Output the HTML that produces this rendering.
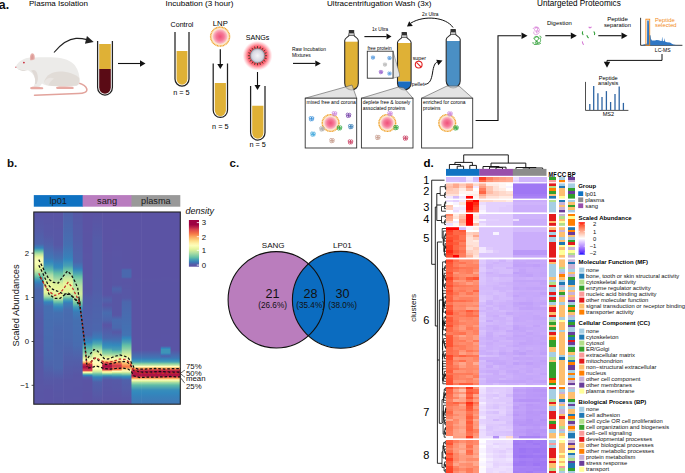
<!DOCTYPE html>
<html><head><meta charset="utf-8"><style>
html,body{margin:0;padding:0;background:#fff;width:685px;height:473px;overflow:hidden}
svg{display:block;font-family:"Liberation Sans",sans-serif}
</style></head><body>
<svg width="685" height="473" viewBox="0 0 685 473">
<rect width="685" height="473" fill="#fff"/>
<defs><radialGradient id="pinkg"><stop offset="0" stop-color="#f0507a"/><stop offset="0.55" stop-color="#f57a98"/><stop offset="1" stop-color="#fbc4cc"/></radialGradient><radialGradient id="glow"><stop offset="0.45" stop-color="#ff2a3c" stop-opacity="1"/><stop offset="0.7" stop-color="#ff5566" stop-opacity="0.75"/><stop offset="0.88" stop-color="#ff8a96" stop-opacity="0.35"/><stop offset="1" stop-color="#ffc0c8" stop-opacity="0"/></radialGradient><radialGradient id="sangc"><stop offset="0" stop-color="#f4f4f8"/><stop offset="0.7" stop-color="#d8d8e2"/><stop offset="1" stop-color="#a8a8b8"/></radialGradient></defs><text x="-1.2" y="8.8" font-size="12.3" text-anchor="start" font-weight="bold" fill="#111" font-style="normal" >a.</text><text x="29" y="6.3" font-size="8.05" text-anchor="start" font-weight="normal" fill="#000" font-style="normal" >Plasma Isolation</text><text x="165.5" y="6.3" font-size="8.1" text-anchor="start" font-weight="normal" fill="#000" font-style="normal" >Incubation (3 hour)</text><text x="327" y="6.3" font-size="8.1" text-anchor="start" font-weight="normal" fill="#000" font-style="normal" >Ultracentrifugation Wash (3x)</text><text x="537" y="6.3" font-size="8.2" text-anchor="start" font-weight="normal" fill="#000" font-style="normal" >Untargeted Proteomics</text><path d="M78.5,83 C82,84 86,86 86.8,89 C87.5,92 84,93.4 78,93.6 C68,94 52,94.6 34.5,95.3" fill="none" stroke="#e2a39c" stroke-width="1.5" stroke-linecap="round"/><path d="M15.6,67.1 C16.5,64.5 19.5,61 23.5,59.3 C26.5,57.8 29.5,57 32.5,57.6 C38,57.5 46,57.2 55,57.5 C64,57.9 71,60.5 75,65.5 C78.5,70 79.8,76 79.6,82 C79.3,85 76.5,86.3 72.5,86.3 C66,86.5 58,86.5 52,86 C47,85.6 44,85 42,83.5 C41,85 40,86.5 38.5,87.5 L33,87.5 C34.5,85 35.5,82 35,78.5 C34,75 31.5,72 28.5,70.5 C25,69.8 21,69.6 18,68.8 C16.6,68.4 15.6,67.8 15.6,67.1 Z" fill="#ecebe9"/><path d="M44,82 C46,75 52,71.5 60,71.5 C68,71.5 75,74 79.3,78 C79.8,81 79.5,84 77,85.6 C70,86.5 60,86.4 52,86 C48,85.6 45.5,84.5 44,82 Z" fill="#e1dcd7"/><path d="M44,82 C47,78 50,77 54,78.5 C51,80.5 49,83.5 48.5,85.6 C46.5,85 45,84 44,82 Z" fill="#e9e5e2"/><path d="M31,70.8 C33.5,69 36,70 37,73 C38.5,77 38,81 36.5,84 L35,84 C35.5,81 35,77 33.5,74 C32.8,72.6 32,71.5 31,70.8 Z" fill="#e0dad6"/><path d="M17,68.4 C20,69.5 24,69.8 27.5,70.2 C24,71.2 20,70.6 17,68.4 Z" fill="#d8d2cd"/><path d="M30.2,60.2 C29.4,56.5 30.5,53.3 32.3,53.2 C34.3,53.2 35.2,56.2 34.6,59.2 C33.5,60 31.5,60.5 30.2,60.2 Z" fill="#e8b3ae"/><path d="M31.2,59.5 C30.8,57 31.4,54.6 32.4,54.4 C33.5,54.4 33.9,56.8 33.4,59 Z" fill="#dc9c98"/><circle cx="23.9" cy="62.6" r="0.85" fill="#c82030"/><circle cx="15.8" cy="67.3" r="0.75" fill="#dd7c85"/><path d="M30.3,87.5 C31,86.6 33,86.5 36,86.8 L42.5,87.3 C43.6,87.6 43.6,89 42.5,89.2 L31.5,89.2 C30.4,89.1 29.8,88.3 30.3,87.5 Z" fill="#e7a9a2"/><path d="M56.2,87.3 C57,86.4 60,86.3 64,86.5 L72.5,86.8 C74,87.1 74.3,88.7 73,89.1 L57.5,89.1 C56.4,89 55.8,88.1 56.2,87.3 Z" fill="#e7a9a2"/><path d="M54,52.5 C61,44 68,39 76,38.4 C80,38.2 83,38.6 87,39.6" fill="none" stroke="#222" stroke-width="1.1"/><polygon points="93.7,41.9 84.94,43.78 86.94,36.02" fill="#222"/><rect x="99.19999999999999" y="44" width="11.600000000000023" height="25" fill="#dfb136"/><path d="M99.19999999999999,69 L110.80000000000001,69 L110.80000000000001,87.6 A5.800000000000011,6.090000000000012 0 0 1 99.19999999999999,87.6 Z" fill="#5a0b15"/><path d="M97.6,41 L97.6,87.6 A7.400000000000006,7.400000000000006 0 0 0 112.4,87.6 L112.4,41" fill="none" stroke="#222" stroke-width="1.25"/><line x1="118" y1="63.5" x2="140.00" y2="63.50" stroke="#111" stroke-width="1.1"/><polygon points="145.5,63.5 140.00,66.70 140.00,60.30" fill="#111"/><text x="182" y="26.5" font-size="7.1" text-anchor="middle" font-weight="normal" fill="#000" font-style="normal" >Control</text><path d="M176.6,51 L187.4,51 L187.4,79.0 A5.400000000000006,5.670000000000006 0 0 1 176.6,79.0 Z" fill="#dfb136"/><path d="M175,32 L175,79.0 A7.0,7.0 0 0 0 189,79.0 L189,32" fill="none" stroke="#222" stroke-width="1.25"/><text x="181.4" y="94.9" font-size="7.3" text-anchor="middle" font-weight="normal" fill="#000" font-style="normal" >n = 5</text><text x="220.3" y="25.5" font-size="7.7" text-anchor="middle" font-weight="normal" fill="#000" font-style="normal" >LNP</text><circle cx="220.1" cy="36.6" r="9.5" fill="#fde6cc" stroke="#f0a530" stroke-width="1.4" stroke-dasharray="1.1,0.45"/><circle cx="220.1" cy="36.6" r="7.3" fill="url(#pinkg)"/><line x1="220.3" y1="49.3" x2="220.30" y2="63.90" stroke="#111" stroke-width="1.2"/><polygon points="220.3,68.9 217.30,63.90 223.30,63.90" fill="#111"/><path d="M214.79999999999998,83 L225.9,83 L225.9,110.35 A5.550000000000011,5.827500000000012 0 0 1 214.79999999999998,110.35 Z" fill="#dfb136"/><path d="M213.2,63.5 L213.2,110.35 A7.150000000000006,7.150000000000006 0 0 0 227.5,110.35 L227.5,63.5" fill="none" stroke="#222" stroke-width="1.25"/><text x="220.3" y="128.5" font-size="7.3" text-anchor="middle" font-weight="normal" fill="#000" font-style="normal" >n = 5</text><text x="257.5" y="40.3" font-size="7.1" text-anchor="middle" font-weight="normal" fill="#000" font-style="normal" >SANGs</text><circle cx="257.5" cy="55.7" r="15" fill="url(#glow)"/><path d="M264.70,55.70 L267.10,55.70 M264.35,57.92 L266.63,58.67 M263.32,59.93 L265.27,61.34 M261.73,61.52 L263.14,63.47 M259.72,62.55 L260.47,64.83 M257.50,62.90 L257.50,65.30 M255.28,62.55 L254.53,64.83 M253.27,61.52 L251.86,63.47 M251.68,59.93 L249.73,61.34 M250.65,57.92 L248.37,58.67 M250.30,55.70 L247.90,55.70 M250.65,53.48 L248.37,52.73 M251.68,51.47 L249.73,50.06 M253.27,49.88 L251.86,47.93 M255.28,48.85 L254.53,46.57 M257.50,48.50 L257.50,46.10 M259.72,48.85 L260.47,46.57 M261.73,49.88 L263.14,47.93 M263.32,51.47 L265.27,50.06 M264.35,53.48 L266.63,52.73" stroke="#332" stroke-width="0.8"/><circle cx="257.5" cy="55.7" r="7.3" fill="url(#sangc)" stroke="#777" stroke-width="0.5"/><line x1="257.5" y1="72" x2="257.50" y2="85.00" stroke="#111" stroke-width="1.1"/><polygon points="257.5,90 254.50,85.00 260.50,85.00" fill="#111"/><path d="M252.2,105.7 L263.4,105.7 L263.4,132.8 A5.599999999999994,5.879999999999995 0 0 1 252.2,132.8 Z" fill="#dfb136"/><path d="M250.6,86 L250.6,132.8 A7.200000000000003,7.200000000000003 0 0 0 265,132.8 L265,86" fill="none" stroke="#222" stroke-width="1.25"/><text x="257.7" y="147.4" font-size="7.3" text-anchor="middle" font-weight="normal" fill="#000" font-style="normal" >n = 5</text><text x="292" y="51" font-size="4.95" text-anchor="start" font-weight="normal" fill="#000" font-style="normal" >Raw Incubation</text><text x="292" y="56.6" font-size="4.95" text-anchor="start" font-weight="normal" fill="#000" font-style="normal" >Mixtures</text><line x1="293" y1="63.4" x2="315.30" y2="63.40" stroke="#111" stroke-width="1.1"/><polygon points="320.8,63.4 315.30,66.40 315.30,60.40" fill="#111"/><clipPath id="uc351"><path d="M349.1,35 L353.9,35 C353.9,37 358.3,37.5 358.3,40.5 L358.3,83.2 A6.8,6.8 0 0 1 344.7,83.2 L344.7,40.5 C344.7,37.5 349.1,37 349.1,35 Z"/></clipPath><path d="M349.1,35 L353.9,35 C353.9,37 358.3,37.5 358.3,40.5 L358.3,83.2 A6.8,6.8 0 0 1 344.7,83.2 L344.7,40.5 C344.7,37.5 349.1,37 349.1,35 Z" fill="#fff"/><rect x="344.7" y="41.7" width="13.6" height="53.3" fill="#dfb136" clip-path="url(#uc351)"/><path d="M349.1,35 L353.9,35 C353.9,37 358.3,37.5 358.3,40.5 L358.3,83.2 A6.8,6.8 0 0 1 344.7,83.2 L344.7,40.5 C344.7,37.5 349.1,37 349.1,35 Z" fill="none" stroke="#2a2a2a" stroke-width="1.1"/><rect x="348.8" y="30" width="5.4" height="3.2" rx="0.6" fill="#333"/><rect x="348.9" y="33.1" width="5.2" height="2" fill="#eee" stroke="#333" stroke-width="0.6"/><text x="372" y="30.5" font-size="4.7" text-anchor="start" font-weight="normal" fill="#000" font-style="normal" >1x Ultra</text><line x1="364.4" y1="36.6" x2="386.50" y2="36.60" stroke="#111" stroke-width="1.1"/><polygon points="391.5,36.6 386.50,39.60 386.50,33.60" fill="#111"/><clipPath id="uc404"><path d="M401.90000000000003,37 L406.7,37 C406.7,39 411.1,39.5 411.1,42.5 L411.1,83.2 A6.8,6.8 0 0 1 397.5,83.2 L397.5,42.5 C397.5,39.5 401.90000000000003,39 401.90000000000003,37 Z"/></clipPath><path d="M401.90000000000003,37 L406.7,37 C406.7,39 411.1,39.5 411.1,42.5 L411.1,83.2 A6.8,6.8 0 0 1 397.5,83.2 L397.5,42.5 C397.5,39.5 401.90000000000003,39 401.90000000000003,37 Z" fill="#fff"/><rect x="397.5" y="43" width="13.6" height="38.5" fill="#dfb136" clip-path="url(#uc404)"/><rect x="397.5" y="81.5" width="13.6" height="13.5" fill="#1a6cc0" clip-path="url(#uc404)"/><path d="M401.90000000000003,37 L406.7,37 C406.7,39 411.1,39.5 411.1,42.5 L411.1,83.2 A6.8,6.8 0 0 1 397.5,83.2 L397.5,42.5 C397.5,39.5 401.90000000000003,39 401.90000000000003,37 Z" fill="none" stroke="#2a2a2a" stroke-width="1.1"/><rect x="401.6" y="32" width="5.4" height="3.2" rx="0.6" fill="#333"/><rect x="401.7" y="35.1" width="5.2" height="2" fill="#eee" stroke="#333" stroke-width="0.6"/><polygon points="393,51.2 399.5,74 399.5,76.5 393,78.2" fill="#e4e4e4" stroke="#666" stroke-width="0.5"/><rect x="367.3" y="51.2" width="25.7" height="27" fill="#fff" stroke="#333" stroke-width="0.9"/><text x="367.4" y="50" font-size="4.8" text-anchor="start" font-weight="normal" fill="#000" font-style="normal" >free protein</text><g fill="none" stroke="#5fa0e0" stroke-width="0.8"><circle cx="372.22" cy="56.915" r="0.9750000000000001"/><circle cx="373.78" cy="57.0125" r="0.9750000000000001"/><circle cx="372.415" cy="58.28" r="0.9750000000000001"/><circle cx="373.6825" cy="58.1825" r="0.8775000000000001"/></g><g fill="none" stroke="#5fa0e0" stroke-width="0.8"><circle cx="388.72" cy="57.415" r="0.9750000000000001"/><circle cx="390.28" cy="57.5125" r="0.9750000000000001"/><circle cx="388.915" cy="58.78" r="0.9750000000000001"/><circle cx="390.1825" cy="58.6825" r="0.8775000000000001"/></g><g fill="none" stroke="#bbbbbb" stroke-width="0.8"><circle cx="384.22" cy="63.915" r="0.9750000000000001"/><circle cx="385.78" cy="64.0125" r="0.9750000000000001"/><circle cx="384.415" cy="65.28" r="0.9750000000000001"/><circle cx="385.6825" cy="65.1825" r="0.8775000000000001"/></g><g fill="none" stroke="#9966cc" stroke-width="0.8"><circle cx="380.22" cy="71.415" r="0.9750000000000001"/><circle cx="381.78" cy="71.5125" r="0.9750000000000001"/><circle cx="380.415" cy="72.78" r="0.9750000000000001"/><circle cx="381.6825" cy="72.6825" r="0.8775000000000001"/></g><g fill="none" stroke="#5fa0e0" stroke-width="0.8"><circle cx="388.72" cy="72.915" r="0.9750000000000001"/><circle cx="390.28" cy="73.0125" r="0.9750000000000001"/><circle cx="388.915" cy="74.28" r="0.9750000000000001"/><circle cx="390.1825" cy="74.1825" r="0.8775000000000001"/></g><text x="412.7" y="59.8" font-size="5.3" text-anchor="start" font-weight="normal" fill="#000" font-style="normal" >super</text><circle cx="418.7" cy="64.6" r="3.4" fill="none" stroke="#e02020" stroke-width="1.1"/><line x1="416.4" y1="62.3" x2="421" y2="66.9" stroke="#e02020" stroke-width="1.1"/><text x="411.7" y="86" font-size="5.3" text-anchor="start" font-weight="normal" fill="#000" font-style="normal" >pellet</text><path d="M424.5,84.3 C430,84.3 431.5,79 432.5,73 C433.5,66 435,62.5 437.5,62" fill="none" stroke="#111" stroke-width="1"/><polygon points="442.5,60.6 438.35,65.29 436.31,59.65" fill="#111"/><text x="422" y="16" font-size="4.8" text-anchor="start" font-weight="normal" fill="#000" font-style="normal" >2x Ultra</text><path d="M453,27.5 C446,17 424,15 411,23" fill="none" stroke="#111" stroke-width="1"/><polygon points="407,26.6 409.20,21.20 412.80,26.00" fill="#111"/><clipPath id="uc453"><path d="M450.8,34 L455.59999999999997,34 C455.59999999999997,36 460.2,36.5 460.2,39.5 L460.2,81.0 A7.0,7.0 0 0 1 446.2,81.0 L446.2,39.5 C446.2,36.5 450.8,36 450.8,34 Z"/></clipPath><path d="M450.8,34 L455.59999999999997,34 C455.59999999999997,36 460.2,36.5 460.2,39.5 L460.2,81.0 A7.0,7.0 0 0 1 446.2,81.0 L446.2,39.5 C446.2,36.5 450.8,36 450.8,34 Z" fill="#fff"/><rect x="446.2" y="41" width="14" height="54" fill="#4a8fc4" clip-path="url(#uc453)"/><path d="M450.8,34 L455.59999999999997,34 C455.59999999999997,36 460.2,36.5 460.2,39.5 L460.2,81.0 A7.0,7.0 0 0 1 446.2,81.0 L446.2,39.5 C446.2,36.5 450.8,36 450.8,34 Z" fill="none" stroke="#2a2a2a" stroke-width="1.1"/><rect x="450.5" y="29" width="5.4" height="3.2" rx="0.6" fill="#333"/><rect x="450.59999999999997" y="32.1" width="5.2" height="2" fill="#eee" stroke="#333" stroke-width="0.6"/><polygon points="305.2,98.2 347,86.5 352,85 356.7,98.2" fill="#d9d9d9" fill-opacity="0.75" stroke="#555" stroke-width="0.6"/><polygon points="361.4,98.2 398.5,87 404,88 413,98.2" fill="#d9d9d9" fill-opacity="0.75" stroke="#555" stroke-width="0.6"/><polygon points="421.6,98.2 447,86 459,86 472.7,98.2" fill="#d9d9d9" fill-opacity="0.75" stroke="#555" stroke-width="0.6"/><rect x="305.2" y="98.2" width="51.5" height="49.8" fill="#fff" stroke="#333" stroke-width="0.9"/><rect x="361.4" y="98.2" width="51.60000000000002" height="49.8" fill="#fff" stroke="#333" stroke-width="0.9"/><rect x="421.6" y="98.2" width="51.099999999999966" height="49.8" fill="#fff" stroke="#333" stroke-width="0.9"/><text x="306.6" y="104" font-size="4.95" text-anchor="start" font-weight="normal" fill="#000" font-style="normal" >mixed free and corona</text><text x="362.8" y="104" font-size="4.95" text-anchor="start" font-weight="normal" fill="#000" font-style="normal" >deplete free &amp; loosely</text><text x="362.8" y="109.6" font-size="4.95" text-anchor="start" font-weight="normal" fill="#000" font-style="normal" >associated proteins</text><text x="423" y="104" font-size="4.95" text-anchor="start" font-weight="normal" fill="#000" font-style="normal" >enriched for corona</text><text x="423" y="109.6" font-size="4.95" text-anchor="start" font-weight="normal" fill="#000" font-style="normal" >proteins</text><circle cx="330.6" cy="123" r="8.4" fill="#fde6cc" stroke="#f0a530" stroke-width="1.4" stroke-dasharray="1.1,0.45"/><circle cx="330.6" cy="123" r="6.2" fill="url(#pinkg)"/><circle cx="387.3" cy="123" r="8.4" fill="#fde6cc" stroke="#f0a530" stroke-width="1.4" stroke-dasharray="1.1,0.45"/><circle cx="387.3" cy="123" r="6.2" fill="url(#pinkg)"/><circle cx="447.2" cy="123" r="8.4" fill="#fde6cc" stroke="#f0a530" stroke-width="1.4" stroke-dasharray="1.1,0.45"/><circle cx="447.2" cy="123" r="6.2" fill="url(#pinkg)"/><g fill="none" stroke="#cc88dd" stroke-width="0.8"><circle cx="333.46" cy="112.82" r="1.3"/><circle cx="335.54" cy="112.94999999999999" r="1.3"/><circle cx="333.72" cy="114.64" r="1.3"/><circle cx="335.41" cy="114.50999999999999" r="1.1700000000000002"/></g><g fill="none" stroke="#33aa44" stroke-width="0.8"><circle cx="338.46" cy="127.02" r="1.3"/><circle cx="340.54" cy="127.14999999999999" r="1.3"/><circle cx="338.72" cy="128.84" r="1.3"/><circle cx="340.41" cy="128.71" r="1.1700000000000002"/></g><g fill="none" stroke="#3a8fd8" stroke-width="0.8"><circle cx="310.46" cy="117.82" r="1.3"/><circle cx="312.54" cy="117.94999999999999" r="1.3"/><circle cx="310.72" cy="119.64" r="1.3"/><circle cx="312.41" cy="119.50999999999999" r="1.1700000000000002"/></g><g fill="none" stroke="#7744aa" stroke-width="0.8"><circle cx="347.46" cy="114.42" r="1.3"/><circle cx="349.54" cy="114.55" r="1.3"/><circle cx="347.72" cy="116.24000000000001" r="1.3"/><circle cx="349.41" cy="116.11" r="1.1700000000000002"/></g><g fill="none" stroke="#3a7fb8" stroke-width="0.8"><circle cx="349.76" cy="125.72" r="1.3"/><circle cx="351.84000000000003" cy="125.85" r="1.3"/><circle cx="350.02000000000004" cy="127.54" r="1.3"/><circle cx="351.71000000000004" cy="127.41" r="1.1700000000000002"/></g><g fill="none" stroke="#aaaaaa" stroke-width="0.8"><circle cx="320.96" cy="128.02" r="1.3"/><circle cx="323.04" cy="128.15" r="1.3"/><circle cx="321.22" cy="129.84" r="1.3"/><circle cx="322.91" cy="129.71" r="1.1700000000000002"/></g><g fill="none" stroke="#44aadd" stroke-width="0.8"><circle cx="311.96" cy="133.22" r="1.3"/><circle cx="314.04" cy="133.35" r="1.3"/><circle cx="312.22" cy="135.04" r="1.3"/><circle cx="313.91" cy="134.91" r="1.1700000000000002"/></g><g fill="none" stroke="#c8a090" stroke-width="0.8"><circle cx="330.96" cy="139.72" r="1.3"/><circle cx="333.04" cy="139.85" r="1.3"/><circle cx="331.22" cy="141.54" r="1.3"/><circle cx="332.91" cy="141.41" r="1.1700000000000002"/></g><g fill="none" stroke="#cc4466" stroke-width="0.8"><circle cx="349.46" cy="141.02" r="1.3"/><circle cx="351.54" cy="141.15" r="1.3"/><circle cx="349.72" cy="142.84" r="1.3"/><circle cx="351.41" cy="142.71" r="1.1700000000000002"/></g><g fill="none" stroke="#cc88dd" stroke-width="0.8"><circle cx="388.96" cy="112.82" r="1.3"/><circle cx="391.04" cy="112.94999999999999" r="1.3"/><circle cx="389.22" cy="114.64" r="1.3"/><circle cx="390.91" cy="114.50999999999999" r="1.1700000000000002"/></g><g fill="none" stroke="#33aa44" stroke-width="0.8"><circle cx="394.96" cy="126.72" r="1.3"/><circle cx="397.04" cy="126.85" r="1.3"/><circle cx="395.22" cy="128.54" r="1.3"/><circle cx="396.91" cy="128.41" r="1.1700000000000002"/></g><g fill="none" stroke="#c8a090" stroke-width="0.8"><circle cx="376.76" cy="136.52" r="1.3"/><circle cx="378.84000000000003" cy="136.65" r="1.3"/><circle cx="377.02000000000004" cy="138.34" r="1.3"/><circle cx="378.71000000000004" cy="138.21" r="1.1700000000000002"/></g><g fill="none" stroke="#cc4466" stroke-width="0.8"><circle cx="404.46" cy="137.22" r="1.3"/><circle cx="406.54" cy="137.35" r="1.3"/><circle cx="404.72" cy="139.04" r="1.3"/><circle cx="406.41" cy="138.91" r="1.1700000000000002"/></g><g fill="none" stroke="#cc88dd" stroke-width="0.8"><circle cx="448.96" cy="113.02" r="1.3"/><circle cx="451.04" cy="113.14999999999999" r="1.3"/><circle cx="449.22" cy="114.84" r="1.3"/><circle cx="450.91" cy="114.71" r="1.1700000000000002"/></g><g fill="none" stroke="#33aa44" stroke-width="0.8"><circle cx="454.96" cy="127.02" r="1.3"/><circle cx="457.04" cy="127.14999999999999" r="1.3"/><circle cx="455.22" cy="128.84" r="1.3"/><circle cx="456.91" cy="128.71" r="1.1700000000000002"/></g><path d="M475.6,120.5 L498,120.5 L498,35.7 L521,35.7" fill="none" stroke="#111" stroke-width="1.1"/><polygon points="527.5,35.7 521.50,39.00 521.50,32.40" fill="#111"/><g fill="none" stroke="#d67ad6" stroke-width="0.7"><path d="M533,29 c1,-2.5 4,-2.5 4.5,0 c0.5,2 -2.5,3 -3,1 c-0.5,-2 3,-3.5 4.5,-1.5 c1.2,1.8 -0.5,4 -2.5,3.5"/><path d="M534,31.5 c-1,2 1,4 3,3 c2,-1 3,-2.5 1.5,-3.5 c-1.5,-1 -3,1 -1.5,2.5"/><path d="M535,27.5 c2,-1.5 4,0 3,1.5"/></g><g fill="none" stroke="#2e9e35" stroke-width="0.85"><path d="M533.5,38.5 c1,-2.5 4.5,-2.5 5,-0.5 c0.5,2 -2,3.5 -3.5,2 c-1.5,-1.5 1,-4 3,-3 c2,1 3.5,3 2,5 c-1.5,2 -4,1 -3.5,-1"/><path d="M533,42 c-0.5,2 1.5,3 3.5,2.3 c2,-0.7 2,-2.5 0.5,-3 c-1.5,-0.5 -2.5,1.5 -1,2.5 c1.5,1 4,0.5 5,-1"/><path d="M539.5,36 c1.5,0 2,1.5 1,2.5"/></g><text x="547" y="24.6" font-size="5.95" text-anchor="start" font-weight="normal" fill="#000" font-style="normal" >Digestion</text><line x1="545.3" y1="35.7" x2="570.80" y2="35.70" stroke="#111" stroke-width="1.1"/><polygon points="576.8,35.7 570.80,39.00 570.80,32.40" fill="#111"/><g fill="none" stroke-width="1.1" stroke-linecap="round"><path d="M589,27.2 q1,1.3 2.2,0" stroke="#d67ad6"/><path d="M582.6,31.8 q-0.8,1.5 0.4,2.8" stroke="#2e9e35"/><path d="M587,35.5 q0.2,1.5 1.3,2.2" stroke="#2e9e35"/><path d="M594,31.8 q1.2,1.3 0.5,2.8" stroke="#2e9e35"/><path d="M582.4,41.8 q0,1.5 1,2.6" stroke="#d67ad6"/></g><text x="617.5" y="21.3" font-size="6.1" text-anchor="middle" font-weight="normal" fill="#000" font-style="normal" >Peptide</text><text x="617.5" y="26.8" font-size="5.8" text-anchor="middle" font-weight="normal" fill="#000" font-style="normal" >separation</text><line x1="598.3" y1="35.7" x2="621.50" y2="35.70" stroke="#111" stroke-width="1.1"/><polygon points="627.5,35.7 621.50,39.00 621.50,32.40" fill="#111"/><path d="M640.6,17.8 L640.6,45.3 L682.4,45.3" fill="none" stroke="#222" stroke-width="0.9"/><path d="M642.5,45.2 L643.6,44.4 L645.5,44 L647,43.5 L647.2,20.5 L648.8,20.5 L649.4,35.3 L650.5,35.3 L651,39 L652,40.6 L655,40.4 L656.5,40 L658.8,40.3 L661,41 L661.7,41 L662.2,36.4 L662.8,41 L664,41.2 L664.5,38 L665,41.5 L667,42.3 L670,42.5 L671.5,43.5 L673.3,44.4 L676,44.9 L682,45.2 Z" fill="#2f77c4"/><rect x="645.9" y="19.2" width="3.8" height="26" fill="none" stroke="#f28a1e" stroke-width="0.9"/><text x="655" y="22.2" font-size="5.8" text-anchor="start" font-weight="normal" fill="#f28a1e" font-style="normal" >Peptide</text><text x="655" y="26.9" font-size="5.8" text-anchor="start" font-weight="normal" fill="#f28a1e" font-style="normal" >selected</text><text x="662.7" y="52.1" font-size="5.05" text-anchor="middle" font-weight="normal" fill="#000" font-style="normal" >LC-MS</text><path d="M662,54 L662,60.4 L607,60.4 L607,62" fill="none" stroke="#111" stroke-width="1"/><polygon points="607,67.8 603.80,61.80 610.20,61.80" fill="#111"/><text x="608.2" y="79.6" font-size="5.6" text-anchor="middle" font-weight="normal" fill="#000" font-style="normal" >Peptide</text><text x="608.2" y="85" font-size="5.6" text-anchor="middle" font-weight="normal" fill="#000" font-style="normal" >analysis</text><path d="M585.5,81.9 L585.5,110.4 L628.4,110.4" fill="none" stroke="#222" stroke-width="0.8"/><line x1="589.8" y1="104" x2="589.8" y2="110" stroke="#2d64a3" stroke-width="1.3"/><line x1="593.7" y1="86.1" x2="593.7" y2="110" stroke="#2d64a3" stroke-width="1.3"/><line x1="597.9" y1="93.3" x2="597.9" y2="110" stroke="#2d64a3" stroke-width="1.3"/><line x1="602" y1="97" x2="602" y2="110" stroke="#2d64a3" stroke-width="1.3"/><line x1="606.4" y1="91.1" x2="606.4" y2="110" stroke="#2d64a3" stroke-width="1.3"/><line x1="610.6" y1="102" x2="610.6" y2="110" stroke="#2d64a3" stroke-width="1.3"/><line x1="615" y1="94" x2="615" y2="110" stroke="#2d64a3" stroke-width="1.3"/><line x1="619.2" y1="86.6" x2="619.2" y2="110" stroke="#2d64a3" stroke-width="1.3"/><line x1="623.4" y1="102.9" x2="623.4" y2="110" stroke="#2d64a3" stroke-width="1.3"/><text x="608.3" y="116.2" font-size="5.5" text-anchor="middle" font-weight="normal" fill="#000" font-style="normal" >MS2</text><text x="7" y="167" font-size="11.5" text-anchor="start" font-weight="bold" fill="#111" font-style="normal" >b.</text><rect x="33.80" y="195.1" width="49.33" height="11.6" fill="#0f72c2"/><text x="58.22" y="204" font-size="9.2" text-anchor="middle" font-weight="normal" fill="#1a1a1a" font-style="normal" >lp01</text><rect x="82.63" y="195.1" width="49.33" height="11.6" fill="#b97cbf"/><text x="107.05" y="204" font-size="9.2" text-anchor="middle" font-weight="normal" fill="#1a1a1a" font-style="normal" >sang</text><rect x="131.47" y="195.1" width="48.83" height="11.6" fill="#999999"/><text x="155.88" y="204" font-size="9.2" text-anchor="middle" font-weight="normal" fill="#1a1a1a" font-style="normal" >plasma</text><defs><linearGradient id="bc0" x1="0" y1="0" x2="0" y2="1"><stop offset="0.0000" stop-color="#5a54a5"/><stop offset="0.0078" stop-color="#5955a5"/><stop offset="0.0156" stop-color="#5955a5"/><stop offset="0.0234" stop-color="#5956a5"/><stop offset="0.0312" stop-color="#5856a6"/><stop offset="0.0390" stop-color="#5857a6"/><stop offset="0.0468" stop-color="#5757a6"/><stop offset="0.0546" stop-color="#5758a6"/><stop offset="0.0624" stop-color="#5758a6"/><stop offset="0.0702" stop-color="#5659a7"/><stop offset="0.0780" stop-color="#565aa7"/><stop offset="0.0832" stop-color="#565aa7"/><stop offset="0.0858" stop-color="#555aa7"/><stop offset="0.0937" stop-color="#555ba8"/><stop offset="0.1015" stop-color="#545ca8"/><stop offset="0.1093" stop-color="#535da9"/><stop offset="0.1171" stop-color="#525ea9"/><stop offset="0.1249" stop-color="#515faa"/><stop offset="0.1327" stop-color="#5160aa"/><stop offset="0.1405" stop-color="#5061ab"/><stop offset="0.1483" stop-color="#4f62ab"/><stop offset="0.1561" stop-color="#4e63ac"/><stop offset="0.1639" stop-color="#4e64ac"/><stop offset="0.1665" stop-color="#4d65ac"/><stop offset="0.1717" stop-color="#476db0"/><stop offset="0.1795" stop-color="#3e79b6"/><stop offset="0.1873" stop-color="#3485bc"/><stop offset="0.1951" stop-color="#48a1b3"/><stop offset="0.2029" stop-color="#61bca7"/><stop offset="0.2107" stop-color="#8bd1a4"/><stop offset="0.2185" stop-color="#b5e1a2"/><stop offset="0.2263" stop-color="#d1ed9c"/><stop offset="0.2341" stop-color="#e9f69d"/><stop offset="0.2393" stop-color="#f1f9a9"/><stop offset="0.2419" stop-color="#f2faab"/><stop offset="0.2497" stop-color="#f5fbb0"/><stop offset="0.2575" stop-color="#f8fcb4"/><stop offset="0.2601" stop-color="#f9fdb6"/><stop offset="0.2653" stop-color="#f7fcb2"/><stop offset="0.2732" stop-color="#f3faac"/><stop offset="0.2810" stop-color="#f0f9a7"/><stop offset="0.2862" stop-color="#edf8a3"/><stop offset="0.2888" stop-color="#ebf79f"/><stop offset="0.2966" stop-color="#dff299"/><stop offset="0.3044" stop-color="#ceeb9d"/><stop offset="0.3070" stop-color="#c8e99e"/><stop offset="0.3122" stop-color="#b8e2a1"/><stop offset="0.3200" stop-color="#9fd8a4"/><stop offset="0.3226" stop-color="#96d5a4"/><stop offset="0.3278" stop-color="#84cea5"/><stop offset="0.3356" stop-color="#69c3a5"/><stop offset="0.3382" stop-color="#61bca7"/><stop offset="0.3434" stop-color="#56b0ac"/><stop offset="0.3512" stop-color="#469eb4"/><stop offset="0.3538" stop-color="#4098b7"/><stop offset="0.3590" stop-color="#398fba"/><stop offset="0.3668" stop-color="#3683bb"/><stop offset="0.3746" stop-color="#3f77b5"/><stop offset="0.3824" stop-color="#4273b3"/><stop offset="0.3902" stop-color="#466fb1"/><stop offset="0.3980" stop-color="#496baf"/><stop offset="0.4058" stop-color="#4c67ad"/><stop offset="0.4136" stop-color="#4c67ad"/><stop offset="0.4214" stop-color="#4c67ad"/><stop offset="0.4292" stop-color="#4c67ad"/><stop offset="0.4370" stop-color="#4c67ad"/><stop offset="0.4448" stop-color="#4c67ad"/><stop offset="0.4527" stop-color="#4c67ad"/><stop offset="0.4579" stop-color="#4c67ad"/><stop offset="0.4605" stop-color="#4c66ad"/><stop offset="0.4683" stop-color="#4e64ac"/><stop offset="0.4761" stop-color="#4f63ab"/><stop offset="0.4839" stop-color="#5061ab"/><stop offset="0.4917" stop-color="#5061aa"/><stop offset="0.4995" stop-color="#5160aa"/><stop offset="0.5073" stop-color="#515faa"/><stop offset="0.5151" stop-color="#525faa"/><stop offset="0.5229" stop-color="#525ea9"/><stop offset="0.5307" stop-color="#535ea9"/><stop offset="0.5385" stop-color="#535da9"/><stop offset="0.5463" stop-color="#535da9"/><stop offset="0.5541" stop-color="#545ca8"/><stop offset="0.5619" stop-color="#545ca8"/><stop offset="0.5697" stop-color="#545ca8"/><stop offset="0.5775" stop-color="#545ba8"/><stop offset="0.5853" stop-color="#555ba8"/><stop offset="0.5931" stop-color="#555ba8"/><stop offset="0.6009" stop-color="#555ba8"/><stop offset="0.6087" stop-color="#555ba8"/><stop offset="0.6165" stop-color="#555ba8"/><stop offset="0.6243" stop-color="#555ba8"/><stop offset="0.6322" stop-color="#555ba7"/><stop offset="0.6400" stop-color="#555aa7"/><stop offset="0.6478" stop-color="#555aa7"/><stop offset="0.6556" stop-color="#555aa7"/><stop offset="0.6634" stop-color="#565aa7"/><stop offset="0.6712" stop-color="#565aa7"/><stop offset="0.6790" stop-color="#565aa7"/><stop offset="0.6868" stop-color="#565aa7"/><stop offset="0.6946" stop-color="#5659a7"/><stop offset="0.7024" stop-color="#5659a7"/><stop offset="0.7102" stop-color="#5659a7"/><stop offset="0.7180" stop-color="#5659a7"/><stop offset="0.7258" stop-color="#5659a7"/><stop offset="0.7336" stop-color="#5659a7"/><stop offset="0.7414" stop-color="#5759a7"/><stop offset="0.7492" stop-color="#5759a7"/><stop offset="0.7570" stop-color="#5758a6"/><stop offset="0.7648" stop-color="#5758a6"/><stop offset="0.7726" stop-color="#5758a6"/><stop offset="0.7804" stop-color="#5758a6"/><stop offset="0.7882" stop-color="#5758a6"/><stop offset="0.7960" stop-color="#5758a6"/><stop offset="0.8039" stop-color="#5758a6"/><stop offset="0.8117" stop-color="#5758a6"/><stop offset="0.8195" stop-color="#5857a6"/><stop offset="0.8273" stop-color="#5857a6"/><stop offset="0.8351" stop-color="#5857a6"/><stop offset="0.8429" stop-color="#5857a6"/><stop offset="0.8507" stop-color="#5857a6"/><stop offset="0.8585" stop-color="#5857a6"/><stop offset="0.8663" stop-color="#5857a6"/><stop offset="0.8741" stop-color="#5856a6"/><stop offset="0.8819" stop-color="#5856a5"/><stop offset="0.8897" stop-color="#5856a5"/><stop offset="0.8975" stop-color="#5956a5"/><stop offset="0.9053" stop-color="#5956a5"/><stop offset="0.9131" stop-color="#5956a5"/><stop offset="0.9209" stop-color="#5956a5"/><stop offset="0.9287" stop-color="#5956a5"/><stop offset="0.9365" stop-color="#5955a5"/><stop offset="0.9443" stop-color="#5955a5"/><stop offset="0.9521" stop-color="#5955a5"/><stop offset="0.9599" stop-color="#5955a5"/><stop offset="0.9677" stop-color="#5955a5"/><stop offset="0.9755" stop-color="#5a55a5"/><stop offset="0.9834" stop-color="#5a55a5"/><stop offset="0.9912" stop-color="#5a55a5"/><stop offset="0.9990" stop-color="#5a54a5"/></linearGradient><linearGradient id="bc1" x1="0" y1="0" x2="0" y2="1"><stop offset="0.0000" stop-color="#5a54a5"/><stop offset="0.0078" stop-color="#5a55a5"/><stop offset="0.0156" stop-color="#5955a5"/><stop offset="0.0234" stop-color="#5955a5"/><stop offset="0.0312" stop-color="#5955a5"/><stop offset="0.0390" stop-color="#5956a5"/><stop offset="0.0468" stop-color="#5956a5"/><stop offset="0.0546" stop-color="#5956a5"/><stop offset="0.0624" stop-color="#5856a5"/><stop offset="0.0702" stop-color="#5857a6"/><stop offset="0.0780" stop-color="#5857a6"/><stop offset="0.0858" stop-color="#5857a6"/><stop offset="0.0937" stop-color="#5857a6"/><stop offset="0.1015" stop-color="#5757a6"/><stop offset="0.1093" stop-color="#5758a6"/><stop offset="0.1171" stop-color="#5758a6"/><stop offset="0.1197" stop-color="#5758a6"/><stop offset="0.1249" stop-color="#5659a7"/><stop offset="0.1327" stop-color="#555aa7"/><stop offset="0.1405" stop-color="#545ca8"/><stop offset="0.1483" stop-color="#535da9"/><stop offset="0.1561" stop-color="#525ea9"/><stop offset="0.1639" stop-color="#5160aa"/><stop offset="0.1717" stop-color="#5061ab"/><stop offset="0.1795" stop-color="#4e64ac"/><stop offset="0.1873" stop-color="#4c66ad"/><stop offset="0.1951" stop-color="#4a69ae"/><stop offset="0.2029" stop-color="#486baf"/><stop offset="0.2107" stop-color="#466eb1"/><stop offset="0.2185" stop-color="#4470b2"/><stop offset="0.2263" stop-color="#4273b3"/><stop offset="0.2341" stop-color="#4175b4"/><stop offset="0.2393" stop-color="#3f77b5"/><stop offset="0.2419" stop-color="#3d79b6"/><stop offset="0.2497" stop-color="#3880b9"/><stop offset="0.2575" stop-color="#3387bd"/><stop offset="0.2653" stop-color="#388eba"/><stop offset="0.2732" stop-color="#3e95b8"/><stop offset="0.2758" stop-color="#4098b7"/><stop offset="0.2810" stop-color="#479fb3"/><stop offset="0.2888" stop-color="#51aaaf"/><stop offset="0.2966" stop-color="#5ab5aa"/><stop offset="0.3018" stop-color="#61bca7"/><stop offset="0.3044" stop-color="#67c2a5"/><stop offset="0.3122" stop-color="#7ecba5"/><stop offset="0.3200" stop-color="#95d4a4"/><stop offset="0.3278" stop-color="#acdda4"/><stop offset="0.3356" stop-color="#b7e2a2"/><stop offset="0.3434" stop-color="#c2e79f"/><stop offset="0.3512" stop-color="#ceeb9d"/><stop offset="0.3538" stop-color="#d1ed9c"/><stop offset="0.3590" stop-color="#d7ef9b"/><stop offset="0.3668" stop-color="#dff299"/><stop offset="0.3746" stop-color="#e7f599"/><stop offset="0.3798" stop-color="#e9f69d"/><stop offset="0.3824" stop-color="#e9f69d"/><stop offset="0.3902" stop-color="#e9f69d"/><stop offset="0.3980" stop-color="#e9f69d"/><stop offset="0.4058" stop-color="#e9f69d"/><stop offset="0.4136" stop-color="#e9f69d"/><stop offset="0.4162" stop-color="#e9f69d"/><stop offset="0.4214" stop-color="#dff299"/><stop offset="0.4292" stop-color="#caea9e"/><stop offset="0.4370" stop-color="#b5e1a2"/><stop offset="0.4448" stop-color="#8bd1a4"/><stop offset="0.4527" stop-color="#61bca7"/><stop offset="0.4605" stop-color="#48a1b3"/><stop offset="0.4683" stop-color="#3485bc"/><stop offset="0.4761" stop-color="#3a7db8"/><stop offset="0.4839" stop-color="#4175b4"/><stop offset="0.4891" stop-color="#4570b1"/><stop offset="0.4917" stop-color="#456fb1"/><stop offset="0.4995" stop-color="#456fb1"/><stop offset="0.5073" stop-color="#456fb1"/><stop offset="0.5151" stop-color="#456fb1"/><stop offset="0.5229" stop-color="#466fb1"/><stop offset="0.5307" stop-color="#466eb1"/><stop offset="0.5385" stop-color="#466eb1"/><stop offset="0.5463" stop-color="#466eb1"/><stop offset="0.5541" stop-color="#466eb1"/><stop offset="0.5619" stop-color="#466db0"/><stop offset="0.5697" stop-color="#476db0"/><stop offset="0.5775" stop-color="#476db0"/><stop offset="0.5853" stop-color="#476db0"/><stop offset="0.5931" stop-color="#476db0"/><stop offset="0.6009" stop-color="#476cb0"/><stop offset="0.6087" stop-color="#486cb0"/><stop offset="0.6139" stop-color="#486cb0"/><stop offset="0.6165" stop-color="#486cb0"/><stop offset="0.6243" stop-color="#486cb0"/><stop offset="0.6322" stop-color="#486cb0"/><stop offset="0.6400" stop-color="#486cb0"/><stop offset="0.6478" stop-color="#486baf"/><stop offset="0.6556" stop-color="#486baf"/><stop offset="0.6634" stop-color="#486baf"/><stop offset="0.6712" stop-color="#486baf"/><stop offset="0.6790" stop-color="#496baf"/><stop offset="0.6868" stop-color="#496baf"/><stop offset="0.6946" stop-color="#496baf"/><stop offset="0.7024" stop-color="#496aaf"/><stop offset="0.7102" stop-color="#496aaf"/><stop offset="0.7180" stop-color="#496aaf"/><stop offset="0.7258" stop-color="#496aaf"/><stop offset="0.7336" stop-color="#4a69ae"/><stop offset="0.7414" stop-color="#4a69ae"/><stop offset="0.7492" stop-color="#4b68ae"/><stop offset="0.7570" stop-color="#4b67ae"/><stop offset="0.7648" stop-color="#4c67ad"/><stop offset="0.7726" stop-color="#4c66ad"/><stop offset="0.7804" stop-color="#4c66ad"/><stop offset="0.7882" stop-color="#4d65ad"/><stop offset="0.7960" stop-color="#4d65ac"/><stop offset="0.8039" stop-color="#4e63ac"/><stop offset="0.8117" stop-color="#4f62ab"/><stop offset="0.8195" stop-color="#5061ab"/><stop offset="0.8273" stop-color="#5160aa"/><stop offset="0.8351" stop-color="#525ea9"/><stop offset="0.8429" stop-color="#535da9"/><stop offset="0.8507" stop-color="#545ca8"/><stop offset="0.8585" stop-color="#555ba8"/><stop offset="0.8637" stop-color="#565aa7"/><stop offset="0.8663" stop-color="#565aa7"/><stop offset="0.8741" stop-color="#5659a7"/><stop offset="0.8819" stop-color="#5758a6"/><stop offset="0.8897" stop-color="#5758a6"/><stop offset="0.8975" stop-color="#5857a6"/><stop offset="0.9053" stop-color="#5856a5"/><stop offset="0.9131" stop-color="#5956a5"/><stop offset="0.9209" stop-color="#5955a5"/><stop offset="0.9261" stop-color="#5a54a5"/><stop offset="0.9287" stop-color="#5a54a5"/><stop offset="0.9365" stop-color="#5a54a5"/><stop offset="0.9443" stop-color="#5a54a5"/><stop offset="0.9521" stop-color="#5a54a5"/><stop offset="0.9599" stop-color="#5a54a5"/><stop offset="0.9677" stop-color="#5a54a5"/><stop offset="0.9755" stop-color="#5a54a5"/><stop offset="0.9834" stop-color="#5a54a5"/><stop offset="0.9912" stop-color="#5a54a5"/><stop offset="0.9990" stop-color="#5a54a5"/></linearGradient><linearGradient id="bc2" x1="0" y1="0" x2="0" y2="1"><stop offset="0.0000" stop-color="#5a54a5"/><stop offset="0.0078" stop-color="#5a55a5"/><stop offset="0.0156" stop-color="#5a55a5"/><stop offset="0.0234" stop-color="#5955a5"/><stop offset="0.0312" stop-color="#5955a5"/><stop offset="0.0390" stop-color="#5955a5"/><stop offset="0.0468" stop-color="#5955a5"/><stop offset="0.0546" stop-color="#5956a5"/><stop offset="0.0624" stop-color="#5956a5"/><stop offset="0.0702" stop-color="#5956a5"/><stop offset="0.0780" stop-color="#5956a5"/><stop offset="0.0858" stop-color="#5856a5"/><stop offset="0.0937" stop-color="#5856a6"/><stop offset="0.1015" stop-color="#5857a6"/><stop offset="0.1093" stop-color="#5857a6"/><stop offset="0.1171" stop-color="#5857a6"/><stop offset="0.1249" stop-color="#5857a6"/><stop offset="0.1327" stop-color="#5857a6"/><stop offset="0.1405" stop-color="#5857a6"/><stop offset="0.1483" stop-color="#5758a6"/><stop offset="0.1561" stop-color="#5758a6"/><stop offset="0.1639" stop-color="#5758a6"/><stop offset="0.1717" stop-color="#5758a6"/><stop offset="0.1795" stop-color="#555ba8"/><stop offset="0.1873" stop-color="#535da9"/><stop offset="0.1951" stop-color="#5160aa"/><stop offset="0.2029" stop-color="#4f63ab"/><stop offset="0.2107" stop-color="#4d66ad"/><stop offset="0.2185" stop-color="#4a68ae"/><stop offset="0.2263" stop-color="#486baf"/><stop offset="0.2341" stop-color="#466eb1"/><stop offset="0.2393" stop-color="#4570b1"/><stop offset="0.2419" stop-color="#4471b2"/><stop offset="0.2497" stop-color="#4076b4"/><stop offset="0.2575" stop-color="#3d7ab7"/><stop offset="0.2653" stop-color="#397fb9"/><stop offset="0.2732" stop-color="#3584bb"/><stop offset="0.2810" stop-color="#3288bd"/><stop offset="0.2888" stop-color="#368dbb"/><stop offset="0.2914" stop-color="#388eba"/><stop offset="0.2966" stop-color="#4098b7"/><stop offset="0.3044" stop-color="#4ca5b1"/><stop offset="0.3122" stop-color="#59b3ab"/><stop offset="0.3174" stop-color="#61bca7"/><stop offset="0.3200" stop-color="#65c1a5"/><stop offset="0.3278" stop-color="#75c8a5"/><stop offset="0.3356" stop-color="#86cea5"/><stop offset="0.3434" stop-color="#96d5a4"/><stop offset="0.3486" stop-color="#a1d9a4"/><stop offset="0.3512" stop-color="#a8dca4"/><stop offset="0.3590" stop-color="#b9e3a1"/><stop offset="0.3668" stop-color="#caea9e"/><stop offset="0.3746" stop-color="#dbf09a"/><stop offset="0.3824" stop-color="#e0f399"/><stop offset="0.3902" stop-color="#e5f598"/><stop offset="0.3980" stop-color="#e8f69b"/><stop offset="0.4058" stop-color="#eaf79f"/><stop offset="0.4136" stop-color="#ecf8a2"/><stop offset="0.4162" stop-color="#edf8a3"/><stop offset="0.4214" stop-color="#eaf79f"/><stop offset="0.4292" stop-color="#e7f599"/><stop offset="0.4370" stop-color="#def29a"/><stop offset="0.4448" stop-color="#d5ee9c"/><stop offset="0.4475" stop-color="#d1ed9c"/><stop offset="0.4527" stop-color="#b8e2a1"/><stop offset="0.4605" stop-color="#8fd2a4"/><stop offset="0.4631" stop-color="#80cca5"/><stop offset="0.4683" stop-color="#6ac4a5"/><stop offset="0.4761" stop-color="#51aaaf"/><stop offset="0.4787" stop-color="#48a1b3"/><stop offset="0.4839" stop-color="#4199b6"/><stop offset="0.4917" stop-color="#378dbb"/><stop offset="0.4995" stop-color="#3782ba"/><stop offset="0.5073" stop-color="#3b7cb7"/><stop offset="0.5151" stop-color="#3f77b5"/><stop offset="0.5229" stop-color="#4371b2"/><stop offset="0.5255" stop-color="#4570b1"/><stop offset="0.5307" stop-color="#456fb1"/><stop offset="0.5385" stop-color="#466fb1"/><stop offset="0.5463" stop-color="#466eb1"/><stop offset="0.5541" stop-color="#476db0"/><stop offset="0.5619" stop-color="#476db0"/><stop offset="0.5697" stop-color="#486cb0"/><stop offset="0.5775" stop-color="#486baf"/><stop offset="0.5853" stop-color="#496baf"/><stop offset="0.5931" stop-color="#496aaf"/><stop offset="0.6009" stop-color="#4a69af"/><stop offset="0.6087" stop-color="#4a69ae"/><stop offset="0.6139" stop-color="#4a68ae"/><stop offset="0.6165" stop-color="#4a68ae"/><stop offset="0.6243" stop-color="#4b68ae"/><stop offset="0.6322" stop-color="#4b68ae"/><stop offset="0.6400" stop-color="#4b68ae"/><stop offset="0.6478" stop-color="#4b68ae"/><stop offset="0.6556" stop-color="#4b68ae"/><stop offset="0.6634" stop-color="#4b67ae"/><stop offset="0.6712" stop-color="#4b67ae"/><stop offset="0.6790" stop-color="#4b67ad"/><stop offset="0.6868" stop-color="#4b67ad"/><stop offset="0.6946" stop-color="#4c67ad"/><stop offset="0.7024" stop-color="#4c67ad"/><stop offset="0.7102" stop-color="#4c67ad"/><stop offset="0.7180" stop-color="#4c67ad"/><stop offset="0.7258" stop-color="#4c67ad"/><stop offset="0.7336" stop-color="#4c67ad"/><stop offset="0.7414" stop-color="#4c67ad"/><stop offset="0.7492" stop-color="#4c67ad"/><stop offset="0.7570" stop-color="#4c67ad"/><stop offset="0.7648" stop-color="#4c67ad"/><stop offset="0.7726" stop-color="#4c67ad"/><stop offset="0.7804" stop-color="#4c67ad"/><stop offset="0.7882" stop-color="#4c67ad"/><stop offset="0.7960" stop-color="#4c67ad"/><stop offset="0.8039" stop-color="#4c67ad"/><stop offset="0.8117" stop-color="#4c67ad"/><stop offset="0.8195" stop-color="#4d65ac"/><stop offset="0.8273" stop-color="#4f63ab"/><stop offset="0.8351" stop-color="#5061ab"/><stop offset="0.8429" stop-color="#515faa"/><stop offset="0.8507" stop-color="#535da9"/><stop offset="0.8585" stop-color="#545ca8"/><stop offset="0.8663" stop-color="#565aa7"/><stop offset="0.8741" stop-color="#5758a6"/><stop offset="0.8819" stop-color="#5758a6"/><stop offset="0.8897" stop-color="#5758a6"/><stop offset="0.8975" stop-color="#5857a6"/><stop offset="0.9053" stop-color="#5857a6"/><stop offset="0.9131" stop-color="#5857a6"/><stop offset="0.9209" stop-color="#5857a6"/><stop offset="0.9287" stop-color="#5856a6"/><stop offset="0.9365" stop-color="#5856a5"/><stop offset="0.9443" stop-color="#5956a5"/><stop offset="0.9521" stop-color="#5956a5"/><stop offset="0.9599" stop-color="#5956a5"/><stop offset="0.9677" stop-color="#5955a5"/><stop offset="0.9755" stop-color="#5955a5"/><stop offset="0.9834" stop-color="#5955a5"/><stop offset="0.9912" stop-color="#5a55a5"/><stop offset="0.9990" stop-color="#5a54a5"/></linearGradient><linearGradient id="bc3" x1="0" y1="0" x2="0" y2="1"><stop offset="0.0000" stop-color="#5061ab"/><stop offset="0.0078" stop-color="#5062ab"/><stop offset="0.0156" stop-color="#4f62ab"/><stop offset="0.0234" stop-color="#4f63ab"/><stop offset="0.0312" stop-color="#4e64ac"/><stop offset="0.0390" stop-color="#4e64ac"/><stop offset="0.0468" stop-color="#4d65ac"/><stop offset="0.0546" stop-color="#4d65ad"/><stop offset="0.0624" stop-color="#4c66ad"/><stop offset="0.0702" stop-color="#4c67ad"/><stop offset="0.0780" stop-color="#4b67ad"/><stop offset="0.0858" stop-color="#4b68ae"/><stop offset="0.0937" stop-color="#4a68ae"/><stop offset="0.1015" stop-color="#4a69ae"/><stop offset="0.1093" stop-color="#496aaf"/><stop offset="0.1171" stop-color="#496baf"/><stop offset="0.1249" stop-color="#486baf"/><stop offset="0.1327" stop-color="#486cb0"/><stop offset="0.1405" stop-color="#476db0"/><stop offset="0.1483" stop-color="#476db0"/><stop offset="0.1561" stop-color="#466eb1"/><stop offset="0.1639" stop-color="#456fb1"/><stop offset="0.1717" stop-color="#4570b1"/><stop offset="0.1795" stop-color="#4372b2"/><stop offset="0.1873" stop-color="#4274b3"/><stop offset="0.1951" stop-color="#4076b4"/><stop offset="0.2029" stop-color="#3e78b5"/><stop offset="0.2107" stop-color="#3d7ab6"/><stop offset="0.2185" stop-color="#3b7cb7"/><stop offset="0.2263" stop-color="#3a7eb8"/><stop offset="0.2341" stop-color="#3880b9"/><stop offset="0.2393" stop-color="#3782ba"/><stop offset="0.2419" stop-color="#3584bb"/><stop offset="0.2497" stop-color="#3389bc"/><stop offset="0.2575" stop-color="#388fba"/><stop offset="0.2653" stop-color="#3e95b8"/><stop offset="0.2732" stop-color="#439bb5"/><stop offset="0.2810" stop-color="#48a1b3"/><stop offset="0.2888" stop-color="#55afad"/><stop offset="0.2966" stop-color="#61bca7"/><stop offset="0.3044" stop-color="#70c6a5"/><stop offset="0.3122" stop-color="#80cca5"/><stop offset="0.3200" stop-color="#93d4a4"/><stop offset="0.3278" stop-color="#a7dba4"/><stop offset="0.3356" stop-color="#b8e2a1"/><stop offset="0.3434" stop-color="#c8e99e"/><stop offset="0.3512" stop-color="#d1ed9c"/><stop offset="0.3590" stop-color="#dbf09a"/><stop offset="0.3668" stop-color="#e4f498"/><stop offset="0.3746" stop-color="#e9f69d"/><stop offset="0.3824" stop-color="#e8f69c"/><stop offset="0.3902" stop-color="#e8f69b"/><stop offset="0.3980" stop-color="#e7f599"/><stop offset="0.4058" stop-color="#e6f598"/><stop offset="0.4136" stop-color="#e5f498"/><stop offset="0.4162" stop-color="#e4f498"/><stop offset="0.4214" stop-color="#d4ee9c"/><stop offset="0.4292" stop-color="#bbe4a1"/><stop offset="0.4370" stop-color="#a1d9a4"/><stop offset="0.4448" stop-color="#75c8a5"/><stop offset="0.4527" stop-color="#51aaaf"/><stop offset="0.4605" stop-color="#4199b6"/><stop offset="0.4683" stop-color="#3288bd"/><stop offset="0.4735" stop-color="#3b7cb7"/><stop offset="0.4761" stop-color="#3c7bb7"/><stop offset="0.4839" stop-color="#3f78b5"/><stop offset="0.4917" stop-color="#4174b4"/><stop offset="0.4995" stop-color="#4471b2"/><stop offset="0.5073" stop-color="#476db0"/><stop offset="0.5099" stop-color="#486cb0"/><stop offset="0.5151" stop-color="#486cb0"/><stop offset="0.5229" stop-color="#486cb0"/><stop offset="0.5307" stop-color="#486baf"/><stop offset="0.5385" stop-color="#486baf"/><stop offset="0.5463" stop-color="#486baf"/><stop offset="0.5541" stop-color="#486baf"/><stop offset="0.5619" stop-color="#496baf"/><stop offset="0.5697" stop-color="#496baf"/><stop offset="0.5775" stop-color="#496aaf"/><stop offset="0.5853" stop-color="#496aaf"/><stop offset="0.5931" stop-color="#496aaf"/><stop offset="0.6009" stop-color="#496aaf"/><stop offset="0.6087" stop-color="#496aaf"/><stop offset="0.6165" stop-color="#4a69af"/><stop offset="0.6243" stop-color="#4a69ae"/><stop offset="0.6322" stop-color="#4a69ae"/><stop offset="0.6400" stop-color="#4a69ae"/><stop offset="0.6478" stop-color="#4a69ae"/><stop offset="0.6556" stop-color="#4a69ae"/><stop offset="0.6634" stop-color="#4a68ae"/><stop offset="0.6660" stop-color="#4a68ae"/><stop offset="0.6712" stop-color="#4b68ae"/><stop offset="0.6790" stop-color="#4b67ad"/><stop offset="0.6868" stop-color="#4c67ad"/><stop offset="0.6946" stop-color="#4c66ad"/><stop offset="0.7024" stop-color="#4d65ac"/><stop offset="0.7102" stop-color="#4d64ac"/><stop offset="0.7180" stop-color="#4e64ac"/><stop offset="0.7258" stop-color="#4e63ac"/><stop offset="0.7336" stop-color="#4f62ab"/><stop offset="0.7414" stop-color="#5062ab"/><stop offset="0.7492" stop-color="#5061ab"/><stop offset="0.7570" stop-color="#5160aa"/><stop offset="0.7648" stop-color="#5160aa"/><stop offset="0.7700" stop-color="#515faa"/><stop offset="0.7726" stop-color="#525faa"/><stop offset="0.7804" stop-color="#525ea9"/><stop offset="0.7882" stop-color="#535ea9"/><stop offset="0.7960" stop-color="#535da9"/><stop offset="0.8039" stop-color="#545ca8"/><stop offset="0.8117" stop-color="#545ca8"/><stop offset="0.8195" stop-color="#555ba8"/><stop offset="0.8273" stop-color="#555aa7"/><stop offset="0.8351" stop-color="#565aa7"/><stop offset="0.8429" stop-color="#5659a7"/><stop offset="0.8507" stop-color="#5758a6"/><stop offset="0.8585" stop-color="#5758a6"/><stop offset="0.8663" stop-color="#5857a6"/><stop offset="0.8741" stop-color="#5856a5"/><stop offset="0.8819" stop-color="#5856a5"/><stop offset="0.8897" stop-color="#5956a5"/><stop offset="0.8975" stop-color="#5956a5"/><stop offset="0.9053" stop-color="#5956a5"/><stop offset="0.9131" stop-color="#5956a5"/><stop offset="0.9209" stop-color="#5956a5"/><stop offset="0.9287" stop-color="#5955a5"/><stop offset="0.9365" stop-color="#5955a5"/><stop offset="0.9443" stop-color="#5955a5"/><stop offset="0.9521" stop-color="#5955a5"/><stop offset="0.9599" stop-color="#5955a5"/><stop offset="0.9677" stop-color="#5955a5"/><stop offset="0.9755" stop-color="#5a55a5"/><stop offset="0.9834" stop-color="#5a55a5"/><stop offset="0.9912" stop-color="#5a55a5"/><stop offset="0.9990" stop-color="#5a54a5"/></linearGradient><linearGradient id="bc4" x1="0" y1="0" x2="0" y2="1"><stop offset="0.0000" stop-color="#5758a6"/><stop offset="0.0078" stop-color="#5758a6"/><stop offset="0.0156" stop-color="#5759a7"/><stop offset="0.0234" stop-color="#5659a7"/><stop offset="0.0312" stop-color="#5659a7"/><stop offset="0.0390" stop-color="#565aa7"/><stop offset="0.0468" stop-color="#565aa7"/><stop offset="0.0546" stop-color="#555aa7"/><stop offset="0.0624" stop-color="#555aa7"/><stop offset="0.0702" stop-color="#555ba8"/><stop offset="0.0780" stop-color="#555ba8"/><stop offset="0.0858" stop-color="#555ba8"/><stop offset="0.0937" stop-color="#545ca8"/><stop offset="0.1015" stop-color="#545ca8"/><stop offset="0.1093" stop-color="#545ca8"/><stop offset="0.1171" stop-color="#545ca8"/><stop offset="0.1249" stop-color="#535da8"/><stop offset="0.1327" stop-color="#535da9"/><stop offset="0.1405" stop-color="#535da9"/><stop offset="0.1457" stop-color="#535da9"/><stop offset="0.1483" stop-color="#535ea9"/><stop offset="0.1561" stop-color="#525ea9"/><stop offset="0.1639" stop-color="#525fa9"/><stop offset="0.1717" stop-color="#525faa"/><stop offset="0.1795" stop-color="#5160aa"/><stop offset="0.1873" stop-color="#5160aa"/><stop offset="0.1951" stop-color="#5061aa"/><stop offset="0.2029" stop-color="#5061ab"/><stop offset="0.2107" stop-color="#5062ab"/><stop offset="0.2185" stop-color="#4f62ab"/><stop offset="0.2263" stop-color="#4f63ab"/><stop offset="0.2341" stop-color="#4f63ac"/><stop offset="0.2419" stop-color="#4e64ac"/><stop offset="0.2497" stop-color="#4e64ac"/><stop offset="0.2575" stop-color="#4d65ac"/><stop offset="0.2601" stop-color="#4d65ac"/><stop offset="0.2653" stop-color="#4a69ae"/><stop offset="0.2732" stop-color="#466fb1"/><stop offset="0.2810" stop-color="#4174b4"/><stop offset="0.2888" stop-color="#3d7ab6"/><stop offset="0.2914" stop-color="#3b7cb7"/><stop offset="0.2966" stop-color="#3584bb"/><stop offset="0.3044" stop-color="#388fba"/><stop offset="0.3122" stop-color="#439bb5"/><stop offset="0.3200" stop-color="#4da6b0"/><stop offset="0.3226" stop-color="#51aaaf"/><stop offset="0.3278" stop-color="#59b3ab"/><stop offset="0.3356" stop-color="#65c1a5"/><stop offset="0.3434" stop-color="#75c8a5"/><stop offset="0.3512" stop-color="#86cea5"/><stop offset="0.3538" stop-color="#8bd1a4"/><stop offset="0.3590" stop-color="#93d3a4"/><stop offset="0.3668" stop-color="#9dd8a4"/><stop offset="0.3746" stop-color="#a8dca4"/><stop offset="0.3824" stop-color="#b2e0a3"/><stop offset="0.3850" stop-color="#b5e1a2"/><stop offset="0.3902" stop-color="#b9e3a1"/><stop offset="0.3980" stop-color="#bee5a0"/><stop offset="0.4058" stop-color="#c3e79f"/><stop offset="0.4136" stop-color="#c9e99e"/><stop offset="0.4214" stop-color="#ceeb9d"/><stop offset="0.4266" stop-color="#d1ed9c"/><stop offset="0.4292" stop-color="#cfeb9d"/><stop offset="0.4370" stop-color="#c6e89e"/><stop offset="0.4448" stop-color="#bee5a0"/><stop offset="0.4527" stop-color="#b5e1a2"/><stop offset="0.4605" stop-color="#9ed8a4"/><stop offset="0.4683" stop-color="#86cea5"/><stop offset="0.4735" stop-color="#75c8a5"/><stop offset="0.4761" stop-color="#6ec5a5"/><stop offset="0.4839" stop-color="#5ab5aa"/><stop offset="0.4917" stop-color="#49a2b2"/><stop offset="0.4943" stop-color="#439bb5"/><stop offset="0.4995" stop-color="#3e95b8"/><stop offset="0.5073" stop-color="#358cbb"/><stop offset="0.5151" stop-color="#3682ba"/><stop offset="0.5203" stop-color="#3b7cb7"/><stop offset="0.5229" stop-color="#3c7bb7"/><stop offset="0.5307" stop-color="#3e79b6"/><stop offset="0.5385" stop-color="#3f77b5"/><stop offset="0.5463" stop-color="#4174b4"/><stop offset="0.5541" stop-color="#4372b3"/><stop offset="0.5619" stop-color="#4570b1"/><stop offset="0.5697" stop-color="#456fb1"/><stop offset="0.5775" stop-color="#456fb1"/><stop offset="0.5853" stop-color="#456fb1"/><stop offset="0.5931" stop-color="#466fb1"/><stop offset="0.6009" stop-color="#466eb1"/><stop offset="0.6087" stop-color="#466eb1"/><stop offset="0.6165" stop-color="#466eb1"/><stop offset="0.6243" stop-color="#466eb1"/><stop offset="0.6322" stop-color="#466eb1"/><stop offset="0.6400" stop-color="#476db0"/><stop offset="0.6478" stop-color="#476db0"/><stop offset="0.6556" stop-color="#476db0"/><stop offset="0.6634" stop-color="#476db0"/><stop offset="0.6712" stop-color="#476db0"/><stop offset="0.6790" stop-color="#476cb0"/><stop offset="0.6868" stop-color="#486cb0"/><stop offset="0.6920" stop-color="#486cb0"/><stop offset="0.6946" stop-color="#486cb0"/><stop offset="0.7024" stop-color="#496aaf"/><stop offset="0.7102" stop-color="#4a69ae"/><stop offset="0.7180" stop-color="#4b68ae"/><stop offset="0.7258" stop-color="#4c66ad"/><stop offset="0.7336" stop-color="#4d65ad"/><stop offset="0.7414" stop-color="#4e64ac"/><stop offset="0.7492" stop-color="#4f63ab"/><stop offset="0.7570" stop-color="#5061ab"/><stop offset="0.7648" stop-color="#5160aa"/><stop offset="0.7700" stop-color="#515faa"/><stop offset="0.7726" stop-color="#525faa"/><stop offset="0.7804" stop-color="#525ea9"/><stop offset="0.7882" stop-color="#535da9"/><stop offset="0.7960" stop-color="#545ca8"/><stop offset="0.8039" stop-color="#545ba8"/><stop offset="0.8117" stop-color="#555aa7"/><stop offset="0.8195" stop-color="#565aa7"/><stop offset="0.8273" stop-color="#5759a7"/><stop offset="0.8351" stop-color="#5758a6"/><stop offset="0.8429" stop-color="#5857a6"/><stop offset="0.8481" stop-color="#5856a5"/><stop offset="0.8507" stop-color="#5856a5"/><stop offset="0.8585" stop-color="#5956a5"/><stop offset="0.8663" stop-color="#5956a5"/><stop offset="0.8741" stop-color="#5956a5"/><stop offset="0.8819" stop-color="#5956a5"/><stop offset="0.8897" stop-color="#5956a5"/><stop offset="0.8975" stop-color="#5956a5"/><stop offset="0.9053" stop-color="#5956a5"/><stop offset="0.9131" stop-color="#5955a5"/><stop offset="0.9209" stop-color="#5955a5"/><stop offset="0.9287" stop-color="#5955a5"/><stop offset="0.9365" stop-color="#5955a5"/><stop offset="0.9443" stop-color="#5955a5"/><stop offset="0.9521" stop-color="#5955a5"/><stop offset="0.9599" stop-color="#5955a5"/><stop offset="0.9677" stop-color="#5a55a5"/><stop offset="0.9755" stop-color="#5a55a5"/><stop offset="0.9834" stop-color="#5a55a5"/><stop offset="0.9912" stop-color="#5a55a5"/><stop offset="0.9990" stop-color="#5a54a5"/></linearGradient><linearGradient id="bc5" x1="0" y1="0" x2="0" y2="1"><stop offset="0.0000" stop-color="#5b53a4"/><stop offset="0.0078" stop-color="#5b53a4"/><stop offset="0.0156" stop-color="#5b53a4"/><stop offset="0.0234" stop-color="#5b53a4"/><stop offset="0.0312" stop-color="#5b53a4"/><stop offset="0.0390" stop-color="#5b53a4"/><stop offset="0.0468" stop-color="#5b53a4"/><stop offset="0.0546" stop-color="#5b53a4"/><stop offset="0.0624" stop-color="#5b53a4"/><stop offset="0.0702" stop-color="#5b53a4"/><stop offset="0.0780" stop-color="#5b53a4"/><stop offset="0.0858" stop-color="#5b53a4"/><stop offset="0.0937" stop-color="#5b53a4"/><stop offset="0.1015" stop-color="#5b54a4"/><stop offset="0.1093" stop-color="#5a54a4"/><stop offset="0.1171" stop-color="#5a54a4"/><stop offset="0.1249" stop-color="#5a54a4"/><stop offset="0.1327" stop-color="#5a54a4"/><stop offset="0.1405" stop-color="#5a54a4"/><stop offset="0.1483" stop-color="#5a54a4"/><stop offset="0.1561" stop-color="#5a54a4"/><stop offset="0.1639" stop-color="#5a54a4"/><stop offset="0.1717" stop-color="#5a54a4"/><stop offset="0.1795" stop-color="#5a54a4"/><stop offset="0.1873" stop-color="#5a54a5"/><stop offset="0.1951" stop-color="#5a54a5"/><stop offset="0.2029" stop-color="#5a54a5"/><stop offset="0.2107" stop-color="#5a54a5"/><stop offset="0.2185" stop-color="#5a55a5"/><stop offset="0.2263" stop-color="#5a55a5"/><stop offset="0.2341" stop-color="#5a55a5"/><stop offset="0.2419" stop-color="#5a55a5"/><stop offset="0.2497" stop-color="#5955a5"/><stop offset="0.2575" stop-color="#5955a5"/><stop offset="0.2653" stop-color="#5955a5"/><stop offset="0.2732" stop-color="#5955a5"/><stop offset="0.2810" stop-color="#5955a5"/><stop offset="0.2888" stop-color="#5955a5"/><stop offset="0.2966" stop-color="#5955a5"/><stop offset="0.3044" stop-color="#5955a5"/><stop offset="0.3122" stop-color="#5955a5"/><stop offset="0.3200" stop-color="#5955a5"/><stop offset="0.3278" stop-color="#5956a5"/><stop offset="0.3356" stop-color="#5956a5"/><stop offset="0.3434" stop-color="#5956a5"/><stop offset="0.3512" stop-color="#5956a5"/><stop offset="0.3590" stop-color="#5956a5"/><stop offset="0.3668" stop-color="#5956a5"/><stop offset="0.3746" stop-color="#5956a5"/><stop offset="0.3824" stop-color="#5956a5"/><stop offset="0.3902" stop-color="#5956a5"/><stop offset="0.3980" stop-color="#5856a5"/><stop offset="0.4058" stop-color="#5856a5"/><stop offset="0.4136" stop-color="#5857a6"/><stop offset="0.4214" stop-color="#5758a6"/><stop offset="0.4292" stop-color="#5659a7"/><stop offset="0.4370" stop-color="#555ba7"/><stop offset="0.4448" stop-color="#545ca8"/><stop offset="0.4527" stop-color="#535da9"/><stop offset="0.4579" stop-color="#535da9"/><stop offset="0.4605" stop-color="#535ea9"/><stop offset="0.4683" stop-color="#535ea9"/><stop offset="0.4761" stop-color="#525ea9"/><stop offset="0.4839" stop-color="#525fa9"/><stop offset="0.4917" stop-color="#525fa9"/><stop offset="0.4995" stop-color="#525faa"/><stop offset="0.5073" stop-color="#515faa"/><stop offset="0.5151" stop-color="#5160aa"/><stop offset="0.5229" stop-color="#5160aa"/><stop offset="0.5307" stop-color="#5160aa"/><stop offset="0.5385" stop-color="#5061aa"/><stop offset="0.5463" stop-color="#5061ab"/><stop offset="0.5541" stop-color="#5061ab"/><stop offset="0.5619" stop-color="#5062ab"/><stop offset="0.5697" stop-color="#4f62ab"/><stop offset="0.5775" stop-color="#4f62ab"/><stop offset="0.5853" stop-color="#4f63ab"/><stop offset="0.5931" stop-color="#4f63ab"/><stop offset="0.6009" stop-color="#4e63ac"/><stop offset="0.6087" stop-color="#4e63ac"/><stop offset="0.6165" stop-color="#4e64ac"/><stop offset="0.6243" stop-color="#4e64ac"/><stop offset="0.6322" stop-color="#4d64ac"/><stop offset="0.6400" stop-color="#4d65ac"/><stop offset="0.6478" stop-color="#486cb0"/><stop offset="0.6556" stop-color="#4273b3"/><stop offset="0.6634" stop-color="#3d7ab6"/><stop offset="0.6712" stop-color="#3881ba"/><stop offset="0.6764" stop-color="#3485bc"/><stop offset="0.6790" stop-color="#3389bd"/><stop offset="0.6868" stop-color="#3d95b8"/><stop offset="0.6946" stop-color="#48a0b3"/><stop offset="0.7024" stop-color="#52acae"/><stop offset="0.7076" stop-color="#59b3ab"/><stop offset="0.7102" stop-color="#5db8a9"/><stop offset="0.7180" stop-color="#6ac4a5"/><stop offset="0.7258" stop-color="#7bcaa5"/><stop offset="0.7336" stop-color="#8bd1a4"/><stop offset="0.7414" stop-color="#a4daa4"/><stop offset="0.7492" stop-color="#bae3a1"/><stop offset="0.7544" stop-color="#c8e99e"/><stop offset="0.7570" stop-color="#d5ee9c"/><stop offset="0.7648" stop-color="#eef8a5"/><stop offset="0.7700" stop-color="#f9fdb6"/><stop offset="0.7726" stop-color="#fff9b4"/><stop offset="0.7804" stop-color="#fdc574"/><stop offset="0.7830" stop-color="#fdaf62"/><stop offset="0.7882" stop-color="#f16944"/><stop offset="0.7934" stop-color="#ca314c"/><stop offset="0.7960" stop-color="#c32a4b"/><stop offset="0.8039" stop-color="#ae1246"/><stop offset="0.8065" stop-color="#a70b44"/><stop offset="0.8117" stop-color="#b61b48"/><stop offset="0.8195" stop-color="#cc344d"/><stop offset="0.8247" stop-color="#d8434e"/><stop offset="0.8273" stop-color="#f67f4b"/><stop offset="0.8325" stop-color="#fff3aa"/><stop offset="0.8351" stop-color="#f4fbad"/><stop offset="0.8403" stop-color="#a1d9a4"/><stop offset="0.8429" stop-color="#79c9a5"/><stop offset="0.8481" stop-color="#388eba"/><stop offset="0.8507" stop-color="#3683bb"/><stop offset="0.8585" stop-color="#5061ab"/><stop offset="0.8663" stop-color="#555ba8"/><stop offset="0.8741" stop-color="#5a54a5"/><stop offset="0.8819" stop-color="#5a54a5"/><stop offset="0.8897" stop-color="#5a54a4"/><stop offset="0.8975" stop-color="#5a54a4"/><stop offset="0.9053" stop-color="#5a54a4"/><stop offset="0.9131" stop-color="#5a54a4"/><stop offset="0.9209" stop-color="#5a54a4"/><stop offset="0.9287" stop-color="#5a54a4"/><stop offset="0.9365" stop-color="#5b54a4"/><stop offset="0.9443" stop-color="#5b53a4"/><stop offset="0.9521" stop-color="#5b53a4"/><stop offset="0.9599" stop-color="#5b53a4"/><stop offset="0.9677" stop-color="#5b53a4"/><stop offset="0.9755" stop-color="#5b53a4"/><stop offset="0.9834" stop-color="#5b53a4"/><stop offset="0.9912" stop-color="#5b53a4"/><stop offset="0.9990" stop-color="#5b53a4"/></linearGradient><linearGradient id="bc6" x1="0" y1="0" x2="0" y2="1"><stop offset="0.0000" stop-color="#5b53a4"/><stop offset="0.0078" stop-color="#5b53a4"/><stop offset="0.0156" stop-color="#5a54a4"/><stop offset="0.0234" stop-color="#5a54a4"/><stop offset="0.0312" stop-color="#5a55a5"/><stop offset="0.0390" stop-color="#5955a5"/><stop offset="0.0468" stop-color="#5956a5"/><stop offset="0.0546" stop-color="#5956a5"/><stop offset="0.0624" stop-color="#5856a6"/><stop offset="0.0702" stop-color="#5857a6"/><stop offset="0.0780" stop-color="#5757a6"/><stop offset="0.0858" stop-color="#5758a6"/><stop offset="0.0937" stop-color="#5758a6"/><stop offset="0.1015" stop-color="#5659a7"/><stop offset="0.1093" stop-color="#5659a7"/><stop offset="0.1171" stop-color="#565aa7"/><stop offset="0.1249" stop-color="#555aa7"/><stop offset="0.1327" stop-color="#555ba8"/><stop offset="0.1405" stop-color="#545ba8"/><stop offset="0.1457" stop-color="#545ca8"/><stop offset="0.1483" stop-color="#545ca8"/><stop offset="0.1561" stop-color="#545ca8"/><stop offset="0.1639" stop-color="#545ca8"/><stop offset="0.1717" stop-color="#545ca8"/><stop offset="0.1795" stop-color="#545ca8"/><stop offset="0.1873" stop-color="#545ca8"/><stop offset="0.1951" stop-color="#545ca8"/><stop offset="0.2029" stop-color="#545ca8"/><stop offset="0.2107" stop-color="#545ca8"/><stop offset="0.2185" stop-color="#545ca8"/><stop offset="0.2263" stop-color="#545ca8"/><stop offset="0.2341" stop-color="#545ca8"/><stop offset="0.2419" stop-color="#545ca8"/><stop offset="0.2497" stop-color="#545ca8"/><stop offset="0.2575" stop-color="#545ca8"/><stop offset="0.2653" stop-color="#545ca8"/><stop offset="0.2732" stop-color="#545ca8"/><stop offset="0.2810" stop-color="#545ca8"/><stop offset="0.2888" stop-color="#545ca8"/><stop offset="0.2914" stop-color="#545ca8"/><stop offset="0.2966" stop-color="#545ca8"/><stop offset="0.3044" stop-color="#545ca8"/><stop offset="0.3122" stop-color="#545ca8"/><stop offset="0.3200" stop-color="#545ca8"/><stop offset="0.3278" stop-color="#545ca8"/><stop offset="0.3356" stop-color="#545ca8"/><stop offset="0.3434" stop-color="#545ca8"/><stop offset="0.3512" stop-color="#535da8"/><stop offset="0.3590" stop-color="#535da9"/><stop offset="0.3668" stop-color="#535da9"/><stop offset="0.3746" stop-color="#535da9"/><stop offset="0.3824" stop-color="#535da9"/><stop offset="0.3902" stop-color="#535da9"/><stop offset="0.3980" stop-color="#535da9"/><stop offset="0.4058" stop-color="#535da9"/><stop offset="0.4136" stop-color="#525ea9"/><stop offset="0.4214" stop-color="#525fa9"/><stop offset="0.4292" stop-color="#525faa"/><stop offset="0.4370" stop-color="#5160aa"/><stop offset="0.4448" stop-color="#5160aa"/><stop offset="0.4527" stop-color="#5061aa"/><stop offset="0.4579" stop-color="#5061ab"/><stop offset="0.4605" stop-color="#5061ab"/><stop offset="0.4683" stop-color="#5061ab"/><stop offset="0.4761" stop-color="#5062ab"/><stop offset="0.4839" stop-color="#4f62ab"/><stop offset="0.4917" stop-color="#4f62ab"/><stop offset="0.4995" stop-color="#4f63ab"/><stop offset="0.5073" stop-color="#4f63ab"/><stop offset="0.5151" stop-color="#4e63ac"/><stop offset="0.5229" stop-color="#4e63ac"/><stop offset="0.5307" stop-color="#4e64ac"/><stop offset="0.5385" stop-color="#4e64ac"/><stop offset="0.5463" stop-color="#4e64ac"/><stop offset="0.5541" stop-color="#4d64ac"/><stop offset="0.5619" stop-color="#4d65ac"/><stop offset="0.5697" stop-color="#4d65ac"/><stop offset="0.5775" stop-color="#4d65ad"/><stop offset="0.5853" stop-color="#4d66ad"/><stop offset="0.5931" stop-color="#4c66ad"/><stop offset="0.6009" stop-color="#4c66ad"/><stop offset="0.6087" stop-color="#4c66ad"/><stop offset="0.6139" stop-color="#4c67ad"/><stop offset="0.6165" stop-color="#4b68ae"/><stop offset="0.6243" stop-color="#486cb0"/><stop offset="0.6322" stop-color="#4570b2"/><stop offset="0.6400" stop-color="#4174b4"/><stop offset="0.6478" stop-color="#3e78b6"/><stop offset="0.6556" stop-color="#3b7cb7"/><stop offset="0.6634" stop-color="#3288bd"/><stop offset="0.6712" stop-color="#3c93b8"/><stop offset="0.6790" stop-color="#469fb4"/><stop offset="0.6868" stop-color="#51aaaf"/><stop offset="0.6946" stop-color="#62bda7"/><stop offset="0.7024" stop-color="#78c9a5"/><stop offset="0.7102" stop-color="#8fd2a4"/><stop offset="0.7128" stop-color="#96d5a4"/><stop offset="0.7180" stop-color="#a9dca4"/><stop offset="0.7258" stop-color="#c2e69f"/><stop offset="0.7336" stop-color="#dbf09a"/><stop offset="0.7414" stop-color="#e7f59a"/><stop offset="0.7492" stop-color="#edf8a3"/><stop offset="0.7570" stop-color="#f3faac"/><stop offset="0.7596" stop-color="#f5fbb0"/><stop offset="0.7648" stop-color="#f7fcb3"/><stop offset="0.7726" stop-color="#fafdb7"/><stop offset="0.7804" stop-color="#fdfebc"/><stop offset="0.7882" stop-color="#fffab7"/><stop offset="0.7960" stop-color="#fff3aa"/><stop offset="0.8012" stop-color="#feeea2"/><stop offset="0.8039" stop-color="#fff2a9"/><stop offset="0.8117" stop-color="#fffebe"/><stop offset="0.8169" stop-color="#f9fdb6"/><stop offset="0.8195" stop-color="#f3faac"/><stop offset="0.8273" stop-color="#dbf09a"/><stop offset="0.8325" stop-color="#bfe5a0"/><stop offset="0.8351" stop-color="#acdda4"/><stop offset="0.8429" stop-color="#6ac4a5"/><stop offset="0.8507" stop-color="#4ca5b1"/><stop offset="0.8585" stop-color="#3485bc"/><stop offset="0.8663" stop-color="#3c7ab7"/><stop offset="0.8741" stop-color="#4570b1"/><stop offset="0.8819" stop-color="#4d65ac"/><stop offset="0.8845" stop-color="#5061ab"/><stop offset="0.8897" stop-color="#5160aa"/><stop offset="0.8975" stop-color="#515faa"/><stop offset="0.9053" stop-color="#525ea9"/><stop offset="0.9131" stop-color="#535da9"/><stop offset="0.9209" stop-color="#545ca8"/><stop offset="0.9287" stop-color="#545ca8"/><stop offset="0.9365" stop-color="#555ba7"/><stop offset="0.9443" stop-color="#565aa7"/><stop offset="0.9521" stop-color="#5759a7"/><stop offset="0.9599" stop-color="#5758a6"/><stop offset="0.9677" stop-color="#5857a6"/><stop offset="0.9755" stop-color="#5956a5"/><stop offset="0.9834" stop-color="#5a55a5"/><stop offset="0.9912" stop-color="#5a54a4"/><stop offset="0.9990" stop-color="#5b53a4"/></linearGradient><linearGradient id="bc7" x1="0" y1="0" x2="0" y2="1"><stop offset="0.0000" stop-color="#5b53a4"/><stop offset="0.0078" stop-color="#5b53a4"/><stop offset="0.0156" stop-color="#5b53a4"/><stop offset="0.0234" stop-color="#5b53a4"/><stop offset="0.0312" stop-color="#5b53a4"/><stop offset="0.0390" stop-color="#5b53a4"/><stop offset="0.0468" stop-color="#5b53a4"/><stop offset="0.0546" stop-color="#5b53a4"/><stop offset="0.0624" stop-color="#5b53a4"/><stop offset="0.0702" stop-color="#5b53a4"/><stop offset="0.0780" stop-color="#5b53a4"/><stop offset="0.0858" stop-color="#5b53a4"/><stop offset="0.0937" stop-color="#5b53a4"/><stop offset="0.1015" stop-color="#5b53a4"/><stop offset="0.1093" stop-color="#5b53a4"/><stop offset="0.1171" stop-color="#5b53a4"/><stop offset="0.1249" stop-color="#5b53a4"/><stop offset="0.1327" stop-color="#5b53a4"/><stop offset="0.1405" stop-color="#5b53a4"/><stop offset="0.1483" stop-color="#5b53a4"/><stop offset="0.1561" stop-color="#5b53a4"/><stop offset="0.1639" stop-color="#5b53a4"/><stop offset="0.1717" stop-color="#5b53a4"/><stop offset="0.1795" stop-color="#5b53a4"/><stop offset="0.1873" stop-color="#5b53a4"/><stop offset="0.1951" stop-color="#5b53a4"/><stop offset="0.2029" stop-color="#5b53a4"/><stop offset="0.2107" stop-color="#5b54a4"/><stop offset="0.2185" stop-color="#5a54a4"/><stop offset="0.2263" stop-color="#5a54a4"/><stop offset="0.2341" stop-color="#5a54a4"/><stop offset="0.2419" stop-color="#5a54a4"/><stop offset="0.2497" stop-color="#5a54a4"/><stop offset="0.2575" stop-color="#5a54a4"/><stop offset="0.2653" stop-color="#5a54a4"/><stop offset="0.2732" stop-color="#5a54a4"/><stop offset="0.2810" stop-color="#5a54a4"/><stop offset="0.2888" stop-color="#5a54a4"/><stop offset="0.2966" stop-color="#5a54a4"/><stop offset="0.3044" stop-color="#5a54a4"/><stop offset="0.3122" stop-color="#5a54a4"/><stop offset="0.3200" stop-color="#5a54a4"/><stop offset="0.3278" stop-color="#5a54a4"/><stop offset="0.3356" stop-color="#5a54a4"/><stop offset="0.3434" stop-color="#5a54a4"/><stop offset="0.3512" stop-color="#5a54a4"/><stop offset="0.3590" stop-color="#5a54a4"/><stop offset="0.3668" stop-color="#5a54a4"/><stop offset="0.3746" stop-color="#5a54a4"/><stop offset="0.3824" stop-color="#5a54a4"/><stop offset="0.3902" stop-color="#5a54a4"/><stop offset="0.3980" stop-color="#5a54a5"/><stop offset="0.4058" stop-color="#5a54a5"/><stop offset="0.4136" stop-color="#5a54a5"/><stop offset="0.4214" stop-color="#5a54a5"/><stop offset="0.4292" stop-color="#5a54a5"/><stop offset="0.4318" stop-color="#5a54a5"/><stop offset="0.4370" stop-color="#5857a6"/><stop offset="0.4448" stop-color="#555ba8"/><stop offset="0.4527" stop-color="#525fa9"/><stop offset="0.4579" stop-color="#5061ab"/><stop offset="0.4605" stop-color="#5160aa"/><stop offset="0.4683" stop-color="#535da9"/><stop offset="0.4761" stop-color="#5659a7"/><stop offset="0.4839" stop-color="#5856a5"/><stop offset="0.4917" stop-color="#555aa7"/><stop offset="0.4995" stop-color="#525ea9"/><stop offset="0.5073" stop-color="#4f62ab"/><stop offset="0.5151" stop-color="#4c67ad"/><stop offset="0.5229" stop-color="#496baf"/><stop offset="0.5255" stop-color="#486cb0"/><stop offset="0.5307" stop-color="#486baf"/><stop offset="0.5385" stop-color="#4a69ae"/><stop offset="0.5463" stop-color="#4b68ae"/><stop offset="0.5541" stop-color="#4c66ad"/><stop offset="0.5619" stop-color="#4d65ac"/><stop offset="0.5697" stop-color="#5160aa"/><stop offset="0.5775" stop-color="#555ba8"/><stop offset="0.5853" stop-color="#5956a5"/><stop offset="0.5879" stop-color="#5a54a5"/><stop offset="0.5931" stop-color="#5956a5"/><stop offset="0.6009" stop-color="#5758a6"/><stop offset="0.6087" stop-color="#555ba7"/><stop offset="0.6165" stop-color="#535da9"/><stop offset="0.6243" stop-color="#525faa"/><stop offset="0.6322" stop-color="#5061ab"/><stop offset="0.6400" stop-color="#4e64ac"/><stop offset="0.6478" stop-color="#4c66ad"/><stop offset="0.6556" stop-color="#4a68ae"/><stop offset="0.6634" stop-color="#456fb1"/><stop offset="0.6712" stop-color="#4076b5"/><stop offset="0.6790" stop-color="#3a7eb8"/><stop offset="0.6868" stop-color="#3585bb"/><stop offset="0.6946" stop-color="#358cbb"/><stop offset="0.7024" stop-color="#3c93b9"/><stop offset="0.7076" stop-color="#4098b7"/><stop offset="0.7102" stop-color="#469fb4"/><stop offset="0.7180" stop-color="#59b3ab"/><stop offset="0.7258" stop-color="#6dc5a5"/><stop offset="0.7336" stop-color="#86cea5"/><stop offset="0.7388" stop-color="#96d5a4"/><stop offset="0.7414" stop-color="#a4daa4"/><stop offset="0.7492" stop-color="#c8e99e"/><stop offset="0.7570" stop-color="#e8f69b"/><stop offset="0.7596" stop-color="#edf8a3"/><stop offset="0.7648" stop-color="#feffbe"/><stop offset="0.7726" stop-color="#fee08b"/><stop offset="0.7752" stop-color="#fecf7c"/><stop offset="0.7804" stop-color="#fa9656"/><stop offset="0.7882" stop-color="#d8434e"/><stop offset="0.7960" stop-color="#bc2249"/><stop offset="0.8012" stop-color="#a70b44"/><stop offset="0.8039" stop-color="#ac1045"/><stop offset="0.8117" stop-color="#bb2149"/><stop offset="0.8195" stop-color="#ca314c"/><stop offset="0.8273" stop-color="#fdc372"/><stop offset="0.8299" stop-color="#fee99a"/><stop offset="0.8351" stop-color="#ecf7a1"/><stop offset="0.8377" stop-color="#c8e99e"/><stop offset="0.8429" stop-color="#8bd1a4"/><stop offset="0.8481" stop-color="#51aaaf"/><stop offset="0.8507" stop-color="#449cb5"/><stop offset="0.8585" stop-color="#4273b3"/><stop offset="0.8663" stop-color="#4d66ad"/><stop offset="0.8741" stop-color="#5758a6"/><stop offset="0.8819" stop-color="#5758a6"/><stop offset="0.8897" stop-color="#5857a6"/><stop offset="0.8975" stop-color="#5857a6"/><stop offset="0.9053" stop-color="#5857a6"/><stop offset="0.9131" stop-color="#5856a5"/><stop offset="0.9209" stop-color="#5956a5"/><stop offset="0.9287" stop-color="#5956a5"/><stop offset="0.9365" stop-color="#5955a5"/><stop offset="0.9443" stop-color="#5955a5"/><stop offset="0.9521" stop-color="#5a55a5"/><stop offset="0.9599" stop-color="#5a54a5"/><stop offset="0.9677" stop-color="#5a54a4"/><stop offset="0.9755" stop-color="#5a54a4"/><stop offset="0.9834" stop-color="#5b53a4"/><stop offset="0.9912" stop-color="#5b53a4"/><stop offset="0.9990" stop-color="#5b53a4"/></linearGradient><linearGradient id="bc8" x1="0" y1="0" x2="0" y2="1"><stop offset="0.0000" stop-color="#5b53a4"/><stop offset="0.0078" stop-color="#5b53a4"/><stop offset="0.0156" stop-color="#5b53a4"/><stop offset="0.0234" stop-color="#5b53a4"/><stop offset="0.0312" stop-color="#5b53a4"/><stop offset="0.0390" stop-color="#5b53a4"/><stop offset="0.0468" stop-color="#5b53a4"/><stop offset="0.0546" stop-color="#5b53a4"/><stop offset="0.0624" stop-color="#5b53a4"/><stop offset="0.0702" stop-color="#5b53a4"/><stop offset="0.0780" stop-color="#5b53a4"/><stop offset="0.0858" stop-color="#5b53a4"/><stop offset="0.0937" stop-color="#5b54a4"/><stop offset="0.1015" stop-color="#5a54a4"/><stop offset="0.1093" stop-color="#5a54a4"/><stop offset="0.1171" stop-color="#5a54a4"/><stop offset="0.1249" stop-color="#5a54a4"/><stop offset="0.1327" stop-color="#5a54a4"/><stop offset="0.1405" stop-color="#5a54a4"/><stop offset="0.1483" stop-color="#5a54a4"/><stop offset="0.1561" stop-color="#5a54a4"/><stop offset="0.1639" stop-color="#5a54a4"/><stop offset="0.1717" stop-color="#5a54a4"/><stop offset="0.1795" stop-color="#5a54a5"/><stop offset="0.1873" stop-color="#5a54a5"/><stop offset="0.1951" stop-color="#5a54a5"/><stop offset="0.2029" stop-color="#5a55a5"/><stop offset="0.2107" stop-color="#5a55a5"/><stop offset="0.2185" stop-color="#5a55a5"/><stop offset="0.2263" stop-color="#5a55a5"/><stop offset="0.2341" stop-color="#5955a5"/><stop offset="0.2419" stop-color="#5955a5"/><stop offset="0.2497" stop-color="#5955a5"/><stop offset="0.2575" stop-color="#5955a5"/><stop offset="0.2653" stop-color="#5955a5"/><stop offset="0.2732" stop-color="#5955a5"/><stop offset="0.2810" stop-color="#5955a5"/><stop offset="0.2888" stop-color="#5955a5"/><stop offset="0.2966" stop-color="#5955a5"/><stop offset="0.3044" stop-color="#5956a5"/><stop offset="0.3122" stop-color="#5956a5"/><stop offset="0.3200" stop-color="#5956a5"/><stop offset="0.3278" stop-color="#5956a5"/><stop offset="0.3356" stop-color="#5956a5"/><stop offset="0.3434" stop-color="#5956a5"/><stop offset="0.3512" stop-color="#5956a5"/><stop offset="0.3590" stop-color="#5956a5"/><stop offset="0.3668" stop-color="#5956a5"/><stop offset="0.3746" stop-color="#5856a5"/><stop offset="0.3798" stop-color="#5856a5"/><stop offset="0.3824" stop-color="#5758a6"/><stop offset="0.3902" stop-color="#535da9"/><stop offset="0.3980" stop-color="#4f63ab"/><stop offset="0.4006" stop-color="#4d65ac"/><stop offset="0.4058" stop-color="#4f62ab"/><stop offset="0.4136" stop-color="#525fa9"/><stop offset="0.4214" stop-color="#555ba8"/><stop offset="0.4292" stop-color="#5757a6"/><stop offset="0.4318" stop-color="#5856a5"/><stop offset="0.4370" stop-color="#5856a5"/><stop offset="0.4448" stop-color="#5856a5"/><stop offset="0.4527" stop-color="#5856a5"/><stop offset="0.4605" stop-color="#5856a5"/><stop offset="0.4683" stop-color="#5856a5"/><stop offset="0.4761" stop-color="#5856a5"/><stop offset="0.4839" stop-color="#5856a5"/><stop offset="0.4917" stop-color="#5856a5"/><stop offset="0.4995" stop-color="#5856a5"/><stop offset="0.5073" stop-color="#5856a5"/><stop offset="0.5151" stop-color="#5856a5"/><stop offset="0.5229" stop-color="#5856a5"/><stop offset="0.5307" stop-color="#5856a5"/><stop offset="0.5359" stop-color="#5856a5"/><stop offset="0.5385" stop-color="#5758a6"/><stop offset="0.5463" stop-color="#525faa"/><stop offset="0.5541" stop-color="#4d65ad"/><stop offset="0.5619" stop-color="#486cb0"/><stop offset="0.5697" stop-color="#486baf"/><stop offset="0.5775" stop-color="#496baf"/><stop offset="0.5853" stop-color="#496aaf"/><stop offset="0.5931" stop-color="#4a69ae"/><stop offset="0.6009" stop-color="#4a69ae"/><stop offset="0.6035" stop-color="#4a68ae"/><stop offset="0.6087" stop-color="#4e64ac"/><stop offset="0.6165" stop-color="#525ea9"/><stop offset="0.6243" stop-color="#5758a6"/><stop offset="0.6322" stop-color="#545ca8"/><stop offset="0.6400" stop-color="#5061aa"/><stop offset="0.6478" stop-color="#4d65ad"/><stop offset="0.6556" stop-color="#496aaf"/><stop offset="0.6634" stop-color="#466eb1"/><stop offset="0.6660" stop-color="#4570b1"/><stop offset="0.6712" stop-color="#4174b4"/><stop offset="0.6790" stop-color="#3b7cb7"/><stop offset="0.6868" stop-color="#3683bb"/><stop offset="0.6946" stop-color="#348abc"/><stop offset="0.7024" stop-color="#3b92b9"/><stop offset="0.7102" stop-color="#4299b6"/><stop offset="0.7180" stop-color="#48a1b3"/><stop offset="0.7258" stop-color="#61bca7"/><stop offset="0.7336" stop-color="#80cca5"/><stop offset="0.7414" stop-color="#a1d9a4"/><stop offset="0.7492" stop-color="#bfe5a0"/><stop offset="0.7570" stop-color="#e9f69c"/><stop offset="0.7648" stop-color="#fcfeba"/><stop offset="0.7700" stop-color="#fff3aa"/><stop offset="0.7726" stop-color="#fee695"/><stop offset="0.7804" stop-color="#fdac60"/><stop offset="0.7882" stop-color="#ec6146"/><stop offset="0.7960" stop-color="#da464d"/><stop offset="0.8012" stop-color="#ca314c"/><stop offset="0.8039" stop-color="#d43c4f"/><stop offset="0.8117" stop-color="#e55649"/><stop offset="0.8195" stop-color="#f57145"/><stop offset="0.8273" stop-color="#feeea2"/><stop offset="0.8299" stop-color="#f9fdb6"/><stop offset="0.8351" stop-color="#d7ef9b"/><stop offset="0.8429" stop-color="#75c8a5"/><stop offset="0.8507" stop-color="#4ca5b1"/><stop offset="0.8585" stop-color="#3b7cb7"/><stop offset="0.8663" stop-color="#486baf"/><stop offset="0.8741" stop-color="#565aa7"/><stop offset="0.8819" stop-color="#5659a7"/><stop offset="0.8897" stop-color="#5659a7"/><stop offset="0.8975" stop-color="#5758a6"/><stop offset="0.9053" stop-color="#5758a6"/><stop offset="0.9131" stop-color="#5758a6"/><stop offset="0.9209" stop-color="#5857a6"/><stop offset="0.9287" stop-color="#5857a6"/><stop offset="0.9365" stop-color="#5856a5"/><stop offset="0.9443" stop-color="#5956a5"/><stop offset="0.9521" stop-color="#5955a5"/><stop offset="0.9599" stop-color="#5955a5"/><stop offset="0.9677" stop-color="#5a54a5"/><stop offset="0.9755" stop-color="#5a54a4"/><stop offset="0.9834" stop-color="#5b54a4"/><stop offset="0.9912" stop-color="#5b53a4"/><stop offset="0.9990" stop-color="#5b53a4"/></linearGradient><linearGradient id="bc9" x1="0" y1="0" x2="0" y2="1"><stop offset="0.0000" stop-color="#5b53a4"/><stop offset="0.0078" stop-color="#5b53a4"/><stop offset="0.0156" stop-color="#5b53a4"/><stop offset="0.0234" stop-color="#5b53a4"/><stop offset="0.0312" stop-color="#5b53a4"/><stop offset="0.0390" stop-color="#5b53a4"/><stop offset="0.0468" stop-color="#5b53a4"/><stop offset="0.0546" stop-color="#5b53a4"/><stop offset="0.0624" stop-color="#5b53a4"/><stop offset="0.0702" stop-color="#5b53a4"/><stop offset="0.0780" stop-color="#5b53a4"/><stop offset="0.0858" stop-color="#5b53a4"/><stop offset="0.0937" stop-color="#5b53a4"/><stop offset="0.1015" stop-color="#5b53a4"/><stop offset="0.1093" stop-color="#5b53a4"/><stop offset="0.1171" stop-color="#5b53a4"/><stop offset="0.1249" stop-color="#5b53a4"/><stop offset="0.1327" stop-color="#5b53a4"/><stop offset="0.1405" stop-color="#5b53a4"/><stop offset="0.1483" stop-color="#5a54a4"/><stop offset="0.1561" stop-color="#5a54a4"/><stop offset="0.1639" stop-color="#5a54a4"/><stop offset="0.1717" stop-color="#5a54a4"/><stop offset="0.1795" stop-color="#5a54a4"/><stop offset="0.1873" stop-color="#5a54a4"/><stop offset="0.1951" stop-color="#5a54a4"/><stop offset="0.2029" stop-color="#5a54a4"/><stop offset="0.2107" stop-color="#5a54a4"/><stop offset="0.2185" stop-color="#5a54a4"/><stop offset="0.2263" stop-color="#5a54a4"/><stop offset="0.2341" stop-color="#5a54a4"/><stop offset="0.2419" stop-color="#5a54a4"/><stop offset="0.2497" stop-color="#5a54a4"/><stop offset="0.2575" stop-color="#5a54a4"/><stop offset="0.2653" stop-color="#5a54a4"/><stop offset="0.2732" stop-color="#5a54a5"/><stop offset="0.2810" stop-color="#5a54a5"/><stop offset="0.2888" stop-color="#5a54a5"/><stop offset="0.2914" stop-color="#5a54a5"/><stop offset="0.2966" stop-color="#525ea9"/><stop offset="0.3018" stop-color="#4a68ae"/><stop offset="0.3044" stop-color="#4a68ae"/><stop offset="0.3122" stop-color="#4a68ae"/><stop offset="0.3200" stop-color="#4a68ae"/><stop offset="0.3278" stop-color="#4a68ae"/><stop offset="0.3356" stop-color="#4a68ae"/><stop offset="0.3382" stop-color="#4a68ae"/><stop offset="0.3434" stop-color="#525ea9"/><stop offset="0.3486" stop-color="#5a54a5"/><stop offset="0.3512" stop-color="#5a55a5"/><stop offset="0.3590" stop-color="#5a55a5"/><stop offset="0.3668" stop-color="#5955a5"/><stop offset="0.3746" stop-color="#5955a5"/><stop offset="0.3824" stop-color="#5956a5"/><stop offset="0.3902" stop-color="#5956a5"/><stop offset="0.3980" stop-color="#5856a5"/><stop offset="0.4058" stop-color="#5857a6"/><stop offset="0.4136" stop-color="#5857a6"/><stop offset="0.4214" stop-color="#5857a6"/><stop offset="0.4292" stop-color="#5857a6"/><stop offset="0.4370" stop-color="#5758a6"/><stop offset="0.4448" stop-color="#5758a6"/><stop offset="0.4475" stop-color="#5758a6"/><stop offset="0.4527" stop-color="#545ca8"/><stop offset="0.4605" stop-color="#5061ab"/><stop offset="0.4683" stop-color="#4c67ad"/><stop offset="0.4761" stop-color="#4b67ad"/><stop offset="0.4839" stop-color="#4b68ae"/><stop offset="0.4917" stop-color="#4b68ae"/><stop offset="0.4995" stop-color="#4a69ae"/><stop offset="0.5073" stop-color="#4a69af"/><stop offset="0.5151" stop-color="#496aaf"/><stop offset="0.5229" stop-color="#496baf"/><stop offset="0.5307" stop-color="#486baf"/><stop offset="0.5385" stop-color="#486cb0"/><stop offset="0.5463" stop-color="#476cb0"/><stop offset="0.5541" stop-color="#476db0"/><stop offset="0.5619" stop-color="#476db0"/><stop offset="0.5697" stop-color="#466eb1"/><stop offset="0.5775" stop-color="#466fb1"/><stop offset="0.5853" stop-color="#456fb1"/><stop offset="0.5931" stop-color="#4570b2"/><stop offset="0.6009" stop-color="#4470b2"/><stop offset="0.6087" stop-color="#4471b2"/><stop offset="0.6165" stop-color="#4371b2"/><stop offset="0.6243" stop-color="#4372b3"/><stop offset="0.6322" stop-color="#4373b3"/><stop offset="0.6400" stop-color="#4273b3"/><stop offset="0.6478" stop-color="#3b7db8"/><stop offset="0.6556" stop-color="#3387bc"/><stop offset="0.6634" stop-color="#3a90ba"/><stop offset="0.6712" stop-color="#429ab5"/><stop offset="0.6764" stop-color="#48a1b3"/><stop offset="0.6790" stop-color="#4ca5b1"/><stop offset="0.6868" stop-color="#59b3ab"/><stop offset="0.6946" stop-color="#65c1a5"/><stop offset="0.7024" stop-color="#75c8a5"/><stop offset="0.7102" stop-color="#86cea5"/><stop offset="0.7128" stop-color="#8bd1a4"/><stop offset="0.7180" stop-color="#9ad6a4"/><stop offset="0.7258" stop-color="#afdfa3"/><stop offset="0.7336" stop-color="#c2e69f"/><stop offset="0.7414" stop-color="#d5ee9c"/><stop offset="0.7440" stop-color="#dbf09a"/><stop offset="0.7492" stop-color="#e8f69a"/><stop offset="0.7570" stop-color="#f1f9a9"/><stop offset="0.7648" stop-color="#fbfdb8"/><stop offset="0.7700" stop-color="#fffdbb"/><stop offset="0.7726" stop-color="#fff5ae"/><stop offset="0.7804" stop-color="#fede8a"/><stop offset="0.7882" stop-color="#fdbb6c"/><stop offset="0.7908" stop-color="#fdaf62"/><stop offset="0.7960" stop-color="#fa9a58"/><stop offset="0.8039" stop-color="#f67b4a"/><stop offset="0.8065" stop-color="#f57145"/><stop offset="0.8117" stop-color="#fba15b"/><stop offset="0.8195" stop-color="#fedc87"/><stop offset="0.8221" stop-color="#fee99a"/><stop offset="0.8273" stop-color="#fcfeba"/><stop offset="0.8351" stop-color="#ceeb9d"/><stop offset="0.8377" stop-color="#b5e1a2"/><stop offset="0.8429" stop-color="#8bd1a4"/><stop offset="0.8507" stop-color="#51aaaf"/><stop offset="0.8533" stop-color="#4098b7"/><stop offset="0.8585" stop-color="#348abc"/><stop offset="0.8663" stop-color="#4075b4"/><stop offset="0.8741" stop-color="#5061ab"/><stop offset="0.8819" stop-color="#5160aa"/><stop offset="0.8897" stop-color="#515faa"/><stop offset="0.8975" stop-color="#525ea9"/><stop offset="0.9053" stop-color="#535da9"/><stop offset="0.9131" stop-color="#545da8"/><stop offset="0.9209" stop-color="#545ca8"/><stop offset="0.9287" stop-color="#555ba8"/><stop offset="0.9365" stop-color="#565aa7"/><stop offset="0.9443" stop-color="#5659a7"/><stop offset="0.9521" stop-color="#5758a6"/><stop offset="0.9599" stop-color="#5857a6"/><stop offset="0.9677" stop-color="#5856a5"/><stop offset="0.9755" stop-color="#5955a5"/><stop offset="0.9834" stop-color="#5a54a5"/><stop offset="0.9912" stop-color="#5b54a4"/><stop offset="0.9990" stop-color="#5b53a4"/></linearGradient><linearGradient id="bc10" x1="0" y1="0" x2="0" y2="1"><stop offset="0.0000" stop-color="#5b53a4"/><stop offset="0.0078" stop-color="#5b53a4"/><stop offset="0.0156" stop-color="#5b53a4"/><stop offset="0.0234" stop-color="#5b53a4"/><stop offset="0.0312" stop-color="#5b53a4"/><stop offset="0.0390" stop-color="#5b53a4"/><stop offset="0.0468" stop-color="#5b53a4"/><stop offset="0.0546" stop-color="#5b53a4"/><stop offset="0.0624" stop-color="#5b53a4"/><stop offset="0.0702" stop-color="#5b53a4"/><stop offset="0.0780" stop-color="#5b53a4"/><stop offset="0.0858" stop-color="#5b53a4"/><stop offset="0.0937" stop-color="#5b53a4"/><stop offset="0.1015" stop-color="#5b53a4"/><stop offset="0.1093" stop-color="#5b53a4"/><stop offset="0.1171" stop-color="#5b53a4"/><stop offset="0.1249" stop-color="#5b53a4"/><stop offset="0.1327" stop-color="#5b53a4"/><stop offset="0.1405" stop-color="#5b53a4"/><stop offset="0.1483" stop-color="#5b53a4"/><stop offset="0.1561" stop-color="#5b53a4"/><stop offset="0.1639" stop-color="#5b53a4"/><stop offset="0.1717" stop-color="#5b53a4"/><stop offset="0.1795" stop-color="#5b53a4"/><stop offset="0.1873" stop-color="#5b53a4"/><stop offset="0.1951" stop-color="#5b53a4"/><stop offset="0.2029" stop-color="#5b53a4"/><stop offset="0.2107" stop-color="#5b53a4"/><stop offset="0.2185" stop-color="#5b53a4"/><stop offset="0.2263" stop-color="#5b53a4"/><stop offset="0.2341" stop-color="#5b53a4"/><stop offset="0.2419" stop-color="#5b53a4"/><stop offset="0.2497" stop-color="#5b53a4"/><stop offset="0.2575" stop-color="#5b53a4"/><stop offset="0.2653" stop-color="#5b53a4"/><stop offset="0.2732" stop-color="#5b53a4"/><stop offset="0.2810" stop-color="#5b53a4"/><stop offset="0.2888" stop-color="#5b53a4"/><stop offset="0.2966" stop-color="#5b53a4"/><stop offset="0.3044" stop-color="#5b53a4"/><stop offset="0.3122" stop-color="#5b53a4"/><stop offset="0.3200" stop-color="#5b53a4"/><stop offset="0.3278" stop-color="#5b53a4"/><stop offset="0.3356" stop-color="#5b53a4"/><stop offset="0.3434" stop-color="#5b53a4"/><stop offset="0.3512" stop-color="#5b54a4"/><stop offset="0.3590" stop-color="#5b54a4"/><stop offset="0.3668" stop-color="#5a54a4"/><stop offset="0.3746" stop-color="#5a54a4"/><stop offset="0.3824" stop-color="#5a54a4"/><stop offset="0.3902" stop-color="#5a54a4"/><stop offset="0.3980" stop-color="#5a54a4"/><stop offset="0.4058" stop-color="#5a54a4"/><stop offset="0.4136" stop-color="#5a54a4"/><stop offset="0.4214" stop-color="#5a54a4"/><stop offset="0.4292" stop-color="#5a54a4"/><stop offset="0.4370" stop-color="#5a54a4"/><stop offset="0.4448" stop-color="#5a54a4"/><stop offset="0.4527" stop-color="#5a54a4"/><stop offset="0.4605" stop-color="#5a54a4"/><stop offset="0.4683" stop-color="#5a54a4"/><stop offset="0.4761" stop-color="#5a54a4"/><stop offset="0.4839" stop-color="#5a54a4"/><stop offset="0.4917" stop-color="#5a54a4"/><stop offset="0.4995" stop-color="#5a54a4"/><stop offset="0.5073" stop-color="#5a54a4"/><stop offset="0.5151" stop-color="#5a54a4"/><stop offset="0.5229" stop-color="#5a54a4"/><stop offset="0.5307" stop-color="#5a54a4"/><stop offset="0.5385" stop-color="#5a54a4"/><stop offset="0.5463" stop-color="#5a54a4"/><stop offset="0.5541" stop-color="#5a54a4"/><stop offset="0.5619" stop-color="#5a54a4"/><stop offset="0.5697" stop-color="#5a54a4"/><stop offset="0.5775" stop-color="#5a54a4"/><stop offset="0.5853" stop-color="#5a54a4"/><stop offset="0.5931" stop-color="#5a54a4"/><stop offset="0.6009" stop-color="#5a54a4"/><stop offset="0.6087" stop-color="#5a54a4"/><stop offset="0.6165" stop-color="#5a54a4"/><stop offset="0.6243" stop-color="#5a54a4"/><stop offset="0.6322" stop-color="#5a54a4"/><stop offset="0.6400" stop-color="#5a54a4"/><stop offset="0.6478" stop-color="#5a54a4"/><stop offset="0.6556" stop-color="#5a54a4"/><stop offset="0.6634" stop-color="#5a54a5"/><stop offset="0.6712" stop-color="#5a54a5"/><stop offset="0.6790" stop-color="#5a54a5"/><stop offset="0.6868" stop-color="#5a54a5"/><stop offset="0.6946" stop-color="#5a54a5"/><stop offset="0.7024" stop-color="#5a54a5"/><stop offset="0.7102" stop-color="#5a54a5"/><stop offset="0.7180" stop-color="#5a54a5"/><stop offset="0.7258" stop-color="#555ba8"/><stop offset="0.7336" stop-color="#5061ab"/><stop offset="0.7414" stop-color="#4b68ae"/><stop offset="0.7492" stop-color="#466eb1"/><stop offset="0.7570" stop-color="#4175b4"/><stop offset="0.7596" stop-color="#3f77b5"/><stop offset="0.7648" stop-color="#3781ba"/><stop offset="0.7726" stop-color="#3a91b9"/><stop offset="0.7804" stop-color="#48a1b3"/><stop offset="0.7882" stop-color="#7bcaa5"/><stop offset="0.7960" stop-color="#b5e1a2"/><stop offset="0.8039" stop-color="#fffdbb"/><stop offset="0.8065" stop-color="#fee99a"/><stop offset="0.8117" stop-color="#fdb768"/><stop offset="0.8169" stop-color="#f57145"/><stop offset="0.8195" stop-color="#e85b47"/><stop offset="0.8273" stop-color="#af1446"/><stop offset="0.8351" stop-color="#af1446"/><stop offset="0.8429" stop-color="#af1446"/><stop offset="0.8507" stop-color="#af1446"/><stop offset="0.8533" stop-color="#af1446"/><stop offset="0.8585" stop-color="#e04e4b"/><stop offset="0.8637" stop-color="#f7864e"/><stop offset="0.8663" stop-color="#fdaf62"/><stop offset="0.8741" stop-color="#fffdbb"/><stop offset="0.8819" stop-color="#d1ed9c"/><stop offset="0.8845" stop-color="#b5e1a2"/><stop offset="0.8897" stop-color="#9ad6a4"/><stop offset="0.8975" stop-color="#6ec5a5"/><stop offset="0.9001" stop-color="#61bca7"/><stop offset="0.9053" stop-color="#59b3ab"/><stop offset="0.9131" stop-color="#4ca5b1"/><stop offset="0.9209" stop-color="#4098b7"/><stop offset="0.9261" stop-color="#388eba"/><stop offset="0.9287" stop-color="#378dbb"/><stop offset="0.9365" stop-color="#348abc"/><stop offset="0.9443" stop-color="#3387bd"/><stop offset="0.9521" stop-color="#3584bb"/><stop offset="0.9599" stop-color="#3781ba"/><stop offset="0.9625" stop-color="#3880b9"/><stop offset="0.9677" stop-color="#397fb9"/><stop offset="0.9755" stop-color="#3b7db8"/><stop offset="0.9834" stop-color="#3c7bb7"/><stop offset="0.9912" stop-color="#3e79b6"/><stop offset="0.9990" stop-color="#3f77b5"/></linearGradient><linearGradient id="bc11" x1="0" y1="0" x2="0" y2="1"><stop offset="0.0000" stop-color="#5b53a4"/><stop offset="0.0078" stop-color="#5b53a4"/><stop offset="0.0156" stop-color="#5b53a4"/><stop offset="0.0234" stop-color="#5b53a4"/><stop offset="0.0312" stop-color="#5b53a4"/><stop offset="0.0390" stop-color="#5b53a4"/><stop offset="0.0468" stop-color="#5b53a4"/><stop offset="0.0546" stop-color="#5b53a4"/><stop offset="0.0624" stop-color="#5b53a4"/><stop offset="0.0702" stop-color="#5b53a4"/><stop offset="0.0780" stop-color="#5b53a4"/><stop offset="0.0858" stop-color="#5b53a4"/><stop offset="0.0937" stop-color="#5b53a4"/><stop offset="0.1015" stop-color="#5b53a4"/><stop offset="0.1093" stop-color="#5b53a4"/><stop offset="0.1171" stop-color="#5b53a4"/><stop offset="0.1249" stop-color="#5b53a4"/><stop offset="0.1327" stop-color="#5b53a4"/><stop offset="0.1405" stop-color="#5b53a4"/><stop offset="0.1483" stop-color="#5b53a4"/><stop offset="0.1561" stop-color="#5b53a4"/><stop offset="0.1639" stop-color="#5b53a4"/><stop offset="0.1717" stop-color="#5b53a4"/><stop offset="0.1795" stop-color="#5b53a4"/><stop offset="0.1873" stop-color="#5b53a4"/><stop offset="0.1951" stop-color="#5b53a4"/><stop offset="0.2029" stop-color="#5b53a4"/><stop offset="0.2107" stop-color="#5b53a4"/><stop offset="0.2185" stop-color="#5b53a4"/><stop offset="0.2263" stop-color="#5b53a4"/><stop offset="0.2341" stop-color="#5b53a4"/><stop offset="0.2419" stop-color="#5b53a4"/><stop offset="0.2497" stop-color="#5b53a4"/><stop offset="0.2575" stop-color="#5b53a4"/><stop offset="0.2653" stop-color="#5b53a4"/><stop offset="0.2732" stop-color="#5b53a4"/><stop offset="0.2810" stop-color="#5b53a4"/><stop offset="0.2888" stop-color="#5b53a4"/><stop offset="0.2966" stop-color="#5b53a4"/><stop offset="0.3044" stop-color="#5b53a4"/><stop offset="0.3122" stop-color="#5b53a4"/><stop offset="0.3200" stop-color="#5b53a4"/><stop offset="0.3278" stop-color="#5b53a4"/><stop offset="0.3356" stop-color="#5b53a4"/><stop offset="0.3434" stop-color="#5b54a4"/><stop offset="0.3512" stop-color="#5b54a4"/><stop offset="0.3590" stop-color="#5a54a4"/><stop offset="0.3668" stop-color="#5a54a4"/><stop offset="0.3746" stop-color="#5a54a4"/><stop offset="0.3824" stop-color="#5a54a4"/><stop offset="0.3902" stop-color="#5a54a4"/><stop offset="0.3980" stop-color="#5a54a4"/><stop offset="0.4058" stop-color="#5a54a4"/><stop offset="0.4136" stop-color="#5a54a4"/><stop offset="0.4214" stop-color="#5a54a4"/><stop offset="0.4292" stop-color="#5a54a4"/><stop offset="0.4370" stop-color="#5a54a4"/><stop offset="0.4448" stop-color="#5a54a4"/><stop offset="0.4527" stop-color="#5a54a4"/><stop offset="0.4605" stop-color="#5a54a4"/><stop offset="0.4683" stop-color="#5a54a4"/><stop offset="0.4761" stop-color="#5a54a4"/><stop offset="0.4839" stop-color="#5a54a4"/><stop offset="0.4917" stop-color="#5a54a4"/><stop offset="0.4995" stop-color="#5a54a4"/><stop offset="0.5073" stop-color="#5a54a4"/><stop offset="0.5151" stop-color="#5a54a4"/><stop offset="0.5229" stop-color="#5a54a4"/><stop offset="0.5307" stop-color="#5a54a4"/><stop offset="0.5385" stop-color="#5a54a4"/><stop offset="0.5463" stop-color="#5a54a4"/><stop offset="0.5541" stop-color="#5a54a4"/><stop offset="0.5619" stop-color="#5a54a4"/><stop offset="0.5697" stop-color="#5a54a4"/><stop offset="0.5775" stop-color="#5a54a4"/><stop offset="0.5853" stop-color="#5a54a4"/><stop offset="0.5931" stop-color="#5a54a4"/><stop offset="0.6009" stop-color="#5a54a4"/><stop offset="0.6087" stop-color="#5a54a4"/><stop offset="0.6165" stop-color="#5a54a4"/><stop offset="0.6243" stop-color="#5a54a4"/><stop offset="0.6322" stop-color="#5a54a4"/><stop offset="0.6400" stop-color="#5a54a5"/><stop offset="0.6478" stop-color="#5a54a5"/><stop offset="0.6556" stop-color="#5a54a5"/><stop offset="0.6634" stop-color="#5a54a5"/><stop offset="0.6712" stop-color="#5a54a5"/><stop offset="0.6790" stop-color="#5a54a5"/><stop offset="0.6868" stop-color="#5a54a5"/><stop offset="0.6946" stop-color="#5a54a5"/><stop offset="0.6972" stop-color="#5a54a5"/><stop offset="0.7024" stop-color="#4a6aaf"/><stop offset="0.7102" stop-color="#3389bc"/><stop offset="0.7128" stop-color="#3d94b8"/><stop offset="0.7180" stop-color="#3d94b8"/><stop offset="0.7258" stop-color="#3d94b8"/><stop offset="0.7336" stop-color="#3d94b8"/><stop offset="0.7414" stop-color="#3c7ab7"/><stop offset="0.7492" stop-color="#5061ab"/><stop offset="0.7570" stop-color="#4371b2"/><stop offset="0.7596" stop-color="#3f77b5"/><stop offset="0.7648" stop-color="#3781ba"/><stop offset="0.7726" stop-color="#3a91b9"/><stop offset="0.7804" stop-color="#48a1b3"/><stop offset="0.7882" stop-color="#7bcaa5"/><stop offset="0.7960" stop-color="#b5e1a2"/><stop offset="0.8039" stop-color="#fffdbb"/><stop offset="0.8065" stop-color="#fee99a"/><stop offset="0.8117" stop-color="#fdb768"/><stop offset="0.8169" stop-color="#f57145"/><stop offset="0.8195" stop-color="#e85b47"/><stop offset="0.8273" stop-color="#af1446"/><stop offset="0.8351" stop-color="#af1446"/><stop offset="0.8429" stop-color="#af1446"/><stop offset="0.8507" stop-color="#af1446"/><stop offset="0.8533" stop-color="#af1446"/><stop offset="0.8585" stop-color="#e04e4b"/><stop offset="0.8637" stop-color="#f7864e"/><stop offset="0.8663" stop-color="#fdaf62"/><stop offset="0.8741" stop-color="#fffdbb"/><stop offset="0.8819" stop-color="#d1ed9c"/><stop offset="0.8845" stop-color="#b5e1a2"/><stop offset="0.8897" stop-color="#9ad6a4"/><stop offset="0.8975" stop-color="#6ec5a5"/><stop offset="0.9001" stop-color="#61bca7"/><stop offset="0.9053" stop-color="#59b3ab"/><stop offset="0.9131" stop-color="#4ca5b1"/><stop offset="0.9209" stop-color="#4098b7"/><stop offset="0.9261" stop-color="#388eba"/><stop offset="0.9287" stop-color="#378dbb"/><stop offset="0.9365" stop-color="#348abc"/><stop offset="0.9443" stop-color="#3387bd"/><stop offset="0.9521" stop-color="#3584bb"/><stop offset="0.9599" stop-color="#3781ba"/><stop offset="0.9625" stop-color="#3880b9"/><stop offset="0.9677" stop-color="#397fb9"/><stop offset="0.9755" stop-color="#3b7db8"/><stop offset="0.9834" stop-color="#3c7bb7"/><stop offset="0.9912" stop-color="#3e79b6"/><stop offset="0.9990" stop-color="#3f77b5"/></linearGradient></defs><rect x="33.80" y="212.0" width="10.37" height="192.2" fill="url(#bc0)"/><rect x="43.57" y="212.0" width="10.37" height="192.2" fill="url(#bc1)"/><rect x="53.33" y="212.0" width="10.37" height="192.2" fill="url(#bc2)"/><rect x="63.10" y="212.0" width="10.37" height="192.2" fill="url(#bc3)"/><rect x="72.87" y="212.0" width="10.37" height="192.2" fill="url(#bc4)"/><rect x="82.63" y="212.0" width="10.37" height="192.2" fill="url(#bc5)"/><rect x="92.40" y="212.0" width="10.37" height="192.2" fill="url(#bc6)"/><rect x="102.17" y="212.0" width="10.37" height="192.2" fill="url(#bc7)"/><rect x="111.93" y="212.0" width="10.37" height="192.2" fill="url(#bc8)"/><rect x="121.70" y="212.0" width="10.37" height="192.2" fill="url(#bc9)"/><rect x="131.47" y="212.0" width="10.37" height="192.2" fill="url(#bc10)"/><rect x="141.23" y="212.0" width="10.37" height="192.2" fill="url(#bc10)"/><rect x="151.00" y="212.0" width="10.37" height="192.2" fill="url(#bc10)"/><rect x="160.77" y="212.0" width="10.37" height="192.2" fill="url(#bc11)"/><rect x="170.53" y="212.0" width="9.77" height="192.2" fill="url(#bc10)"/><polyline points="79,299 80.5,310 82.5,325 84.5,342 86,356 87,367" fill="none" stroke="#111" stroke-width="1.5" stroke-dasharray="2.4,1.6"/><polyline points="79,299 80.5,310 82.5,325 84.5,342 86,356 87,367" fill="none" stroke="#c8302a" stroke-width="1.1" stroke-dasharray="1.4,2.6" stroke-dashoffset="2.2"/><polyline points="38.8,259.6 42.8,267.6 45.7,273.3 49.1,279.5 53.1,282.4 58.3,283 62.8,276.7 67.4,271 71.4,275 74.8,281.3 77.7,288 78.8,297 80.5,305" fill="none" stroke="#111" stroke-width="1.25" stroke-dasharray="2.6,1.9"/><polyline points="38.8,265.3 42.3,272.1 45.1,278.4 48,284.7 52.5,289.2 58.3,291.5 64,294.4 68.5,293.2 72,296 76,299.5 78.8,303 80.5,306" fill="none" stroke="#111" stroke-width="1.25" stroke-dasharray="2.6,1.9"/><polyline points="39.9,276.7 43.4,282.4 46.3,287 49.1,294.4 54.8,298.4 60,298.4 65.1,294.4 69.7,294.4 73.1,297.2 77.1,301.8 79.4,306.4" fill="none" stroke="#111" stroke-width="1.25" stroke-dasharray="2.6,1.9"/><polyline points="38.8,273.3 41.7,279.5 45.1,285.8 49.1,291.5 54.8,295.5 60,293.2 64,288.1 68,282.4 72,287 74.8,292.7 78.2,299.5 80,305" fill="none" stroke="#c8302a" stroke-width="1.25" stroke-dasharray="2.6,1.9"/><polyline points="88,358 91,353 94,349.5 97.5,351 101,355 104,358.5 108,359 112,357.5 116,356 120,355 124,356 128,357.5 131,362 134,367.5 138,369 145,369 155,368.5 165,369 175,368.5 181,368.5" fill="none" stroke="#111" stroke-width="1.25" stroke-dasharray="2.6,1.9"/><polyline points="88,366 91,362 94,358 98,360 102,363 106,364.5 112,363.5 118,362 124,361.5 128,362.5 131,366 134,370.5 140,372 150,372 160,371.5 170,372 181,372" fill="none" stroke="#111" stroke-width="1.25" stroke-dasharray="2.6,1.9"/><polyline points="88,368 92,367.5 96,366 100,367 104,368.5 110,369 116,368.5 122,368 128,369 131,371 134,376 140,377.5 150,377 160,377 170,376.5 181,377" fill="none" stroke="#111" stroke-width="1.25" stroke-dasharray="2.6,1.9"/><polyline points="88,366 92,361 96,357.5 100,360 104,362 108,362.5 114,361 120,359 126,359.5 130,363 133,369 138,373 150,373 160,373.5 170,373 181,373.5" fill="none" stroke="#c8302a" stroke-width="1.25" stroke-dasharray="2.6,1.9"/><rect x="33.8" y="212.0" width="146.5" height="192.2" fill="none" stroke="#222" stroke-width="1.1"/><line x1="31.599999999999998" y1="253.2" x2="33.8" y2="253.2" stroke="#222" stroke-width="0.8"/><text x="29.2" y="256.0" font-size="7.8" text-anchor="end" font-weight="normal" fill="#111" font-style="normal" >2</text><line x1="31.599999999999998" y1="297.5" x2="33.8" y2="297.5" stroke="#222" stroke-width="0.8"/><text x="29.2" y="300.3" font-size="7.8" text-anchor="end" font-weight="normal" fill="#111" font-style="normal" >1</text><line x1="31.599999999999998" y1="341.5" x2="33.8" y2="341.5" stroke="#222" stroke-width="0.8"/><text x="29.2" y="344.3" font-size="7.8" text-anchor="end" font-weight="normal" fill="#111" font-style="normal" >0</text><line x1="31.599999999999998" y1="385.3" x2="33.8" y2="385.3" stroke="#222" stroke-width="0.8"/><text x="29.2" y="388.1" font-size="7.8" text-anchor="end" font-weight="normal" fill="#111" font-style="normal" >&#8722;1</text><text transform="translate(19,305.4) rotate(-90)" font-size="9.3" text-anchor="middle" fill="#111">Scaled Abundances</text><text x="186" y="369" font-size="7.8" text-anchor="start" font-weight="normal" fill="#111" font-style="normal" >75%</text><text x="186" y="375.7" font-size="7.8" text-anchor="start" font-weight="normal" fill="#111" font-style="normal" >50%</text><text x="186" y="380.8" font-size="7.8" text-anchor="start" font-weight="normal" fill="#111" font-style="normal" >mean</text><text x="186" y="388.8" font-size="7.8" text-anchor="start" font-weight="normal" fill="#111" font-style="normal" >25%</text><path d="M181,372.6 C182.5,372.6 183,370.8 184.8,370.3 M181,374.4 C182.5,374.4 183,376.5 184.8,377 M181,378.6 C182.5,378.6 183,382.4 184.8,382.9" fill="none" stroke="#222" stroke-width="0.7"/><text x="185.5" y="214" font-size="9" text-anchor="start" font-weight="normal" fill="#111" font-style="italic" >density</text><defs><linearGradient id="dens" x1="0" y1="0" x2="0" y2="1"><stop offset="0.000" stop-color="#9e0142"/><stop offset="0.050" stop-color="#9e0142"/><stop offset="0.100" stop-color="#9e0142"/><stop offset="0.150" stop-color="#b81e48"/><stop offset="0.200" stop-color="#d7414e"/><stop offset="0.250" stop-color="#e95c47"/><stop offset="0.300" stop-color="#f67b49"/><stop offset="0.350" stop-color="#fba15b"/><stop offset="0.400" stop-color="#fdc171"/><stop offset="0.450" stop-color="#fede89"/><stop offset="0.500" stop-color="#fff1a7"/><stop offset="0.550" stop-color="#fcfeba"/><stop offset="0.600" stop-color="#edf8a4"/><stop offset="0.650" stop-color="#d5ee9b"/><stop offset="0.700" stop-color="#b3e0a2"/><stop offset="0.750" stop-color="#8cd1a4"/><stop offset="0.800" stop-color="#65c1a6"/><stop offset="0.850" stop-color="#469fb4"/><stop offset="0.900" stop-color="#3a7db8"/><stop offset="0.950" stop-color="#545ca8"/><stop offset="1.000" stop-color="#5e4fa2"/></linearGradient></defs><rect x="188.9" y="220" width="10.1" height="46.7" fill="url(#dens)"/><line x1="196.8" y1="222.6" x2="199" y2="222.6" stroke="#fff" stroke-width="0.8"/><text x="201.8" y="225.4" font-size="7.8" text-anchor="start" font-weight="normal" fill="#111" font-style="normal" >3</text><line x1="196.8" y1="236.7" x2="199" y2="236.7" stroke="#fff" stroke-width="0.8"/><text x="201.8" y="239.5" font-size="7.8" text-anchor="start" font-weight="normal" fill="#111" font-style="normal" >2</text><line x1="196.8" y1="250.3" x2="199" y2="250.3" stroke="#fff" stroke-width="0.8"/><text x="201.8" y="253.10000000000002" font-size="7.8" text-anchor="start" font-weight="normal" fill="#111" font-style="normal" >1</text><line x1="196.8" y1="265.1" x2="199" y2="265.1" stroke="#fff" stroke-width="0.8"/><text x="201.8" y="267.90000000000003" font-size="7.8" text-anchor="start" font-weight="normal" fill="#111" font-style="normal" >0</text><text x="229.5" y="167" font-size="11.5" text-anchor="start" font-weight="bold" fill="#111" font-style="normal" >c.</text><circle cx="276.3" cy="299.8" r="48.2" fill="#ba7dbd"/><circle cx="340.8" cy="299.8" r="48.4" fill="#0b6cc0"/><circle cx="276.3" cy="299.8" r="48.2" fill="none" stroke="#111" stroke-width="1.1"/><circle cx="340.8" cy="299.8" r="48.4" fill="none" stroke="#111" stroke-width="1.1"/><text x="273.2" y="247.8" font-size="8.05" text-anchor="middle" font-weight="normal" fill="#111" font-style="normal" >SANG</text><text x="342.4" y="247.8" font-size="8.1" text-anchor="middle" font-weight="normal" fill="#111" font-style="normal" >LP01</text><text x="272.6" y="298.4" font-size="12.6" text-anchor="middle" font-weight="normal" fill="#111" font-style="normal" >21</text><text x="272.6" y="307.8" font-size="8.2" text-anchor="middle" font-weight="normal" fill="#111" font-style="normal" >(26.6%)</text><text x="310.6" y="298.4" font-size="12.6" text-anchor="middle" font-weight="normal" fill="#111" font-style="normal" >28</text><text x="310.6" y="307.8" font-size="8.2" text-anchor="middle" font-weight="normal" fill="#111" font-style="normal" >(35.4%)</text><text x="342.6" y="298.4" font-size="12.6" text-anchor="middle" font-weight="normal" fill="#111" font-style="normal" >30</text><text x="342.6" y="307.8" font-size="8.2" text-anchor="middle" font-weight="normal" fill="#111" font-style="normal" >(38.0%)</text><text x="423.5" y="166.8" font-size="11.5" text-anchor="start" font-weight="bold" fill="#000" font-style="normal" >d.</text><line x1="463.7" y1="154.9" x2="508.3" y2="154.9" stroke="#111" stroke-width="0.95"/><line x1="463.7" y1="154.9" x2="463.7" y2="162.4" stroke="#111" stroke-width="0.95"/><line x1="508.3" y1="154.9" x2="508.3" y2="163.1" stroke="#111" stroke-width="0.95"/><line x1="454.9" y1="162.4" x2="472.4" y2="162.4" stroke="#111" stroke-width="0.95"/><line x1="454.9" y1="162.4" x2="454.9" y2="164.5" stroke="#111" stroke-width="0.95"/><line x1="472.4" y1="162.4" x2="472.4" y2="165.4" stroke="#111" stroke-width="0.95"/><line x1="449.4" y1="164.5" x2="460.5" y2="164.5" stroke="#111" stroke-width="0.95"/><line x1="449.4" y1="164.5" x2="449.4" y2="169" stroke="#111" stroke-width="0.95"/><line x1="460.5" y1="164.5" x2="460.5" y2="166.2" stroke="#111" stroke-width="0.95"/><line x1="457.2" y1="166.2" x2="463.6" y2="166.2" stroke="#111" stroke-width="0.95"/><line x1="457.2" y1="166.2" x2="457.2" y2="169" stroke="#111" stroke-width="0.95"/><line x1="463.6" y1="166.2" x2="463.6" y2="169" stroke="#111" stroke-width="0.95"/><line x1="469.8" y1="165.4" x2="476.4" y2="165.4" stroke="#111" stroke-width="0.95"/><line x1="469.8" y1="165.4" x2="469.8" y2="169" stroke="#111" stroke-width="0.95"/><line x1="476.4" y1="165.4" x2="476.4" y2="169" stroke="#111" stroke-width="0.95"/><line x1="491" y1="163.1" x2="525.8" y2="163.1" stroke="#111" stroke-width="0.95"/><line x1="491" y1="163.1" x2="491" y2="166.5" stroke="#111" stroke-width="0.95"/><line x1="525.8" y1="163.1" x2="525.8" y2="167.5" stroke="#111" stroke-width="0.95"/><line x1="483" y1="166.5" x2="499" y2="166.5" stroke="#111" stroke-width="0.95"/><line x1="483" y1="166.5" x2="483" y2="169" stroke="#111" stroke-width="0.95"/><line x1="499" y1="166.5" x2="499" y2="167.2" stroke="#111" stroke-width="0.95"/><line x1="489.5" y1="167.2" x2="506" y2="167.2" stroke="#111" stroke-width="0.95"/><line x1="489.5" y1="167.2" x2="489.5" y2="169" stroke="#111" stroke-width="0.95"/><line x1="506" y1="167.2" x2="506" y2="169" stroke="#111" stroke-width="0.95"/><line x1="496" y1="167.6" x2="502.5" y2="167.6" stroke="#111" stroke-width="0.95"/><line x1="496" y1="167.6" x2="496" y2="169" stroke="#111" stroke-width="0.95"/><line x1="502.5" y1="167.6" x2="502.5" y2="169" stroke="#111" stroke-width="0.95"/><line x1="516" y1="167.5" x2="536" y2="167.5" stroke="#111" stroke-width="0.95"/><line x1="516" y1="167.5" x2="516" y2="169" stroke="#111" stroke-width="0.95"/><line x1="536" y1="167.5" x2="536" y2="168" stroke="#111" stroke-width="0.95"/><line x1="522.7" y1="168" x2="542.7" y2="168" stroke="#111" stroke-width="0.95"/><line x1="529.3" y1="168" x2="529.3" y2="169" stroke="#111" stroke-width="0.95"/><line x1="542.7" y1="168" x2="542.7" y2="169" stroke="#111" stroke-width="0.95"/><rect x="446.00" y="168.9" width="33.70" height="6.9" fill="#1073c3"/><rect x="479.40" y="168.9" width="33.70" height="6.9" fill="#9a4fab"/><rect x="512.80" y="168.9" width="33.70" height="6.9" fill="#8c8c8c"/><g shape-rendering="crispEdges"><rect x="446.00" y="176.90" width="7.08" height="3.05" fill="#d3bafc"/><rect x="452.68" y="176.90" width="7.08" height="3.05" fill="#d3bafc"/><rect x="459.36" y="176.90" width="7.08" height="3.05" fill="#d3bafc"/><rect x="466.04" y="176.90" width="7.08" height="3.05" fill="#f2e7ff"/><rect x="472.72" y="176.90" width="7.08" height="3.05" fill="#d3bafc"/><rect x="479.40" y="176.90" width="7.08" height="3.05" fill="#ff3e22"/><rect x="486.08" y="176.90" width="7.08" height="3.05" fill="#ff7e5e"/><rect x="492.76" y="176.90" width="7.08" height="3.05" fill="#ff9475"/><rect x="499.44" y="176.90" width="7.08" height="3.05" fill="#ff9e81"/><rect x="506.12" y="176.90" width="7.08" height="3.05" fill="#ffa88d"/><rect x="512.80" y="176.90" width="7.08" height="3.05" fill="#ebdcfe"/><rect x="519.48" y="176.90" width="7.08" height="3.05" fill="#cfb4fb"/><rect x="526.16" y="176.90" width="7.08" height="3.05" fill="#cfb4fb"/><rect x="532.84" y="176.90" width="7.08" height="3.05" fill="#cfb4fb"/><rect x="539.52" y="176.90" width="7.08" height="3.05" fill="#cfb4fb"/><rect x="446.00" y="179.55" width="7.08" height="3.05" fill="#d7c0fc"/><rect x="452.68" y="179.55" width="7.08" height="3.05" fill="#d7c0fc"/><rect x="459.36" y="179.55" width="7.08" height="3.05" fill="#d3bafc"/><rect x="466.04" y="179.55" width="7.08" height="3.05" fill="#ebdcfe"/><rect x="472.72" y="179.55" width="7.08" height="3.05" fill="#d7c0fc"/><rect x="479.40" y="179.55" width="7.08" height="3.05" fill="#ff6846"/><rect x="486.08" y="179.55" width="7.08" height="3.05" fill="#ff9475"/><rect x="492.76" y="179.55" width="7.08" height="3.05" fill="#ffa387"/><rect x="499.44" y="179.55" width="7.08" height="3.05" fill="#ffa88d"/><rect x="506.12" y="179.55" width="7.08" height="3.05" fill="#ffad93"/><rect x="512.80" y="179.55" width="7.08" height="3.05" fill="#e3d0fe"/><rect x="519.48" y="179.55" width="7.08" height="3.05" fill="#cfb4fb"/><rect x="526.16" y="179.55" width="7.08" height="3.05" fill="#cfb4fb"/><rect x="532.84" y="179.55" width="7.08" height="3.05" fill="#cfb4fb"/><rect x="539.52" y="179.55" width="7.08" height="3.05" fill="#cfb4fb"/><rect x="549.0" y="176.90" width="6.9" height="3.05" fill="#33A02C"/><rect x="549.0" y="179.55" width="6.9" height="3.05" fill="#FB9A99"/><rect x="558.5" y="176.90" width="6.9" height="3.05" fill="#A6CEE3"/><rect x="558.5" y="179.55" width="6.9" height="3.05" fill="#FF7F00"/><rect x="568.0" y="176.90" width="6.9" height="3.05" fill="#6A3D9A"/><rect x="568.0" y="179.55" width="6.9" height="3.05" fill="#CAB2D6"/><rect x="446.00" y="183.40" width="7.08" height="2.93" fill="#ffc6b2"/><rect x="452.68" y="183.40" width="7.08" height="2.93" fill="#ffa88d"/><rect x="459.36" y="183.40" width="7.08" height="2.93" fill="#ffc6b2"/><rect x="466.04" y="183.40" width="7.08" height="2.93" fill="#ffa88d"/><rect x="472.72" y="183.40" width="7.08" height="2.93" fill="#ffd9cb"/><rect x="479.40" y="183.40" width="7.08" height="2.93" fill="#ffb299"/><rect x="486.08" y="183.40" width="7.08" height="2.93" fill="#ffece5"/><rect x="492.76" y="183.40" width="7.08" height="2.93" fill="#ffece5"/><rect x="499.44" y="183.40" width="7.08" height="2.93" fill="#fff5f2"/><rect x="506.12" y="183.40" width="7.08" height="2.93" fill="#ffffff"/><rect x="512.80" y="183.40" width="7.08" height="2.93" fill="#9f77f4"/><rect x="519.48" y="183.40" width="7.08" height="2.93" fill="#9f77f4"/><rect x="526.16" y="183.40" width="7.08" height="2.93" fill="#9f77f4"/><rect x="532.84" y="183.40" width="7.08" height="2.93" fill="#9f77f4"/><rect x="539.52" y="183.40" width="7.08" height="2.93" fill="#9f77f4"/><rect x="446.00" y="185.93" width="7.08" height="2.93" fill="#ffbca6"/><rect x="452.68" y="185.93" width="7.08" height="2.93" fill="#ffa88d"/><rect x="459.36" y="185.93" width="7.08" height="2.93" fill="#ffcfbf"/><rect x="466.04" y="185.93" width="7.08" height="2.93" fill="#ff9475"/><rect x="472.72" y="185.93" width="7.08" height="2.93" fill="#f2e7ff"/><rect x="479.40" y="185.93" width="7.08" height="2.93" fill="#ff9e81"/><rect x="486.08" y="185.93" width="7.08" height="2.93" fill="#ffc6b2"/><rect x="492.76" y="185.93" width="7.08" height="2.93" fill="#ffe2d8"/><rect x="499.44" y="185.93" width="7.08" height="2.93" fill="#fff5f2"/><rect x="506.12" y="185.93" width="7.08" height="2.93" fill="#f8f3ff"/><rect x="512.80" y="185.93" width="7.08" height="2.93" fill="#9f77f4"/><rect x="519.48" y="185.93" width="7.08" height="2.93" fill="#9f77f4"/><rect x="526.16" y="185.93" width="7.08" height="2.93" fill="#9f77f4"/><rect x="532.84" y="185.93" width="7.08" height="2.93" fill="#9f77f4"/><rect x="539.52" y="185.93" width="7.08" height="2.93" fill="#9f77f4"/><rect x="446.00" y="188.47" width="7.08" height="2.93" fill="#ffc6b2"/><rect x="452.68" y="188.47" width="7.08" height="2.93" fill="#ffcfbf"/><rect x="459.36" y="188.47" width="7.08" height="2.93" fill="#ffece5"/><rect x="466.04" y="188.47" width="7.08" height="2.93" fill="#ffbca6"/><rect x="472.72" y="188.47" width="7.08" height="2.93" fill="#ffffff"/><rect x="479.40" y="188.47" width="7.08" height="2.93" fill="#ff7e5e"/><rect x="486.08" y="188.47" width="7.08" height="2.93" fill="#ffc6b2"/><rect x="492.76" y="188.47" width="7.08" height="2.93" fill="#ffe2d8"/><rect x="499.44" y="188.47" width="7.08" height="2.93" fill="#ffece5"/><rect x="506.12" y="188.47" width="7.08" height="2.93" fill="#ffffff"/><rect x="512.80" y="188.47" width="7.08" height="2.93" fill="#9f77f4"/><rect x="519.48" y="188.47" width="7.08" height="2.93" fill="#9f77f4"/><rect x="526.16" y="188.47" width="7.08" height="2.93" fill="#9f77f4"/><rect x="532.84" y="188.47" width="7.08" height="2.93" fill="#9f77f4"/><rect x="539.52" y="188.47" width="7.08" height="2.93" fill="#9f77f4"/><rect x="446.00" y="191.00" width="7.08" height="2.93" fill="#ffcfbf"/><rect x="452.68" y="191.00" width="7.08" height="2.93" fill="#ffcfbf"/><rect x="459.36" y="191.00" width="7.08" height="2.93" fill="#fff5f2"/><rect x="466.04" y="191.00" width="7.08" height="2.93" fill="#fff5f2"/><rect x="472.72" y="191.00" width="7.08" height="2.93" fill="#fff5f2"/><rect x="479.40" y="191.00" width="7.08" height="2.93" fill="#ff6846"/><rect x="486.08" y="191.00" width="7.08" height="2.93" fill="#ffbca6"/><rect x="492.76" y="191.00" width="7.08" height="2.93" fill="#ffcfbf"/><rect x="499.44" y="191.00" width="7.08" height="2.93" fill="#ffd9cb"/><rect x="506.12" y="191.00" width="7.08" height="2.93" fill="#ffe2d8"/><rect x="512.80" y="191.00" width="7.08" height="2.93" fill="#9f77f4"/><rect x="519.48" y="191.00" width="7.08" height="2.93" fill="#9f77f4"/><rect x="526.16" y="191.00" width="7.08" height="2.93" fill="#9f77f4"/><rect x="532.84" y="191.00" width="7.08" height="2.93" fill="#9f77f4"/><rect x="539.52" y="191.00" width="7.08" height="2.93" fill="#9f77f4"/><rect x="446.00" y="193.53" width="7.08" height="2.93" fill="#ffe2d8"/><rect x="452.68" y="193.53" width="7.08" height="2.93" fill="#ffe2d8"/><rect x="459.36" y="193.53" width="7.08" height="2.93" fill="#ffffff"/><rect x="466.04" y="193.53" width="7.08" height="2.93" fill="#ffece5"/><rect x="472.72" y="193.53" width="7.08" height="2.93" fill="#ffece5"/><rect x="479.40" y="193.53" width="7.08" height="2.93" fill="#ffa88d"/><rect x="486.08" y="193.53" width="7.08" height="2.93" fill="#ffcfbf"/><rect x="492.76" y="193.53" width="7.08" height="2.93" fill="#ffcfbf"/><rect x="499.44" y="193.53" width="7.08" height="2.93" fill="#ffd9cb"/><rect x="506.12" y="193.53" width="7.08" height="2.93" fill="#ffd9cb"/><rect x="512.80" y="193.53" width="7.08" height="2.93" fill="#a47df5"/><rect x="519.48" y="193.53" width="7.08" height="2.93" fill="#a47df5"/><rect x="526.16" y="193.53" width="7.08" height="2.93" fill="#a47df5"/><rect x="532.84" y="193.53" width="7.08" height="2.93" fill="#a47df5"/><rect x="539.52" y="193.53" width="7.08" height="2.93" fill="#a47df5"/><rect x="446.00" y="196.07" width="7.08" height="2.93" fill="#f2e7ff"/><rect x="452.68" y="196.07" width="7.08" height="2.93" fill="#d3bafc"/><rect x="459.36" y="196.07" width="7.08" height="2.93" fill="#f2e7ff"/><rect x="466.04" y="196.07" width="7.08" height="2.93" fill="#ff0000"/><rect x="472.72" y="196.07" width="7.08" height="2.93" fill="#fff5f2"/><rect x="479.40" y="196.07" width="7.08" height="2.93" fill="#ffc6b2"/><rect x="486.08" y="196.07" width="7.08" height="2.93" fill="#ffe2d8"/><rect x="492.76" y="196.07" width="7.08" height="2.93" fill="#ffe2d8"/><rect x="499.44" y="196.07" width="7.08" height="2.93" fill="#ffece5"/><rect x="506.12" y="196.07" width="7.08" height="2.93" fill="#ffece5"/><rect x="512.80" y="196.07" width="7.08" height="2.93" fill="#a983f5"/><rect x="519.48" y="196.07" width="7.08" height="2.93" fill="#a983f5"/><rect x="526.16" y="196.07" width="7.08" height="2.93" fill="#a983f5"/><rect x="532.84" y="196.07" width="7.08" height="2.93" fill="#a983f5"/><rect x="539.52" y="196.07" width="7.08" height="2.93" fill="#a983f5"/><rect x="549.0" y="183.40" width="6.9" height="2.93" fill="#E31A1C"/><rect x="549.0" y="185.93" width="6.9" height="2.93" fill="#B2DF8A"/><rect x="549.0" y="188.47" width="6.9" height="2.93" fill="#FF7F00"/><rect x="549.0" y="191.00" width="6.9" height="2.93" fill="#33A02C"/><rect x="549.0" y="193.53" width="6.9" height="2.93" fill="#FDBF6F"/><rect x="549.0" y="196.07" width="6.9" height="2.93" fill="#1F78B4"/><rect x="558.5" y="183.40" width="6.9" height="2.93" fill="#A6CEE3"/><rect x="558.5" y="185.93" width="6.9" height="2.93" fill="#1F78B4"/><rect x="558.5" y="188.47" width="6.9" height="2.93" fill="#FDBF6F"/><rect x="558.5" y="191.00" width="6.9" height="2.93" fill="#FDBF6F"/><rect x="558.5" y="193.53" width="6.9" height="2.93" fill="#FDBF6F"/><rect x="558.5" y="196.07" width="6.9" height="2.93" fill="#FFFF99"/><rect x="568.0" y="183.40" width="6.9" height="2.93" fill="#A6CEE3"/><rect x="568.0" y="185.93" width="6.9" height="2.93" fill="#A6CEE3"/><rect x="568.0" y="188.47" width="6.9" height="2.93" fill="#33A02C"/><rect x="568.0" y="191.00" width="6.9" height="2.93" fill="#6A3D9A"/><rect x="568.0" y="193.53" width="6.9" height="2.93" fill="#33A02C"/><rect x="568.0" y="196.07" width="6.9" height="2.93" fill="#33A02C"/><rect x="446.00" y="200.00" width="7.08" height="2.88" fill="#ebdcfe"/><rect x="452.68" y="200.00" width="7.08" height="2.88" fill="#e3d0fe"/><rect x="459.36" y="200.00" width="7.08" height="2.88" fill="#f2e7ff"/><rect x="466.04" y="200.00" width="7.08" height="2.88" fill="#ff3e22"/><rect x="472.72" y="200.00" width="7.08" height="2.88" fill="#ff0000"/><rect x="479.40" y="200.00" width="7.08" height="2.88" fill="#ffd9cb"/><rect x="486.08" y="200.00" width="7.08" height="2.88" fill="#ffd9cb"/><rect x="492.76" y="200.00" width="7.08" height="2.88" fill="#ffe2d8"/><rect x="499.44" y="200.00" width="7.08" height="2.88" fill="#ffe2d8"/><rect x="506.12" y="200.00" width="7.08" height="2.88" fill="#ffece5"/><rect x="512.80" y="200.00" width="7.08" height="2.88" fill="#cbaefb"/><rect x="519.48" y="200.00" width="7.08" height="2.88" fill="#cbaefb"/><rect x="526.16" y="200.00" width="7.08" height="2.88" fill="#cbaefb"/><rect x="532.84" y="200.00" width="7.08" height="2.88" fill="#cbaefb"/><rect x="539.52" y="200.00" width="7.08" height="2.88" fill="#cbaefb"/><rect x="446.00" y="202.48" width="7.08" height="2.88" fill="#ffffff"/><rect x="452.68" y="202.48" width="7.08" height="2.88" fill="#f8f3ff"/><rect x="459.36" y="202.48" width="7.08" height="2.88" fill="#ffe2d8"/><rect x="466.04" y="202.48" width="7.08" height="2.88" fill="#ff0000"/><rect x="472.72" y="202.48" width="7.08" height="2.88" fill="#ff2913"/><rect x="479.40" y="202.48" width="7.08" height="2.88" fill="#ebdcfe"/><rect x="486.08" y="202.48" width="7.08" height="2.88" fill="#e3d0fe"/><rect x="492.76" y="202.48" width="7.08" height="2.88" fill="#e3d0fe"/><rect x="499.44" y="202.48" width="7.08" height="2.88" fill="#e3d0fe"/><rect x="506.12" y="202.48" width="7.08" height="2.88" fill="#e3d0fe"/><rect x="512.80" y="202.48" width="7.08" height="2.88" fill="#cfb4fb"/><rect x="519.48" y="202.48" width="7.08" height="2.88" fill="#cfb4fb"/><rect x="526.16" y="202.48" width="7.08" height="2.88" fill="#cfb4fb"/><rect x="532.84" y="202.48" width="7.08" height="2.88" fill="#cfb4fb"/><rect x="539.52" y="202.48" width="7.08" height="2.88" fill="#cfb4fb"/><rect x="446.00" y="204.96" width="7.08" height="2.88" fill="#ffc6b2"/><rect x="452.68" y="204.96" width="7.08" height="2.88" fill="#ffffff"/><rect x="459.36" y="204.96" width="7.08" height="2.88" fill="#f8f3ff"/><rect x="466.04" y="204.96" width="7.08" height="2.88" fill="#ff0000"/><rect x="472.72" y="204.96" width="7.08" height="2.88" fill="#ff3e22"/><rect x="479.40" y="204.96" width="7.08" height="2.88" fill="#f2e7ff"/><rect x="486.08" y="204.96" width="7.08" height="2.88" fill="#e3d0fe"/><rect x="492.76" y="204.96" width="7.08" height="2.88" fill="#e3d0fe"/><rect x="499.44" y="204.96" width="7.08" height="2.88" fill="#e3d0fe"/><rect x="506.12" y="204.96" width="7.08" height="2.88" fill="#e0cbfd"/><rect x="512.80" y="204.96" width="7.08" height="2.88" fill="#cbaefb"/><rect x="519.48" y="204.96" width="7.08" height="2.88" fill="#cbaefb"/><rect x="526.16" y="204.96" width="7.08" height="2.88" fill="#cbaefb"/><rect x="532.84" y="204.96" width="7.08" height="2.88" fill="#cbaefb"/><rect x="539.52" y="204.96" width="7.08" height="2.88" fill="#cbaefb"/><rect x="446.00" y="207.44" width="7.08" height="2.88" fill="#ffcfbf"/><rect x="452.68" y="207.44" width="7.08" height="2.88" fill="#f2e7ff"/><rect x="459.36" y="207.44" width="7.08" height="2.88" fill="#f2e7ff"/><rect x="466.04" y="207.44" width="7.08" height="2.88" fill="#ff0000"/><rect x="472.72" y="207.44" width="7.08" height="2.88" fill="#ff4d2e"/><rect x="479.40" y="207.44" width="7.08" height="2.88" fill="#f2e7ff"/><rect x="486.08" y="207.44" width="7.08" height="2.88" fill="#e3d0fe"/><rect x="492.76" y="207.44" width="7.08" height="2.88" fill="#e3d0fe"/><rect x="499.44" y="207.44" width="7.08" height="2.88" fill="#e0cbfd"/><rect x="506.12" y="207.44" width="7.08" height="2.88" fill="#e0cbfd"/><rect x="512.80" y="207.44" width="7.08" height="2.88" fill="#cbaefb"/><rect x="519.48" y="207.44" width="7.08" height="2.88" fill="#cbaefb"/><rect x="526.16" y="207.44" width="7.08" height="2.88" fill="#cbaefb"/><rect x="532.84" y="207.44" width="7.08" height="2.88" fill="#cbaefb"/><rect x="539.52" y="207.44" width="7.08" height="2.88" fill="#cbaefb"/><rect x="446.00" y="209.92" width="7.08" height="2.88" fill="#ffffff"/><rect x="452.68" y="209.92" width="7.08" height="2.88" fill="#ebdcfe"/><rect x="459.36" y="209.92" width="7.08" height="2.88" fill="#f8f3ff"/><rect x="466.04" y="209.92" width="7.08" height="2.88" fill="#ff2913"/><rect x="472.72" y="209.92" width="7.08" height="2.88" fill="#ff5b3a"/><rect x="479.40" y="209.92" width="7.08" height="2.88" fill="#f8f3ff"/><rect x="486.08" y="209.92" width="7.08" height="2.88" fill="#e3d0fe"/><rect x="492.76" y="209.92" width="7.08" height="2.88" fill="#e3d0fe"/><rect x="499.44" y="209.92" width="7.08" height="2.88" fill="#e0cbfd"/><rect x="506.12" y="209.92" width="7.08" height="2.88" fill="#e0cbfd"/><rect x="512.80" y="209.92" width="7.08" height="2.88" fill="#cbaefb"/><rect x="519.48" y="209.92" width="7.08" height="2.88" fill="#cbaefb"/><rect x="526.16" y="209.92" width="7.08" height="2.88" fill="#cbaefb"/><rect x="532.84" y="209.92" width="7.08" height="2.88" fill="#cbaefb"/><rect x="539.52" y="209.92" width="7.08" height="2.88" fill="#cbaefb"/><rect x="549.0" y="200.00" width="6.9" height="2.88" fill="#B2DF8A"/><rect x="549.0" y="202.48" width="6.9" height="2.88" fill="#A6CEE3"/><rect x="549.0" y="204.96" width="6.9" height="2.88" fill="#A6CEE3"/><rect x="549.0" y="207.44" width="6.9" height="2.88" fill="#A6CEE3"/><rect x="549.0" y="209.92" width="6.9" height="2.88" fill="#A6CEE3"/><rect x="558.5" y="200.00" width="6.9" height="2.88" fill="#1F78B4"/><rect x="558.5" y="202.48" width="6.9" height="2.88" fill="#CAB2D6"/><rect x="558.5" y="204.96" width="6.9" height="2.88" fill="#FDBF6F"/><rect x="558.5" y="207.44" width="6.9" height="2.88" fill="#CAB2D6"/><rect x="558.5" y="209.92" width="6.9" height="2.88" fill="#6A3D9A"/><rect x="568.0" y="200.00" width="6.9" height="2.88" fill="#A6CEE3"/><rect x="568.0" y="202.48" width="6.9" height="2.88" fill="#FDBF6F"/><rect x="568.0" y="204.96" width="6.9" height="2.88" fill="#33A02C"/><rect x="568.0" y="207.44" width="6.9" height="2.88" fill="#FDBF6F"/><rect x="568.0" y="209.92" width="6.9" height="2.88" fill="#A6CEE3"/><rect x="446.00" y="213.80" width="7.08" height="2.80" fill="#ff8969"/><rect x="452.68" y="213.80" width="7.08" height="2.80" fill="#ffece5"/><rect x="459.36" y="213.80" width="7.08" height="2.80" fill="#ffc6b2"/><rect x="466.04" y="213.80" width="7.08" height="2.80" fill="#ff0000"/><rect x="472.72" y="213.80" width="7.08" height="2.80" fill="#ffece5"/><rect x="479.40" y="213.80" width="7.08" height="2.80" fill="#e3d0fe"/><rect x="486.08" y="213.80" width="7.08" height="2.80" fill="#e0cbfd"/><rect x="492.76" y="213.80" width="7.08" height="2.80" fill="#e0cbfd"/><rect x="499.44" y="213.80" width="7.08" height="2.80" fill="#e0cbfd"/><rect x="506.12" y="213.80" width="7.08" height="2.80" fill="#e0cbfd"/><rect x="512.80" y="213.80" width="7.08" height="2.80" fill="#cfb4fb"/><rect x="519.48" y="213.80" width="7.08" height="2.80" fill="#cfb4fb"/><rect x="526.16" y="213.80" width="7.08" height="2.80" fill="#cfb4fb"/><rect x="532.84" y="213.80" width="7.08" height="2.80" fill="#cfb4fb"/><rect x="539.52" y="213.80" width="7.08" height="2.80" fill="#cfb4fb"/><rect x="446.00" y="216.20" width="7.08" height="2.80" fill="#ffa88d"/><rect x="452.68" y="216.20" width="7.08" height="2.80" fill="#ffe2d8"/><rect x="459.36" y="216.20" width="7.08" height="2.80" fill="#ffbca6"/><rect x="466.04" y="216.20" width="7.08" height="2.80" fill="#ff0000"/><rect x="472.72" y="216.20" width="7.08" height="2.80" fill="#ffe2d8"/><rect x="479.40" y="216.20" width="7.08" height="2.80" fill="#e0cbfd"/><rect x="486.08" y="216.20" width="7.08" height="2.80" fill="#e0cbfd"/><rect x="492.76" y="216.20" width="7.08" height="2.80" fill="#e0cbfd"/><rect x="499.44" y="216.20" width="7.08" height="2.80" fill="#e0cbfd"/><rect x="506.12" y="216.20" width="7.08" height="2.80" fill="#e0cbfd"/><rect x="512.80" y="216.20" width="7.08" height="2.80" fill="#cfb4fb"/><rect x="519.48" y="216.20" width="7.08" height="2.80" fill="#cfb4fb"/><rect x="526.16" y="216.20" width="7.08" height="2.80" fill="#cfb4fb"/><rect x="532.84" y="216.20" width="7.08" height="2.80" fill="#cfb4fb"/><rect x="539.52" y="216.20" width="7.08" height="2.80" fill="#cfb4fb"/><rect x="446.00" y="218.60" width="7.08" height="2.80" fill="#ffb299"/><rect x="452.68" y="218.60" width="7.08" height="2.80" fill="#ffffff"/><rect x="459.36" y="218.60" width="7.08" height="2.80" fill="#ffa88d"/><rect x="466.04" y="218.60" width="7.08" height="2.80" fill="#ff0000"/><rect x="472.72" y="218.60" width="7.08" height="2.80" fill="#ffece5"/><rect x="479.40" y="218.60" width="7.08" height="2.80" fill="#f8f3ff"/><rect x="486.08" y="218.60" width="7.08" height="2.80" fill="#e3d0fe"/><rect x="492.76" y="218.60" width="7.08" height="2.80" fill="#e3d0fe"/><rect x="499.44" y="218.60" width="7.08" height="2.80" fill="#e0cbfd"/><rect x="506.12" y="218.60" width="7.08" height="2.80" fill="#e0cbfd"/><rect x="512.80" y="218.60" width="7.08" height="2.80" fill="#ebdcfe"/><rect x="519.48" y="218.60" width="7.08" height="2.80" fill="#cbaefb"/><rect x="526.16" y="218.60" width="7.08" height="2.80" fill="#cbaefb"/><rect x="532.84" y="218.60" width="7.08" height="2.80" fill="#cbaefb"/><rect x="539.52" y="218.60" width="7.08" height="2.80" fill="#cbaefb"/><rect x="446.00" y="221.00" width="7.08" height="2.80" fill="#ffd9cb"/><rect x="452.68" y="221.00" width="7.08" height="2.80" fill="#f2e7ff"/><rect x="459.36" y="221.00" width="7.08" height="2.80" fill="#ffa88d"/><rect x="466.04" y="221.00" width="7.08" height="2.80" fill="#ff0000"/><rect x="472.72" y="221.00" width="7.08" height="2.80" fill="#fff5f2"/><rect x="479.40" y="221.00" width="7.08" height="2.80" fill="#e3d0fe"/><rect x="486.08" y="221.00" width="7.08" height="2.80" fill="#e0cbfd"/><rect x="492.76" y="221.00" width="7.08" height="2.80" fill="#e0cbfd"/><rect x="499.44" y="221.00" width="7.08" height="2.80" fill="#e0cbfd"/><rect x="506.12" y="221.00" width="7.08" height="2.80" fill="#e0cbfd"/><rect x="512.80" y="221.00" width="7.08" height="2.80" fill="#cbaefb"/><rect x="519.48" y="221.00" width="7.08" height="2.80" fill="#cbaefb"/><rect x="526.16" y="221.00" width="7.08" height="2.80" fill="#cbaefb"/><rect x="532.84" y="221.00" width="7.08" height="2.80" fill="#cbaefb"/><rect x="539.52" y="221.00" width="7.08" height="2.80" fill="#cbaefb"/><rect x="446.00" y="223.40" width="7.08" height="2.80" fill="#ebdcfe"/><rect x="452.68" y="223.40" width="7.08" height="2.80" fill="#fff5f2"/><rect x="459.36" y="223.40" width="7.08" height="2.80" fill="#ffbca6"/><rect x="466.04" y="223.40" width="7.08" height="2.80" fill="#ff0000"/><rect x="472.72" y="223.40" width="7.08" height="2.80" fill="#ffbca6"/><rect x="479.40" y="223.40" width="7.08" height="2.80" fill="#ebdcfe"/><rect x="486.08" y="223.40" width="7.08" height="2.80" fill="#e0cbfd"/><rect x="492.76" y="223.40" width="7.08" height="2.80" fill="#e0cbfd"/><rect x="499.44" y="223.40" width="7.08" height="2.80" fill="#e0cbfd"/><rect x="506.12" y="223.40" width="7.08" height="2.80" fill="#e0cbfd"/><rect x="512.80" y="223.40" width="7.08" height="2.80" fill="#cbaefb"/><rect x="519.48" y="223.40" width="7.08" height="2.80" fill="#cbaefb"/><rect x="526.16" y="223.40" width="7.08" height="2.80" fill="#cbaefb"/><rect x="532.84" y="223.40" width="7.08" height="2.80" fill="#cbaefb"/><rect x="539.52" y="223.40" width="7.08" height="2.80" fill="#cbaefb"/><rect x="549.0" y="213.80" width="6.9" height="2.80" fill="#E31A1C"/><rect x="549.0" y="216.20" width="6.9" height="2.80" fill="#E31A1C"/><rect x="549.0" y="218.60" width="6.9" height="2.80" fill="#E31A1C"/><rect x="549.0" y="221.00" width="6.9" height="2.80" fill="#FDBF6F"/><rect x="549.0" y="223.40" width="6.9" height="2.80" fill="#E31A1C"/><rect x="558.5" y="213.80" width="6.9" height="2.80" fill="#CAB2D6"/><rect x="558.5" y="216.20" width="6.9" height="2.80" fill="#B2DF8A"/><rect x="558.5" y="218.60" width="6.9" height="2.80" fill="#FDBF6F"/><rect x="558.5" y="221.00" width="6.9" height="2.80" fill="#FFFF99"/><rect x="558.5" y="223.40" width="6.9" height="2.80" fill="#B2DF8A"/><rect x="568.0" y="213.80" width="6.9" height="2.80" fill="#FF7F00"/><rect x="568.0" y="216.20" width="6.9" height="2.80" fill="#FFFF99"/><rect x="568.0" y="218.60" width="6.9" height="2.80" fill="#FF7F00"/><rect x="568.0" y="221.00" width="6.9" height="2.80" fill="#FF7F00"/><rect x="568.0" y="223.40" width="6.9" height="2.80" fill="#FF7F00"/><rect x="446.00" y="227.20" width="7.08" height="2.93" fill="#ff0000"/><rect x="452.68" y="227.20" width="7.08" height="2.93" fill="#ff0000"/><rect x="459.36" y="227.20" width="7.08" height="2.93" fill="#d3bafc"/><rect x="466.04" y="227.20" width="7.08" height="2.93" fill="#f8f3ff"/><rect x="472.72" y="227.20" width="7.08" height="2.93" fill="#ffece5"/><rect x="479.40" y="227.20" width="7.08" height="2.93" fill="#dbc5fd"/><rect x="486.08" y="227.20" width="7.08" height="2.93" fill="#dbc5fd"/><rect x="492.76" y="227.20" width="7.08" height="2.93" fill="#dbc5fd"/><rect x="499.44" y="227.20" width="7.08" height="2.93" fill="#dbc5fd"/><rect x="506.12" y="227.20" width="7.08" height="2.93" fill="#dbc5fd"/><rect x="512.80" y="227.20" width="7.08" height="2.93" fill="#d3bafc"/><rect x="519.48" y="227.20" width="7.08" height="2.93" fill="#d3bafc"/><rect x="526.16" y="227.20" width="7.08" height="2.93" fill="#d3bafc"/><rect x="532.84" y="227.20" width="7.08" height="2.93" fill="#d3bafc"/><rect x="539.52" y="227.20" width="7.08" height="2.93" fill="#d3bafc"/><rect x="446.00" y="229.73" width="7.08" height="2.93" fill="#ff3e22"/><rect x="452.68" y="229.73" width="7.08" height="2.93" fill="#ff6846"/><rect x="459.36" y="229.73" width="7.08" height="2.93" fill="#ff5b3a"/><rect x="466.04" y="229.73" width="7.08" height="2.93" fill="#ffffff"/><rect x="472.72" y="229.73" width="7.08" height="2.93" fill="#ffffff"/><rect x="479.40" y="229.73" width="7.08" height="2.93" fill="#dbc5fd"/><rect x="486.08" y="229.73" width="7.08" height="2.93" fill="#dbc5fd"/><rect x="492.76" y="229.73" width="7.08" height="2.93" fill="#dbc5fd"/><rect x="499.44" y="229.73" width="7.08" height="2.93" fill="#dbc5fd"/><rect x="506.12" y="229.73" width="7.08" height="2.93" fill="#dbc5fd"/><rect x="512.80" y="229.73" width="7.08" height="2.93" fill="#d3bafc"/><rect x="519.48" y="229.73" width="7.08" height="2.93" fill="#d3bafc"/><rect x="526.16" y="229.73" width="7.08" height="2.93" fill="#d3bafc"/><rect x="532.84" y="229.73" width="7.08" height="2.93" fill="#d3bafc"/><rect x="539.52" y="229.73" width="7.08" height="2.93" fill="#d3bafc"/><rect x="446.00" y="232.27" width="7.08" height="2.93" fill="#ff4d2e"/><rect x="452.68" y="232.27" width="7.08" height="2.93" fill="#ff6846"/><rect x="459.36" y="232.27" width="7.08" height="2.93" fill="#ff6846"/><rect x="466.04" y="232.27" width="7.08" height="2.93" fill="#ffcfbf"/><rect x="472.72" y="232.27" width="7.08" height="2.93" fill="#ffc6b2"/><rect x="479.40" y="232.27" width="7.08" height="2.93" fill="#dbc5fd"/><rect x="486.08" y="232.27" width="7.08" height="2.93" fill="#dbc5fd"/><rect x="492.76" y="232.27" width="7.08" height="2.93" fill="#f8f3ff"/><rect x="499.44" y="232.27" width="7.08" height="2.93" fill="#dbc5fd"/><rect x="506.12" y="232.27" width="7.08" height="2.93" fill="#dbc5fd"/><rect x="512.80" y="232.27" width="7.08" height="2.93" fill="#cbaefb"/><rect x="519.48" y="232.27" width="7.08" height="2.93" fill="#cbaefb"/><rect x="526.16" y="232.27" width="7.08" height="2.93" fill="#cbaefb"/><rect x="532.84" y="232.27" width="7.08" height="2.93" fill="#cbaefb"/><rect x="539.52" y="232.27" width="7.08" height="2.93" fill="#cbaefb"/><rect x="446.00" y="234.80" width="7.08" height="2.93" fill="#ff5b3a"/><rect x="452.68" y="234.80" width="7.08" height="2.93" fill="#ff5b3a"/><rect x="459.36" y="234.80" width="7.08" height="2.93" fill="#ff7352"/><rect x="466.04" y="234.80" width="7.08" height="2.93" fill="#ffd9cb"/><rect x="472.72" y="234.80" width="7.08" height="2.93" fill="#ffa88d"/><rect x="479.40" y="234.80" width="7.08" height="2.93" fill="#dbc5fd"/><rect x="486.08" y="234.80" width="7.08" height="2.93" fill="#dbc5fd"/><rect x="492.76" y="234.80" width="7.08" height="2.93" fill="#dbc5fd"/><rect x="499.44" y="234.80" width="7.08" height="2.93" fill="#dbc5fd"/><rect x="506.12" y="234.80" width="7.08" height="2.93" fill="#dbc5fd"/><rect x="512.80" y="234.80" width="7.08" height="2.93" fill="#cbaefb"/><rect x="519.48" y="234.80" width="7.08" height="2.93" fill="#cbaefb"/><rect x="526.16" y="234.80" width="7.08" height="2.93" fill="#cbaefb"/><rect x="532.84" y="234.80" width="7.08" height="2.93" fill="#cbaefb"/><rect x="539.52" y="234.80" width="7.08" height="2.93" fill="#cbaefb"/><rect x="446.00" y="237.33" width="7.08" height="2.93" fill="#ff4d2e"/><rect x="452.68" y="237.33" width="7.08" height="2.93" fill="#ff5b3a"/><rect x="459.36" y="237.33" width="7.08" height="2.93" fill="#ff7352"/><rect x="466.04" y="237.33" width="7.08" height="2.93" fill="#ffe2d8"/><rect x="472.72" y="237.33" width="7.08" height="2.93" fill="#ffcfbf"/><rect x="479.40" y="237.33" width="7.08" height="2.93" fill="#dbc5fd"/><rect x="486.08" y="237.33" width="7.08" height="2.93" fill="#dbc5fd"/><rect x="492.76" y="237.33" width="7.08" height="2.93" fill="#dbc5fd"/><rect x="499.44" y="237.33" width="7.08" height="2.93" fill="#dbc5fd"/><rect x="506.12" y="237.33" width="7.08" height="2.93" fill="#dbc5fd"/><rect x="512.80" y="237.33" width="7.08" height="2.93" fill="#cbaefb"/><rect x="519.48" y="237.33" width="7.08" height="2.93" fill="#cbaefb"/><rect x="526.16" y="237.33" width="7.08" height="2.93" fill="#cbaefb"/><rect x="532.84" y="237.33" width="7.08" height="2.93" fill="#cbaefb"/><rect x="539.52" y="237.33" width="7.08" height="2.93" fill="#cbaefb"/><rect x="446.00" y="239.87" width="7.08" height="2.93" fill="#ff3e22"/><rect x="452.68" y="239.87" width="7.08" height="2.93" fill="#ff6846"/><rect x="459.36" y="239.87" width="7.08" height="2.93" fill="#ff6846"/><rect x="466.04" y="239.87" width="7.08" height="2.93" fill="#ffe2d8"/><rect x="472.72" y="239.87" width="7.08" height="2.93" fill="#ffece5"/><rect x="479.40" y="239.87" width="7.08" height="2.93" fill="#dbc5fd"/><rect x="486.08" y="239.87" width="7.08" height="2.93" fill="#dbc5fd"/><rect x="492.76" y="239.87" width="7.08" height="2.93" fill="#dbc5fd"/><rect x="499.44" y="239.87" width="7.08" height="2.93" fill="#dbc5fd"/><rect x="506.12" y="239.87" width="7.08" height="2.93" fill="#dbc5fd"/><rect x="512.80" y="239.87" width="7.08" height="2.93" fill="#cbaefb"/><rect x="519.48" y="239.87" width="7.08" height="2.93" fill="#cbaefb"/><rect x="526.16" y="239.87" width="7.08" height="2.93" fill="#cbaefb"/><rect x="532.84" y="239.87" width="7.08" height="2.93" fill="#cbaefb"/><rect x="539.52" y="239.87" width="7.08" height="2.93" fill="#cbaefb"/><rect x="446.00" y="242.40" width="7.08" height="2.93" fill="#ff4d2e"/><rect x="452.68" y="242.40" width="7.08" height="2.93" fill="#ff5b3a"/><rect x="459.36" y="242.40" width="7.08" height="2.93" fill="#ff7e5e"/><rect x="466.04" y="242.40" width="7.08" height="2.93" fill="#ffe2d8"/><rect x="472.72" y="242.40" width="7.08" height="2.93" fill="#ffe2d8"/><rect x="479.40" y="242.40" width="7.08" height="2.93" fill="#dbc5fd"/><rect x="486.08" y="242.40" width="7.08" height="2.93" fill="#dbc5fd"/><rect x="492.76" y="242.40" width="7.08" height="2.93" fill="#dbc5fd"/><rect x="499.44" y="242.40" width="7.08" height="2.93" fill="#dbc5fd"/><rect x="506.12" y="242.40" width="7.08" height="2.93" fill="#dbc5fd"/><rect x="512.80" y="242.40" width="7.08" height="2.93" fill="#cbaefb"/><rect x="519.48" y="242.40" width="7.08" height="2.93" fill="#cbaefb"/><rect x="526.16" y="242.40" width="7.08" height="2.93" fill="#cbaefb"/><rect x="532.84" y="242.40" width="7.08" height="2.93" fill="#cbaefb"/><rect x="539.52" y="242.40" width="7.08" height="2.93" fill="#cbaefb"/><rect x="446.00" y="244.93" width="7.08" height="2.93" fill="#ff3e22"/><rect x="452.68" y="244.93" width="7.08" height="2.93" fill="#ff6846"/><rect x="459.36" y="244.93" width="7.08" height="2.93" fill="#ff7352"/><rect x="466.04" y="244.93" width="7.08" height="2.93" fill="#ffd9cb"/><rect x="472.72" y="244.93" width="7.08" height="2.93" fill="#ffe2d8"/><rect x="479.40" y="244.93" width="7.08" height="2.93" fill="#dbc5fd"/><rect x="486.08" y="244.93" width="7.08" height="2.93" fill="#dbc5fd"/><rect x="492.76" y="244.93" width="7.08" height="2.93" fill="#dbc5fd"/><rect x="499.44" y="244.93" width="7.08" height="2.93" fill="#dbc5fd"/><rect x="506.12" y="244.93" width="7.08" height="2.93" fill="#dbc5fd"/><rect x="512.80" y="244.93" width="7.08" height="2.93" fill="#cbaefb"/><rect x="519.48" y="244.93" width="7.08" height="2.93" fill="#cbaefb"/><rect x="526.16" y="244.93" width="7.08" height="2.93" fill="#cbaefb"/><rect x="532.84" y="244.93" width="7.08" height="2.93" fill="#cbaefb"/><rect x="539.52" y="244.93" width="7.08" height="2.93" fill="#cbaefb"/><rect x="446.00" y="247.47" width="7.08" height="2.93" fill="#ff3e22"/><rect x="452.68" y="247.47" width="7.08" height="2.93" fill="#ff6846"/><rect x="459.36" y="247.47" width="7.08" height="2.93" fill="#ff7e5e"/><rect x="466.04" y="247.47" width="7.08" height="2.93" fill="#ffe2d8"/><rect x="472.72" y="247.47" width="7.08" height="2.93" fill="#ffcfbf"/><rect x="479.40" y="247.47" width="7.08" height="2.93" fill="#f2e7ff"/><rect x="486.08" y="247.47" width="7.08" height="2.93" fill="#e0cbfd"/><rect x="492.76" y="247.47" width="7.08" height="2.93" fill="#dbc5fd"/><rect x="499.44" y="247.47" width="7.08" height="2.93" fill="#dbc5fd"/><rect x="506.12" y="247.47" width="7.08" height="2.93" fill="#dbc5fd"/><rect x="512.80" y="247.47" width="7.08" height="2.93" fill="#cbaefb"/><rect x="519.48" y="247.47" width="7.08" height="2.93" fill="#cbaefb"/><rect x="526.16" y="247.47" width="7.08" height="2.93" fill="#cbaefb"/><rect x="532.84" y="247.47" width="7.08" height="2.93" fill="#cbaefb"/><rect x="539.52" y="247.47" width="7.08" height="2.93" fill="#cbaefb"/><rect x="446.00" y="250.00" width="7.08" height="2.93" fill="#ff2913"/><rect x="452.68" y="250.00" width="7.08" height="2.93" fill="#ff5b3a"/><rect x="459.36" y="250.00" width="7.08" height="2.93" fill="#ff7352"/><rect x="466.04" y="250.00" width="7.08" height="2.93" fill="#ffcfbf"/><rect x="472.72" y="250.00" width="7.08" height="2.93" fill="#ffd9cb"/><rect x="479.40" y="250.00" width="7.08" height="2.93" fill="#f2e7ff"/><rect x="486.08" y="250.00" width="7.08" height="2.93" fill="#ebdcfe"/><rect x="492.76" y="250.00" width="7.08" height="2.93" fill="#e0cbfd"/><rect x="499.44" y="250.00" width="7.08" height="2.93" fill="#dbc5fd"/><rect x="506.12" y="250.00" width="7.08" height="2.93" fill="#dbc5fd"/><rect x="512.80" y="250.00" width="7.08" height="2.93" fill="#bb99f8"/><rect x="519.48" y="250.00" width="7.08" height="2.93" fill="#bb99f8"/><rect x="526.16" y="250.00" width="7.08" height="2.93" fill="#bb99f8"/><rect x="532.84" y="250.00" width="7.08" height="2.93" fill="#bb99f8"/><rect x="539.52" y="250.00" width="7.08" height="2.93" fill="#bb99f8"/><rect x="446.00" y="252.53" width="7.08" height="2.93" fill="#ff3e22"/><rect x="452.68" y="252.53" width="7.08" height="2.93" fill="#ff6846"/><rect x="459.36" y="252.53" width="7.08" height="2.93" fill="#ff7e5e"/><rect x="466.04" y="252.53" width="7.08" height="2.93" fill="#ffc6b2"/><rect x="472.72" y="252.53" width="7.08" height="2.93" fill="#ffd9cb"/><rect x="479.40" y="252.53" width="7.08" height="2.93" fill="#dbc5fd"/><rect x="486.08" y="252.53" width="7.08" height="2.93" fill="#dbc5fd"/><rect x="492.76" y="252.53" width="7.08" height="2.93" fill="#dbc5fd"/><rect x="499.44" y="252.53" width="7.08" height="2.93" fill="#dbc5fd"/><rect x="506.12" y="252.53" width="7.08" height="2.93" fill="#dbc5fd"/><rect x="512.80" y="252.53" width="7.08" height="2.93" fill="#bb99f8"/><rect x="519.48" y="252.53" width="7.08" height="2.93" fill="#bb99f8"/><rect x="526.16" y="252.53" width="7.08" height="2.93" fill="#bb99f8"/><rect x="532.84" y="252.53" width="7.08" height="2.93" fill="#bb99f8"/><rect x="539.52" y="252.53" width="7.08" height="2.93" fill="#bb99f8"/><rect x="446.00" y="255.07" width="7.08" height="2.93" fill="#ff4d2e"/><rect x="452.68" y="255.07" width="7.08" height="2.93" fill="#ff0000"/><rect x="459.36" y="255.07" width="7.08" height="2.93" fill="#ff7e5e"/><rect x="466.04" y="255.07" width="7.08" height="2.93" fill="#ffb299"/><rect x="472.72" y="255.07" width="7.08" height="2.93" fill="#ffe2d8"/><rect x="479.40" y="255.07" width="7.08" height="2.93" fill="#dbc5fd"/><rect x="486.08" y="255.07" width="7.08" height="2.93" fill="#dbc5fd"/><rect x="492.76" y="255.07" width="7.08" height="2.93" fill="#dbc5fd"/><rect x="499.44" y="255.07" width="7.08" height="2.93" fill="#dbc5fd"/><rect x="506.12" y="255.07" width="7.08" height="2.93" fill="#dbc5fd"/><rect x="512.80" y="255.07" width="7.08" height="2.93" fill="#c7a9fa"/><rect x="519.48" y="255.07" width="7.08" height="2.93" fill="#c7a9fa"/><rect x="526.16" y="255.07" width="7.08" height="2.93" fill="#c7a9fa"/><rect x="532.84" y="255.07" width="7.08" height="2.93" fill="#c7a9fa"/><rect x="539.52" y="255.07" width="7.08" height="2.93" fill="#c7a9fa"/><rect x="549.0" y="227.20" width="6.9" height="2.93" fill="#FDBF6F"/><rect x="549.0" y="229.73" width="6.9" height="2.93" fill="#E31A1C"/><rect x="549.0" y="232.27" width="6.9" height="2.93" fill="#A6CEE3"/><rect x="549.0" y="234.80" width="6.9" height="2.93" fill="#E31A1C"/><rect x="549.0" y="237.33" width="6.9" height="2.93" fill="#A6CEE3"/><rect x="549.0" y="239.87" width="6.9" height="2.93" fill="#A6CEE3"/><rect x="549.0" y="242.40" width="6.9" height="2.93" fill="#E31A1C"/><rect x="549.0" y="244.93" width="6.9" height="2.93" fill="#E31A1C"/><rect x="549.0" y="247.47" width="6.9" height="2.93" fill="#E31A1C"/><rect x="549.0" y="250.00" width="6.9" height="2.93" fill="#E31A1C"/><rect x="549.0" y="252.53" width="6.9" height="2.93" fill="#E31A1C"/><rect x="549.0" y="255.07" width="6.9" height="2.93" fill="#E31A1C"/><rect x="558.5" y="227.20" width="6.9" height="2.93" fill="#FDBF6F"/><rect x="558.5" y="229.73" width="6.9" height="2.93" fill="#CAB2D6"/><rect x="558.5" y="232.27" width="6.9" height="2.93" fill="#FDBF6F"/><rect x="558.5" y="234.80" width="6.9" height="2.93" fill="#FDBF6F"/><rect x="558.5" y="237.33" width="6.9" height="2.93" fill="#A6CEE3"/><rect x="558.5" y="239.87" width="6.9" height="2.93" fill="#FDBF6F"/><rect x="558.5" y="242.40" width="6.9" height="2.93" fill="#1F78B4"/><rect x="558.5" y="244.93" width="6.9" height="2.93" fill="#FFFF99"/><rect x="558.5" y="247.47" width="6.9" height="2.93" fill="#FDBF6F"/><rect x="558.5" y="250.00" width="6.9" height="2.93" fill="#FFFF99"/><rect x="558.5" y="252.53" width="6.9" height="2.93" fill="#FFFF99"/><rect x="558.5" y="255.07" width="6.9" height="2.93" fill="#FDBF6F"/><rect x="568.0" y="227.20" width="6.9" height="2.93" fill="#1F78B4"/><rect x="568.0" y="229.73" width="6.9" height="2.93" fill="#FF7F00"/><rect x="568.0" y="232.27" width="6.9" height="2.93" fill="#6A3D9A"/><rect x="568.0" y="234.80" width="6.9" height="2.93" fill="#FDBF6F"/><rect x="568.0" y="237.33" width="6.9" height="2.93" fill="#A6CEE3"/><rect x="568.0" y="239.87" width="6.9" height="2.93" fill="#33A02C"/><rect x="568.0" y="242.40" width="6.9" height="2.93" fill="#E31A1C"/><rect x="568.0" y="244.93" width="6.9" height="2.93" fill="#FFFF99"/><rect x="568.0" y="247.47" width="6.9" height="2.93" fill="#CAB2D6"/><rect x="568.0" y="250.00" width="6.9" height="2.93" fill="#FFFF99"/><rect x="568.0" y="252.53" width="6.9" height="2.93" fill="#B2DF8A"/><rect x="568.0" y="255.07" width="6.9" height="2.93" fill="#CAB2D6"/><rect x="446.00" y="259.40" width="7.08" height="2.91" fill="#ff4528"/><rect x="452.68" y="259.40" width="7.08" height="2.91" fill="#ff6f4e"/><rect x="459.36" y="259.40" width="7.08" height="2.91" fill="#ff8a6a"/><rect x="466.04" y="259.40" width="7.08" height="2.91" fill="#ff8767"/><rect x="472.72" y="259.40" width="7.08" height="2.91" fill="#ff8f70"/><rect x="479.40" y="259.40" width="7.08" height="2.91" fill="#dec8fd"/><rect x="486.08" y="259.40" width="7.08" height="2.91" fill="#d3bafc"/><rect x="492.76" y="259.40" width="7.08" height="2.91" fill="#d6bdfc"/><rect x="499.44" y="259.40" width="7.08" height="2.91" fill="#ceb2fb"/><rect x="506.12" y="259.40" width="7.08" height="2.91" fill="#d7bffc"/><rect x="512.80" y="259.40" width="7.08" height="2.91" fill="#c5a6f9"/><rect x="519.48" y="259.40" width="7.08" height="2.91" fill="#c6a8fa"/><rect x="526.16" y="259.40" width="7.08" height="2.91" fill="#c5a6f9"/><rect x="532.84" y="259.40" width="7.08" height="2.91" fill="#c4a5f9"/><rect x="539.52" y="259.40" width="7.08" height="2.91" fill="#c6a8fa"/><rect x="446.00" y="261.91" width="7.08" height="2.91" fill="#ff5535"/><rect x="452.68" y="261.91" width="7.08" height="2.91" fill="#ff7958"/><rect x="459.36" y="261.91" width="7.08" height="2.91" fill="#ff7453"/><rect x="466.04" y="261.91" width="7.08" height="2.91" fill="#ff8767"/><rect x="472.72" y="261.91" width="7.08" height="2.91" fill="#ff9475"/><rect x="479.40" y="261.91" width="7.08" height="2.91" fill="#dec9fd"/><rect x="486.08" y="261.91" width="7.08" height="2.91" fill="#d3b9fc"/><rect x="492.76" y="261.91" width="7.08" height="2.91" fill="#cfb3fb"/><rect x="499.44" y="261.91" width="7.08" height="2.91" fill="#d2b8fc"/><rect x="506.12" y="261.91" width="7.08" height="2.91" fill="#d2b8fc"/><rect x="512.80" y="261.91" width="7.08" height="2.91" fill="#c4a5f9"/><rect x="519.48" y="261.91" width="7.08" height="2.91" fill="#c4a4f9"/><rect x="526.16" y="261.91" width="7.08" height="2.91" fill="#c7a9fa"/><rect x="532.84" y="261.91" width="7.08" height="2.91" fill="#c8aafa"/><rect x="539.52" y="261.91" width="7.08" height="2.91" fill="#c6a8fa"/><rect x="446.00" y="264.43" width="7.08" height="2.91" fill="#ff5d3c"/><rect x="452.68" y="264.43" width="7.08" height="2.91" fill="#ff7c5b"/><rect x="459.36" y="264.43" width="7.08" height="2.91" fill="#ff8e6e"/><rect x="466.04" y="264.43" width="7.08" height="2.91" fill="#ff8463"/><rect x="472.72" y="264.43" width="7.08" height="2.91" fill="#ff8363"/><rect x="479.40" y="264.43" width="7.08" height="2.91" fill="#d9c2fc"/><rect x="486.08" y="264.43" width="7.08" height="2.91" fill="#cfb4fb"/><rect x="492.76" y="264.43" width="7.08" height="2.91" fill="#d3b9fc"/><rect x="499.44" y="264.43" width="7.08" height="2.91" fill="#d2b9fc"/><rect x="506.12" y="264.43" width="7.08" height="2.91" fill="#d4bafc"/><rect x="512.80" y="264.43" width="7.08" height="2.91" fill="#c1a1f9"/><rect x="519.48" y="264.43" width="7.08" height="2.91" fill="#c2a2f9"/><rect x="526.16" y="264.43" width="7.08" height="2.91" fill="#c2a2f9"/><rect x="532.84" y="264.43" width="7.08" height="2.91" fill="#c09ff9"/><rect x="539.52" y="264.43" width="7.08" height="2.91" fill="#c4a5f9"/><rect x="446.00" y="266.94" width="7.08" height="2.91" fill="#ff603f"/><rect x="452.68" y="266.94" width="7.08" height="2.91" fill="#ff6847"/><rect x="459.36" y="266.94" width="7.08" height="2.91" fill="#ff7554"/><rect x="466.04" y="266.94" width="7.08" height="2.91" fill="#ff7856"/><rect x="472.72" y="266.94" width="7.08" height="2.91" fill="#ff805f"/><rect x="479.40" y="266.94" width="7.08" height="2.91" fill="#dfcafd"/><rect x="486.08" y="266.94" width="7.08" height="2.91" fill="#d0b5fb"/><rect x="492.76" y="266.94" width="7.08" height="2.91" fill="#d6befc"/><rect x="499.44" y="266.94" width="7.08" height="2.91" fill="#d6bdfc"/><rect x="506.12" y="266.94" width="7.08" height="2.91" fill="#cdb0fb"/><rect x="512.80" y="266.94" width="7.08" height="2.91" fill="#c7a9fa"/><rect x="519.48" y="266.94" width="7.08" height="2.91" fill="#c6a7fa"/><rect x="526.16" y="266.94" width="7.08" height="2.91" fill="#c8a9fa"/><rect x="532.84" y="266.94" width="7.08" height="2.91" fill="#c5a7fa"/><rect x="539.52" y="266.94" width="7.08" height="2.91" fill="#c6a8fa"/><rect x="446.00" y="269.46" width="7.08" height="2.91" fill="#ff6443"/><rect x="452.68" y="269.46" width="7.08" height="2.91" fill="#ff7453"/><rect x="459.36" y="269.46" width="7.08" height="2.91" fill="#ff8262"/><rect x="466.04" y="269.46" width="7.08" height="2.91" fill="#ff7b5a"/><rect x="472.72" y="269.46" width="7.08" height="2.91" fill="#ff8c6d"/><rect x="479.40" y="269.46" width="7.08" height="2.91" fill="#dfcafd"/><rect x="486.08" y="269.46" width="7.08" height="2.91" fill="#d5bdfc"/><rect x="492.76" y="269.46" width="7.08" height="2.91" fill="#d3b9fc"/><rect x="499.44" y="269.46" width="7.08" height="2.91" fill="#d5bdfc"/><rect x="506.12" y="269.46" width="7.08" height="2.91" fill="#d6bdfc"/><rect x="512.80" y="269.46" width="7.08" height="2.91" fill="#c9acfa"/><rect x="519.48" y="269.46" width="7.08" height="2.91" fill="#c3a3f9"/><rect x="526.16" y="269.46" width="7.08" height="2.91" fill="#c8a9fa"/><rect x="532.84" y="269.46" width="7.08" height="2.91" fill="#c7a9fa"/><rect x="539.52" y="269.46" width="7.08" height="2.91" fill="#c6a7fa"/><rect x="446.00" y="271.97" width="7.08" height="2.91" fill="#ff5333"/><rect x="452.68" y="271.97" width="7.08" height="2.91" fill="#ff9678"/><rect x="459.36" y="271.97" width="7.08" height="2.91" fill="#ff8666"/><rect x="466.04" y="271.97" width="7.08" height="2.91" fill="#ff7d5c"/><rect x="472.72" y="271.97" width="7.08" height="2.91" fill="#ffa488"/><rect x="479.40" y="271.97" width="7.08" height="2.91" fill="#d7c0fc"/><rect x="486.08" y="271.97" width="7.08" height="2.91" fill="#cdb0fb"/><rect x="492.76" y="271.97" width="7.08" height="2.91" fill="#d1b7fb"/><rect x="499.44" y="271.97" width="7.08" height="2.91" fill="#d5bdfc"/><rect x="506.12" y="271.97" width="7.08" height="2.91" fill="#d5bdfc"/><rect x="512.80" y="271.97" width="7.08" height="2.91" fill="#bf9ff9"/><rect x="519.48" y="271.97" width="7.08" height="2.91" fill="#c2a2f9"/><rect x="526.16" y="271.97" width="7.08" height="2.91" fill="#c5a6f9"/><rect x="532.84" y="271.97" width="7.08" height="2.91" fill="#c6a8fa"/><rect x="539.52" y="271.97" width="7.08" height="2.91" fill="#c4a5f9"/><rect x="446.00" y="274.48" width="7.08" height="2.91" fill="#ff5f3e"/><rect x="452.68" y="274.48" width="7.08" height="2.91" fill="#ff8565"/><rect x="459.36" y="274.48" width="7.08" height="2.91" fill="#ff8d6d"/><rect x="466.04" y="274.48" width="7.08" height="2.91" fill="#ff9374"/><rect x="472.72" y="274.48" width="7.08" height="2.91" fill="#ff8b6b"/><rect x="479.40" y="274.48" width="7.08" height="2.91" fill="#d9c3fd"/><rect x="486.08" y="274.48" width="7.08" height="2.91" fill="#d1b6fb"/><rect x="492.76" y="274.48" width="7.08" height="2.91" fill="#d0b5fb"/><rect x="499.44" y="274.48" width="7.08" height="2.91" fill="#cdb1fb"/><rect x="506.12" y="274.48" width="7.08" height="2.91" fill="#ceb2fb"/><rect x="512.80" y="274.48" width="7.08" height="2.91" fill="#c6a8fa"/><rect x="519.48" y="274.48" width="7.08" height="2.91" fill="#c3a4f9"/><rect x="526.16" y="274.48" width="7.08" height="2.91" fill="#c1a1f9"/><rect x="532.84" y="274.48" width="7.08" height="2.91" fill="#c6a8fa"/><rect x="539.52" y="274.48" width="7.08" height="2.91" fill="#c5a6f9"/><rect x="446.00" y="277.00" width="7.08" height="2.91" fill="#ff4225"/><rect x="452.68" y="277.00" width="7.08" height="2.91" fill="#ff7150"/><rect x="459.36" y="277.00" width="7.08" height="2.91" fill="#ff8362"/><rect x="466.04" y="277.00" width="7.08" height="2.91" fill="#ff603f"/><rect x="472.72" y="277.00" width="7.08" height="2.91" fill="#ff5434"/><rect x="479.40" y="277.00" width="7.08" height="2.91" fill="#dbc5fd"/><rect x="486.08" y="277.00" width="7.08" height="2.91" fill="#d4bbfc"/><rect x="492.76" y="277.00" width="7.08" height="2.91" fill="#d8c1fc"/><rect x="499.44" y="277.00" width="7.08" height="2.91" fill="#d4bafc"/><rect x="506.12" y="277.00" width="7.08" height="2.91" fill="#d4bbfc"/><rect x="512.80" y="277.00" width="7.08" height="2.91" fill="#c9abfa"/><rect x="519.48" y="277.00" width="7.08" height="2.91" fill="#caacfa"/><rect x="526.16" y="277.00" width="7.08" height="2.91" fill="#ccaffb"/><rect x="532.84" y="277.00" width="7.08" height="2.91" fill="#c9acfa"/><rect x="539.52" y="277.00" width="7.08" height="2.91" fill="#cbaefb"/><rect x="446.00" y="279.51" width="7.08" height="2.91" fill="#ff5b3a"/><rect x="452.68" y="279.51" width="7.08" height="2.91" fill="#ff9b7e"/><rect x="459.36" y="279.51" width="7.08" height="2.91" fill="#ff987a"/><rect x="466.04" y="279.51" width="7.08" height="2.91" fill="#ff7e5d"/><rect x="472.72" y="279.51" width="7.08" height="2.91" fill="#ff9475"/><rect x="479.40" y="279.51" width="7.08" height="2.91" fill="#dac4fd"/><rect x="486.08" y="279.51" width="7.08" height="2.91" fill="#d3b9fc"/><rect x="492.76" y="279.51" width="7.08" height="2.91" fill="#d5bdfc"/><rect x="499.44" y="279.51" width="7.08" height="2.91" fill="#d4bbfc"/><rect x="506.12" y="279.51" width="7.08" height="2.91" fill="#d3b9fc"/><rect x="512.80" y="279.51" width="7.08" height="2.91" fill="#c4a5f9"/><rect x="519.48" y="279.51" width="7.08" height="2.91" fill="#c3a4f9"/><rect x="526.16" y="279.51" width="7.08" height="2.91" fill="#c3a4f9"/><rect x="532.84" y="279.51" width="7.08" height="2.91" fill="#c3a4f9"/><rect x="539.52" y="279.51" width="7.08" height="2.91" fill="#c2a2f9"/><rect x="446.00" y="282.03" width="7.08" height="2.91" fill="#ff6241"/><rect x="452.68" y="282.03" width="7.08" height="2.91" fill="#ff8060"/><rect x="459.36" y="282.03" width="7.08" height="2.91" fill="#ff8c6d"/><rect x="466.04" y="282.03" width="7.08" height="2.91" fill="#ff9e82"/><rect x="472.72" y="282.03" width="7.08" height="2.91" fill="#ff8f70"/><rect x="479.40" y="282.03" width="7.08" height="2.91" fill="#d9c2fc"/><rect x="486.08" y="282.03" width="7.08" height="2.91" fill="#d4bbfc"/><rect x="492.76" y="282.03" width="7.08" height="2.91" fill="#d3b9fc"/><rect x="499.44" y="282.03" width="7.08" height="2.91" fill="#cfb3fb"/><rect x="506.12" y="282.03" width="7.08" height="2.91" fill="#cdb1fb"/><rect x="512.80" y="282.03" width="7.08" height="2.91" fill="#c8aafa"/><rect x="519.48" y="282.03" width="7.08" height="2.91" fill="#c6a8fa"/><rect x="526.16" y="282.03" width="7.08" height="2.91" fill="#c8aafa"/><rect x="532.84" y="282.03" width="7.08" height="2.91" fill="#c9aafa"/><rect x="539.52" y="282.03" width="7.08" height="2.91" fill="#c3a3f9"/><rect x="446.00" y="284.54" width="7.08" height="2.91" fill="#ff5031"/><rect x="452.68" y="284.54" width="7.08" height="2.91" fill="#ff7453"/><rect x="459.36" y="284.54" width="7.08" height="2.91" fill="#ff7a59"/><rect x="466.04" y="284.54" width="7.08" height="2.91" fill="#ff7e5d"/><rect x="472.72" y="284.54" width="7.08" height="2.91" fill="#ff8464"/><rect x="479.40" y="284.54" width="7.08" height="2.91" fill="#d5bcfc"/><rect x="486.08" y="284.54" width="7.08" height="2.91" fill="#d2b8fc"/><rect x="492.76" y="284.54" width="7.08" height="2.91" fill="#d0b5fb"/><rect x="499.44" y="284.54" width="7.08" height="2.91" fill="#d3b9fc"/><rect x="506.12" y="284.54" width="7.08" height="2.91" fill="#cfb4fb"/><rect x="512.80" y="284.54" width="7.08" height="2.91" fill="#c7a9fa"/><rect x="519.48" y="284.54" width="7.08" height="2.91" fill="#c8a9fa"/><rect x="526.16" y="284.54" width="7.08" height="2.91" fill="#c7a9fa"/><rect x="532.84" y="284.54" width="7.08" height="2.91" fill="#c7a9fa"/><rect x="539.52" y="284.54" width="7.08" height="2.91" fill="#c6a8fa"/><rect x="446.00" y="287.05" width="7.08" height="2.91" fill="#ff6241"/><rect x="452.68" y="287.05" width="7.08" height="2.91" fill="#ff8868"/><rect x="459.36" y="287.05" width="7.08" height="2.91" fill="#ff8363"/><rect x="466.04" y="287.05" width="7.08" height="2.91" fill="#ff8868"/><rect x="472.72" y="287.05" width="7.08" height="2.91" fill="#ff8666"/><rect x="479.40" y="287.05" width="7.08" height="2.91" fill="#d4bafc"/><rect x="486.08" y="287.05" width="7.08" height="2.91" fill="#d4bafc"/><rect x="492.76" y="287.05" width="7.08" height="2.91" fill="#ceb3fb"/><rect x="499.44" y="287.05" width="7.08" height="2.91" fill="#ceb3fb"/><rect x="506.12" y="287.05" width="7.08" height="2.91" fill="#cfb3fb"/><rect x="512.80" y="287.05" width="7.08" height="2.91" fill="#c3a4f9"/><rect x="519.48" y="287.05" width="7.08" height="2.91" fill="#c5a7fa"/><rect x="526.16" y="287.05" width="7.08" height="2.91" fill="#c3a4f9"/><rect x="532.84" y="287.05" width="7.08" height="2.91" fill="#c2a3f9"/><rect x="539.52" y="287.05" width="7.08" height="2.91" fill="#c3a3f9"/><rect x="446.00" y="289.57" width="7.08" height="2.91" fill="#ff4c2d"/><rect x="452.68" y="289.57" width="7.08" height="2.91" fill="#ff8160"/><rect x="459.36" y="289.57" width="7.08" height="2.91" fill="#ff7857"/><rect x="466.04" y="289.57" width="7.08" height="2.91" fill="#ff8b6b"/><rect x="472.72" y="289.57" width="7.08" height="2.91" fill="#ff6746"/><rect x="479.40" y="289.57" width="7.08" height="2.91" fill="#d6befc"/><rect x="486.08" y="289.57" width="7.08" height="2.91" fill="#d5bdfc"/><rect x="492.76" y="289.57" width="7.08" height="2.91" fill="#d6bdfc"/><rect x="499.44" y="289.57" width="7.08" height="2.91" fill="#cfb4fb"/><rect x="506.12" y="289.57" width="7.08" height="2.91" fill="#d3bafc"/><rect x="512.80" y="289.57" width="7.08" height="2.91" fill="#caadfa"/><rect x="519.48" y="289.57" width="7.08" height="2.91" fill="#c9abfa"/><rect x="526.16" y="289.57" width="7.08" height="2.91" fill="#c9aafa"/><rect x="532.84" y="289.57" width="7.08" height="2.91" fill="#caacfa"/><rect x="539.52" y="289.57" width="7.08" height="2.91" fill="#c8aafa"/><rect x="446.00" y="292.08" width="7.08" height="2.91" fill="#ff5939"/><rect x="452.68" y="292.08" width="7.08" height="2.91" fill="#ff7452"/><rect x="459.36" y="292.08" width="7.08" height="2.91" fill="#ff8c6d"/><rect x="466.04" y="292.08" width="7.08" height="2.91" fill="#ff7756"/><rect x="472.72" y="292.08" width="7.08" height="2.91" fill="#ff8c6d"/><rect x="479.40" y="292.08" width="7.08" height="2.91" fill="#d5bdfc"/><rect x="486.08" y="292.08" width="7.08" height="2.91" fill="#d3bafc"/><rect x="492.76" y="292.08" width="7.08" height="2.91" fill="#d7c0fc"/><rect x="499.44" y="292.08" width="7.08" height="2.91" fill="#d5bcfc"/><rect x="506.12" y="292.08" width="7.08" height="2.91" fill="#cfb3fb"/><rect x="512.80" y="292.08" width="7.08" height="2.91" fill="#c8a9fa"/><rect x="519.48" y="292.08" width="7.08" height="2.91" fill="#c5a7fa"/><rect x="526.16" y="292.08" width="7.08" height="2.91" fill="#c6a8fa"/><rect x="532.84" y="292.08" width="7.08" height="2.91" fill="#c6a8fa"/><rect x="539.52" y="292.08" width="7.08" height="2.91" fill="#c1a1f9"/><rect x="446.00" y="294.60" width="7.08" height="2.91" fill="#ff6746"/><rect x="452.68" y="294.60" width="7.08" height="2.91" fill="#ff8565"/><rect x="459.36" y="294.60" width="7.08" height="2.91" fill="#ff9375"/><rect x="466.04" y="294.60" width="7.08" height="2.91" fill="#ff9475"/><rect x="472.72" y="294.60" width="7.08" height="2.91" fill="#ff9274"/><rect x="479.40" y="294.60" width="7.08" height="2.91" fill="#dbc5fd"/><rect x="486.08" y="294.60" width="7.08" height="2.91" fill="#d7bffc"/><rect x="492.76" y="294.60" width="7.08" height="2.91" fill="#d1b7fb"/><rect x="499.44" y="294.60" width="7.08" height="2.91" fill="#d5bcfc"/><rect x="506.12" y="294.60" width="7.08" height="2.91" fill="#cfb4fb"/><rect x="512.80" y="294.60" width="7.08" height="2.91" fill="#c2a2f9"/><rect x="519.48" y="294.60" width="7.08" height="2.91" fill="#c6a8fa"/><rect x="526.16" y="294.60" width="7.08" height="2.91" fill="#c7a9fa"/><rect x="532.84" y="294.60" width="7.08" height="2.91" fill="#c5a7fa"/><rect x="539.52" y="294.60" width="7.08" height="2.91" fill="#c7a9fa"/><rect x="446.00" y="297.11" width="7.08" height="2.91" fill="#ff6140"/><rect x="452.68" y="297.11" width="7.08" height="2.91" fill="#ff8b6b"/><rect x="459.36" y="297.11" width="7.08" height="2.91" fill="#ff8261"/><rect x="466.04" y="297.11" width="7.08" height="2.91" fill="#ff8161"/><rect x="472.72" y="297.11" width="7.08" height="2.91" fill="#ff8869"/><rect x="479.40" y="297.11" width="7.08" height="2.91" fill="#dcc6fd"/><rect x="486.08" y="297.11" width="7.08" height="2.91" fill="#d7c0fc"/><rect x="492.76" y="297.11" width="7.08" height="2.91" fill="#d1b6fb"/><rect x="499.44" y="297.11" width="7.08" height="2.91" fill="#d4bbfc"/><rect x="506.12" y="297.11" width="7.08" height="2.91" fill="#d3bafc"/><rect x="512.80" y="297.11" width="7.08" height="2.91" fill="#c8aafa"/><rect x="519.48" y="297.11" width="7.08" height="2.91" fill="#c9abfa"/><rect x="526.16" y="297.11" width="7.08" height="2.91" fill="#c6a8fa"/><rect x="532.84" y="297.11" width="7.08" height="2.91" fill="#c8aafa"/><rect x="539.52" y="297.11" width="7.08" height="2.91" fill="#cbaefb"/><rect x="446.00" y="299.62" width="7.08" height="2.91" fill="#ff5c3b"/><rect x="452.68" y="299.62" width="7.08" height="2.91" fill="#ff704e"/><rect x="459.36" y="299.62" width="7.08" height="2.91" fill="#ff6d4c"/><rect x="466.04" y="299.62" width="7.08" height="2.91" fill="#ff7857"/><rect x="472.72" y="299.62" width="7.08" height="2.91" fill="#ff8969"/><rect x="479.40" y="299.62" width="7.08" height="2.91" fill="#dec9fd"/><rect x="486.08" y="299.62" width="7.08" height="2.91" fill="#ceb3fb"/><rect x="492.76" y="299.62" width="7.08" height="2.91" fill="#d4bbfc"/><rect x="499.44" y="299.62" width="7.08" height="2.91" fill="#d2b8fc"/><rect x="506.12" y="299.62" width="7.08" height="2.91" fill="#cdb1fb"/><rect x="512.80" y="299.62" width="7.08" height="2.91" fill="#caacfa"/><rect x="519.48" y="299.62" width="7.08" height="2.91" fill="#c8aafa"/><rect x="526.16" y="299.62" width="7.08" height="2.91" fill="#c5a6fa"/><rect x="532.84" y="299.62" width="7.08" height="2.91" fill="#c9aafa"/><rect x="539.52" y="299.62" width="7.08" height="2.91" fill="#c6a8fa"/><rect x="446.00" y="302.14" width="7.08" height="2.91" fill="#ff7655"/><rect x="452.68" y="302.14" width="7.08" height="2.91" fill="#ff8c6c"/><rect x="459.36" y="302.14" width="7.08" height="2.91" fill="#ff8d6d"/><rect x="466.04" y="302.14" width="7.08" height="2.91" fill="#ff9273"/><rect x="472.72" y="302.14" width="7.08" height="2.91" fill="#ff997b"/><rect x="479.40" y="302.14" width="7.08" height="2.91" fill="#d5bcfc"/><rect x="486.08" y="302.14" width="7.08" height="2.91" fill="#ccb0fb"/><rect x="492.76" y="302.14" width="7.08" height="2.91" fill="#d1b6fb"/><rect x="499.44" y="302.14" width="7.08" height="2.91" fill="#ceb1fb"/><rect x="506.12" y="302.14" width="7.08" height="2.91" fill="#ccb0fb"/><rect x="512.80" y="302.14" width="7.08" height="2.91" fill="#c3a4f9"/><rect x="519.48" y="302.14" width="7.08" height="2.91" fill="#c09ff9"/><rect x="526.16" y="302.14" width="7.08" height="2.91" fill="#c0a0f9"/><rect x="532.84" y="302.14" width="7.08" height="2.91" fill="#c5a7fa"/><rect x="539.52" y="302.14" width="7.08" height="2.91" fill="#c3a3f9"/><rect x="446.00" y="304.65" width="7.08" height="2.91" fill="#ff5939"/><rect x="452.68" y="304.65" width="7.08" height="2.91" fill="#ff8767"/><rect x="459.36" y="304.65" width="7.08" height="2.91" fill="#ff8363"/><rect x="466.04" y="304.65" width="7.08" height="2.91" fill="#ff8e6f"/><rect x="472.72" y="304.65" width="7.08" height="2.91" fill="#ff8869"/><rect x="479.40" y="304.65" width="7.08" height="2.91" fill="#d1b7fb"/><rect x="486.08" y="304.65" width="7.08" height="2.91" fill="#d4bbfc"/><rect x="492.76" y="304.65" width="7.08" height="2.91" fill="#ceb3fb"/><rect x="499.44" y="304.65" width="7.08" height="2.91" fill="#cbaefb"/><rect x="506.12" y="304.65" width="7.08" height="2.91" fill="#ceb2fb"/><rect x="512.80" y="304.65" width="7.08" height="2.91" fill="#c4a6f9"/><rect x="519.48" y="304.65" width="7.08" height="2.91" fill="#c6a7fa"/><rect x="526.16" y="304.65" width="7.08" height="2.91" fill="#c3a3f9"/><rect x="532.84" y="304.65" width="7.08" height="2.91" fill="#c6a8fa"/><rect x="539.52" y="304.65" width="7.08" height="2.91" fill="#cdb0fb"/><rect x="446.00" y="307.17" width="7.08" height="2.91" fill="#ff6342"/><rect x="452.68" y="307.17" width="7.08" height="2.91" fill="#ff8d6e"/><rect x="459.36" y="307.17" width="7.08" height="2.91" fill="#ff8c6d"/><rect x="466.04" y="307.17" width="7.08" height="2.91" fill="#ffa387"/><rect x="472.72" y="307.17" width="7.08" height="2.91" fill="#ffa185"/><rect x="479.40" y="307.17" width="7.08" height="2.91" fill="#d6bdfc"/><rect x="486.08" y="307.17" width="7.08" height="2.91" fill="#ceb2fb"/><rect x="492.76" y="307.17" width="7.08" height="2.91" fill="#d3bafc"/><rect x="499.44" y="307.17" width="7.08" height="2.91" fill="#ccaffb"/><rect x="506.12" y="307.17" width="7.08" height="2.91" fill="#cdb1fb"/><rect x="512.80" y="307.17" width="7.08" height="2.91" fill="#c9abfa"/><rect x="519.48" y="307.17" width="7.08" height="2.91" fill="#c2a2f9"/><rect x="526.16" y="307.17" width="7.08" height="2.91" fill="#c1a1f9"/><rect x="532.84" y="307.17" width="7.08" height="2.91" fill="#c3a4f9"/><rect x="539.52" y="307.17" width="7.08" height="2.91" fill="#c3a4f9"/><rect x="446.00" y="309.68" width="7.08" height="2.91" fill="#ff5030"/><rect x="452.68" y="309.68" width="7.08" height="2.91" fill="#ff805f"/><rect x="459.36" y="309.68" width="7.08" height="2.91" fill="#ff7a59"/><rect x="466.04" y="309.68" width="7.08" height="2.91" fill="#ff5a39"/><rect x="472.72" y="309.68" width="7.08" height="2.91" fill="#ff7251"/><rect x="479.40" y="309.68" width="7.08" height="2.91" fill="#cfb4fb"/><rect x="486.08" y="309.68" width="7.08" height="2.91" fill="#d1b7fb"/><rect x="492.76" y="309.68" width="7.08" height="2.91" fill="#cfb4fb"/><rect x="499.44" y="309.68" width="7.08" height="2.91" fill="#d4bbfc"/><rect x="506.12" y="309.68" width="7.08" height="2.91" fill="#d0b5fb"/><rect x="512.80" y="309.68" width="7.08" height="2.91" fill="#cbaffb"/><rect x="519.48" y="309.68" width="7.08" height="2.91" fill="#c9acfa"/><rect x="526.16" y="309.68" width="7.08" height="2.91" fill="#c9acfa"/><rect x="532.84" y="309.68" width="7.08" height="2.91" fill="#c8aafa"/><rect x="539.52" y="309.68" width="7.08" height="2.91" fill="#c7a9fa"/><rect x="446.00" y="312.19" width="7.08" height="2.91" fill="#ff4326"/><rect x="452.68" y="312.19" width="7.08" height="2.91" fill="#ff7554"/><rect x="459.36" y="312.19" width="7.08" height="2.91" fill="#ff8565"/><rect x="466.04" y="312.19" width="7.08" height="2.91" fill="#ff7150"/><rect x="472.72" y="312.19" width="7.08" height="2.91" fill="#ff8464"/><rect x="479.40" y="312.19" width="7.08" height="2.91" fill="#d7bffc"/><rect x="486.08" y="312.19" width="7.08" height="2.91" fill="#ceb2fb"/><rect x="492.76" y="312.19" width="7.08" height="2.91" fill="#cfb3fb"/><rect x="499.44" y="312.19" width="7.08" height="2.91" fill="#cfb3fb"/><rect x="506.12" y="312.19" width="7.08" height="2.91" fill="#c6a8fa"/><rect x="512.80" y="312.19" width="7.08" height="2.91" fill="#c9abfa"/><rect x="519.48" y="312.19" width="7.08" height="2.91" fill="#c8a9fa"/><rect x="526.16" y="312.19" width="7.08" height="2.91" fill="#c6a8fa"/><rect x="532.84" y="312.19" width="7.08" height="2.91" fill="#c9abfa"/><rect x="539.52" y="312.19" width="7.08" height="2.91" fill="#c8a9fa"/><rect x="446.00" y="314.71" width="7.08" height="2.91" fill="#ff7857"/><rect x="452.68" y="314.71" width="7.08" height="2.91" fill="#ff7e5d"/><rect x="459.36" y="314.71" width="7.08" height="2.91" fill="#ff7a59"/><rect x="466.04" y="314.71" width="7.08" height="2.91" fill="#ff6d4b"/><rect x="472.72" y="314.71" width="7.08" height="2.91" fill="#ff704e"/><rect x="479.40" y="314.71" width="7.08" height="2.91" fill="#dbc5fd"/><rect x="486.08" y="314.71" width="7.08" height="2.91" fill="#cdb1fb"/><rect x="492.76" y="314.71" width="7.08" height="2.91" fill="#caacfa"/><rect x="499.44" y="314.71" width="7.08" height="2.91" fill="#d2b9fc"/><rect x="506.12" y="314.71" width="7.08" height="2.91" fill="#cfb4fb"/><rect x="512.80" y="314.71" width="7.08" height="2.91" fill="#c9abfa"/><rect x="519.48" y="314.71" width="7.08" height="2.91" fill="#c6a8fa"/><rect x="526.16" y="314.71" width="7.08" height="2.91" fill="#c7a8fa"/><rect x="532.84" y="314.71" width="7.08" height="2.91" fill="#c4a5f9"/><rect x="539.52" y="314.71" width="7.08" height="2.91" fill="#c8a9fa"/><rect x="446.00" y="317.22" width="7.08" height="2.91" fill="#ff5b3a"/><rect x="452.68" y="317.22" width="7.08" height="2.91" fill="#ff7d5c"/><rect x="459.36" y="317.22" width="7.08" height="2.91" fill="#ff8969"/><rect x="466.04" y="317.22" width="7.08" height="2.91" fill="#ff8464"/><rect x="472.72" y="317.22" width="7.08" height="2.91" fill="#ff8d6e"/><rect x="479.40" y="317.22" width="7.08" height="2.91" fill="#d7c0fc"/><rect x="486.08" y="317.22" width="7.08" height="2.91" fill="#d0b6fb"/><rect x="492.76" y="317.22" width="7.08" height="2.91" fill="#cdb1fb"/><rect x="499.44" y="317.22" width="7.08" height="2.91" fill="#cdb1fb"/><rect x="506.12" y="317.22" width="7.08" height="2.91" fill="#d3b9fc"/><rect x="512.80" y="317.22" width="7.08" height="2.91" fill="#c5a6fa"/><rect x="519.48" y="317.22" width="7.08" height="2.91" fill="#c7a8fa"/><rect x="526.16" y="317.22" width="7.08" height="2.91" fill="#c6a8fa"/><rect x="532.84" y="317.22" width="7.08" height="2.91" fill="#c4a5f9"/><rect x="539.52" y="317.22" width="7.08" height="2.91" fill="#c4a5f9"/><rect x="446.00" y="319.74" width="7.08" height="2.91" fill="#ff5636"/><rect x="452.68" y="319.74" width="7.08" height="2.91" fill="#ff7655"/><rect x="459.36" y="319.74" width="7.08" height="2.91" fill="#ff9273"/><rect x="466.04" y="319.74" width="7.08" height="2.91" fill="#ff8a6a"/><rect x="472.72" y="319.74" width="7.08" height="2.91" fill="#ff896a"/><rect x="479.40" y="319.74" width="7.08" height="2.91" fill="#dbc5fd"/><rect x="486.08" y="319.74" width="7.08" height="2.91" fill="#c8aafa"/><rect x="492.76" y="319.74" width="7.08" height="2.91" fill="#d1b7fb"/><rect x="499.44" y="319.74" width="7.08" height="2.91" fill="#ceb2fb"/><rect x="506.12" y="319.74" width="7.08" height="2.91" fill="#d0b4fb"/><rect x="512.80" y="319.74" width="7.08" height="2.91" fill="#c5a7fa"/><rect x="519.48" y="319.74" width="7.08" height="2.91" fill="#c7a8fa"/><rect x="526.16" y="319.74" width="7.08" height="2.91" fill="#caacfa"/><rect x="532.84" y="319.74" width="7.08" height="2.91" fill="#c7a9fa"/><rect x="539.52" y="319.74" width="7.08" height="2.91" fill="#c7a9fa"/><rect x="446.00" y="322.25" width="7.08" height="2.91" fill="#ff6241"/><rect x="452.68" y="322.25" width="7.08" height="2.91" fill="#ff7453"/><rect x="459.36" y="322.25" width="7.08" height="2.91" fill="#ff8363"/><rect x="466.04" y="322.25" width="7.08" height="2.91" fill="#ff8a6b"/><rect x="472.72" y="322.25" width="7.08" height="2.91" fill="#ff8666"/><rect x="479.40" y="322.25" width="7.08" height="2.91" fill="#d5bdfc"/><rect x="486.08" y="322.25" width="7.08" height="2.91" fill="#d3b9fc"/><rect x="492.76" y="322.25" width="7.08" height="2.91" fill="#d0b5fb"/><rect x="499.44" y="322.25" width="7.08" height="2.91" fill="#ceb3fb"/><rect x="506.12" y="322.25" width="7.08" height="2.91" fill="#d3bafc"/><rect x="512.80" y="322.25" width="7.08" height="2.91" fill="#c9abfa"/><rect x="519.48" y="322.25" width="7.08" height="2.91" fill="#c9acfa"/><rect x="526.16" y="322.25" width="7.08" height="2.91" fill="#c8aafa"/><rect x="532.84" y="322.25" width="7.08" height="2.91" fill="#c7a9fa"/><rect x="539.52" y="322.25" width="7.08" height="2.91" fill="#c6a8fa"/><rect x="446.00" y="324.76" width="7.08" height="2.91" fill="#ff5030"/><rect x="452.68" y="324.76" width="7.08" height="2.91" fill="#ff805f"/><rect x="459.36" y="324.76" width="7.08" height="2.91" fill="#ff977a"/><rect x="466.04" y="324.76" width="7.08" height="2.91" fill="#ff8767"/><rect x="472.72" y="324.76" width="7.08" height="2.91" fill="#ff9c7f"/><rect x="479.40" y="324.76" width="7.08" height="2.91" fill="#d5bcfc"/><rect x="486.08" y="324.76" width="7.08" height="2.91" fill="#cbaefb"/><rect x="492.76" y="324.76" width="7.08" height="2.91" fill="#cbadfa"/><rect x="499.44" y="324.76" width="7.08" height="2.91" fill="#cfb4fb"/><rect x="506.12" y="324.76" width="7.08" height="2.91" fill="#cdb1fb"/><rect x="512.80" y="324.76" width="7.08" height="2.91" fill="#c2a3f9"/><rect x="519.48" y="324.76" width="7.08" height="2.91" fill="#c7a8fa"/><rect x="526.16" y="324.76" width="7.08" height="2.91" fill="#caacfa"/><rect x="532.84" y="324.76" width="7.08" height="2.91" fill="#c3a3f9"/><rect x="539.52" y="324.76" width="7.08" height="2.91" fill="#c9acfa"/><rect x="446.00" y="327.28" width="7.08" height="2.91" fill="#ff6947"/><rect x="452.68" y="327.28" width="7.08" height="2.91" fill="#ff8766"/><rect x="459.36" y="327.28" width="7.08" height="2.91" fill="#ff9a7d"/><rect x="466.04" y="327.28" width="7.08" height="2.91" fill="#ff7a59"/><rect x="472.72" y="327.28" width="7.08" height="2.91" fill="#ff896a"/><rect x="479.40" y="327.28" width="7.08" height="2.91" fill="#d1b7fb"/><rect x="486.08" y="327.28" width="7.08" height="2.91" fill="#cdb1fb"/><rect x="492.76" y="327.28" width="7.08" height="2.91" fill="#c9abfa"/><rect x="499.44" y="327.28" width="7.08" height="2.91" fill="#cdb0fb"/><rect x="506.12" y="327.28" width="7.08" height="2.91" fill="#cfb4fb"/><rect x="512.80" y="327.28" width="7.08" height="2.91" fill="#c1a1f9"/><rect x="519.48" y="327.28" width="7.08" height="2.91" fill="#c4a5f9"/><rect x="526.16" y="327.28" width="7.08" height="2.91" fill="#c5a7fa"/><rect x="532.84" y="327.28" width="7.08" height="2.91" fill="#c7a9fa"/><rect x="539.52" y="327.28" width="7.08" height="2.91" fill="#c8a9fa"/><rect x="446.00" y="329.79" width="7.08" height="2.91" fill="#ff6a48"/><rect x="452.68" y="329.79" width="7.08" height="2.91" fill="#ff7d5c"/><rect x="459.36" y="329.79" width="7.08" height="2.91" fill="#ff8c6d"/><rect x="466.04" y="329.79" width="7.08" height="2.91" fill="#ff8b6c"/><rect x="472.72" y="329.79" width="7.08" height="2.91" fill="#ff8060"/><rect x="479.40" y="329.79" width="7.08" height="2.91" fill="#d9c2fc"/><rect x="486.08" y="329.79" width="7.08" height="2.91" fill="#cfb3fb"/><rect x="492.76" y="329.79" width="7.08" height="2.91" fill="#cdb1fb"/><rect x="499.44" y="329.79" width="7.08" height="2.91" fill="#d0b5fb"/><rect x="506.12" y="329.79" width="7.08" height="2.91" fill="#c6a8fa"/><rect x="512.80" y="329.79" width="7.08" height="2.91" fill="#c5a7fa"/><rect x="519.48" y="329.79" width="7.08" height="2.91" fill="#c3a4f9"/><rect x="526.16" y="329.79" width="7.08" height="2.91" fill="#caadfa"/><rect x="532.84" y="329.79" width="7.08" height="2.91" fill="#c7a9fa"/><rect x="539.52" y="329.79" width="7.08" height="2.91" fill="#c6a7fa"/><rect x="446.00" y="332.31" width="7.08" height="2.91" fill="#ff7e5d"/><rect x="452.68" y="332.31" width="7.08" height="2.91" fill="#ff7756"/><rect x="459.36" y="332.31" width="7.08" height="2.91" fill="#ff7250"/><rect x="466.04" y="332.31" width="7.08" height="2.91" fill="#ff8e6f"/><rect x="472.72" y="332.31" width="7.08" height="2.91" fill="#ff8362"/><rect x="479.40" y="332.31" width="7.08" height="2.91" fill="#d6befc"/><rect x="486.08" y="332.31" width="7.08" height="2.91" fill="#c9acfa"/><rect x="492.76" y="332.31" width="7.08" height="2.91" fill="#d1b7fb"/><rect x="499.44" y="332.31" width="7.08" height="2.91" fill="#d3b9fc"/><rect x="506.12" y="332.31" width="7.08" height="2.91" fill="#ceb1fb"/><rect x="512.80" y="332.31" width="7.08" height="2.91" fill="#c6a8fa"/><rect x="519.48" y="332.31" width="7.08" height="2.91" fill="#c8a9fa"/><rect x="526.16" y="332.31" width="7.08" height="2.91" fill="#c3a3f9"/><rect x="532.84" y="332.31" width="7.08" height="2.91" fill="#c6a8fa"/><rect x="539.52" y="332.31" width="7.08" height="2.91" fill="#c8aafa"/><rect x="446.00" y="334.82" width="7.08" height="2.91" fill="#ff5a39"/><rect x="452.68" y="334.82" width="7.08" height="2.91" fill="#ff8e6f"/><rect x="459.36" y="334.82" width="7.08" height="2.91" fill="#ffa68b"/><rect x="466.04" y="334.82" width="7.08" height="2.91" fill="#ff9071"/><rect x="472.72" y="334.82" width="7.08" height="2.91" fill="#ff9f82"/><rect x="479.40" y="334.82" width="7.08" height="2.91" fill="#d3b9fc"/><rect x="486.08" y="334.82" width="7.08" height="2.91" fill="#c8aafa"/><rect x="492.76" y="334.82" width="7.08" height="2.91" fill="#d0b4fb"/><rect x="499.44" y="334.82" width="7.08" height="2.91" fill="#caacfa"/><rect x="506.12" y="334.82" width="7.08" height="2.91" fill="#ccaffb"/><rect x="512.80" y="334.82" width="7.08" height="2.91" fill="#c3a3f9"/><rect x="519.48" y="334.82" width="7.08" height="2.91" fill="#c3a4f9"/><rect x="526.16" y="334.82" width="7.08" height="2.91" fill="#c6a8fa"/><rect x="532.84" y="334.82" width="7.08" height="2.91" fill="#c4a6f9"/><rect x="539.52" y="334.82" width="7.08" height="2.91" fill="#c3a4f9"/><rect x="446.00" y="337.33" width="7.08" height="2.91" fill="#ff5737"/><rect x="452.68" y="337.33" width="7.08" height="2.91" fill="#ff8160"/><rect x="459.36" y="337.33" width="7.08" height="2.91" fill="#ff9274"/><rect x="466.04" y="337.33" width="7.08" height="2.91" fill="#ff8c6c"/><rect x="472.72" y="337.33" width="7.08" height="2.91" fill="#ff9f83"/><rect x="479.40" y="337.33" width="7.08" height="2.91" fill="#ceb3fb"/><rect x="486.08" y="337.33" width="7.08" height="2.91" fill="#c9acfa"/><rect x="492.76" y="337.33" width="7.08" height="2.91" fill="#cdb1fb"/><rect x="499.44" y="337.33" width="7.08" height="2.91" fill="#cdb1fb"/><rect x="506.12" y="337.33" width="7.08" height="2.91" fill="#c8aafa"/><rect x="512.80" y="337.33" width="7.08" height="2.91" fill="#c5a7fa"/><rect x="519.48" y="337.33" width="7.08" height="2.91" fill="#c6a7fa"/><rect x="526.16" y="337.33" width="7.08" height="2.91" fill="#c4a5f9"/><rect x="532.84" y="337.33" width="7.08" height="2.91" fill="#c6a8fa"/><rect x="539.52" y="337.33" width="7.08" height="2.91" fill="#c3a4f9"/><rect x="446.00" y="339.85" width="7.08" height="2.91" fill="#ff5535"/><rect x="452.68" y="339.85" width="7.08" height="2.91" fill="#ff805f"/><rect x="459.36" y="339.85" width="7.08" height="2.91" fill="#ff7b5a"/><rect x="466.04" y="339.85" width="7.08" height="2.91" fill="#ff9375"/><rect x="472.72" y="339.85" width="7.08" height="2.91" fill="#ff7958"/><rect x="479.40" y="339.85" width="7.08" height="2.91" fill="#d1b6fb"/><rect x="486.08" y="339.85" width="7.08" height="2.91" fill="#ceb2fb"/><rect x="492.76" y="339.85" width="7.08" height="2.91" fill="#caacfa"/><rect x="499.44" y="339.85" width="7.08" height="2.91" fill="#d0b5fb"/><rect x="506.12" y="339.85" width="7.08" height="2.91" fill="#d1b6fb"/><rect x="512.80" y="339.85" width="7.08" height="2.91" fill="#c8aafa"/><rect x="519.48" y="339.85" width="7.08" height="2.91" fill="#c8aafa"/><rect x="526.16" y="339.85" width="7.08" height="2.91" fill="#c3a4f9"/><rect x="532.84" y="339.85" width="7.08" height="2.91" fill="#c5a6f9"/><rect x="539.52" y="339.85" width="7.08" height="2.91" fill="#c5a7fa"/><rect x="446.00" y="342.36" width="7.08" height="2.91" fill="#ff5535"/><rect x="452.68" y="342.36" width="7.08" height="2.91" fill="#ff8464"/><rect x="459.36" y="342.36" width="7.08" height="2.91" fill="#ff8c6d"/><rect x="466.04" y="342.36" width="7.08" height="2.91" fill="#ff8666"/><rect x="472.72" y="342.36" width="7.08" height="2.91" fill="#ff9c7f"/><rect x="479.40" y="342.36" width="7.08" height="2.91" fill="#cfb3fb"/><rect x="486.08" y="342.36" width="7.08" height="2.91" fill="#caacfa"/><rect x="492.76" y="342.36" width="7.08" height="2.91" fill="#ceb2fb"/><rect x="499.44" y="342.36" width="7.08" height="2.91" fill="#cdb1fb"/><rect x="506.12" y="342.36" width="7.08" height="2.91" fill="#cdb0fb"/><rect x="512.80" y="342.36" width="7.08" height="2.91" fill="#c7a9fa"/><rect x="519.48" y="342.36" width="7.08" height="2.91" fill="#c2a2f9"/><rect x="526.16" y="342.36" width="7.08" height="2.91" fill="#c4a4f9"/><rect x="532.84" y="342.36" width="7.08" height="2.91" fill="#c5a6fa"/><rect x="539.52" y="342.36" width="7.08" height="2.91" fill="#c2a2f9"/><rect x="446.00" y="344.88" width="7.08" height="2.91" fill="#ff5232"/><rect x="452.68" y="344.88" width="7.08" height="2.91" fill="#ff7654"/><rect x="459.36" y="344.88" width="7.08" height="2.91" fill="#ff7c5b"/><rect x="466.04" y="344.88" width="7.08" height="2.91" fill="#ff8868"/><rect x="472.72" y="344.88" width="7.08" height="2.91" fill="#ff9071"/><rect x="479.40" y="344.88" width="7.08" height="2.91" fill="#d6bdfc"/><rect x="486.08" y="344.88" width="7.08" height="2.91" fill="#ccaffb"/><rect x="492.76" y="344.88" width="7.08" height="2.91" fill="#ceb2fb"/><rect x="499.44" y="344.88" width="7.08" height="2.91" fill="#d1b7fb"/><rect x="506.12" y="344.88" width="7.08" height="2.91" fill="#caadfa"/><rect x="512.80" y="344.88" width="7.08" height="2.91" fill="#c4a5f9"/><rect x="519.48" y="344.88" width="7.08" height="2.91" fill="#c6a7fa"/><rect x="526.16" y="344.88" width="7.08" height="2.91" fill="#c7a9fa"/><rect x="532.84" y="344.88" width="7.08" height="2.91" fill="#c7a9fa"/><rect x="539.52" y="344.88" width="7.08" height="2.91" fill="#c6a8fa"/><rect x="446.00" y="347.39" width="7.08" height="2.91" fill="#ff6b4a"/><rect x="452.68" y="347.39" width="7.08" height="2.91" fill="#ff8464"/><rect x="459.36" y="347.39" width="7.08" height="2.91" fill="#ff7d5c"/><rect x="466.04" y="347.39" width="7.08" height="2.91" fill="#ff8a6a"/><rect x="472.72" y="347.39" width="7.08" height="2.91" fill="#ff9476"/><rect x="479.40" y="347.39" width="7.08" height="2.91" fill="#d0b5fb"/><rect x="486.08" y="347.39" width="7.08" height="2.91" fill="#ccaffb"/><rect x="492.76" y="347.39" width="7.08" height="2.91" fill="#ceb3fb"/><rect x="499.44" y="347.39" width="7.08" height="2.91" fill="#ccaffb"/><rect x="506.12" y="347.39" width="7.08" height="2.91" fill="#ceb2fb"/><rect x="512.80" y="347.39" width="7.08" height="2.91" fill="#cbaefb"/><rect x="519.48" y="347.39" width="7.08" height="2.91" fill="#c7a9fa"/><rect x="526.16" y="347.39" width="7.08" height="2.91" fill="#caadfa"/><rect x="532.84" y="347.39" width="7.08" height="2.91" fill="#c8aafa"/><rect x="539.52" y="347.39" width="7.08" height="2.91" fill="#c5a7fa"/><rect x="446.00" y="349.90" width="7.08" height="2.91" fill="#ff6b4a"/><rect x="452.68" y="349.90" width="7.08" height="2.91" fill="#ff7756"/><rect x="459.36" y="349.90" width="7.08" height="2.91" fill="#ff9375"/><rect x="466.04" y="349.90" width="7.08" height="2.91" fill="#ff7655"/><rect x="472.72" y="349.90" width="7.08" height="2.91" fill="#ff8564"/><rect x="479.40" y="349.90" width="7.08" height="2.91" fill="#ccaffb"/><rect x="486.08" y="349.90" width="7.08" height="2.91" fill="#d0b5fb"/><rect x="492.76" y="349.90" width="7.08" height="2.91" fill="#d2b8fc"/><rect x="499.44" y="349.90" width="7.08" height="2.91" fill="#cbadfa"/><rect x="506.12" y="349.90" width="7.08" height="2.91" fill="#cfb3fb"/><rect x="512.80" y="349.90" width="7.08" height="2.91" fill="#c2a3f9"/><rect x="519.48" y="349.90" width="7.08" height="2.91" fill="#c7a9fa"/><rect x="526.16" y="349.90" width="7.08" height="2.91" fill="#c3a3f9"/><rect x="532.84" y="349.90" width="7.08" height="2.91" fill="#c7a8fa"/><rect x="539.52" y="349.90" width="7.08" height="2.91" fill="#c2a3f9"/><rect x="446.00" y="352.42" width="7.08" height="2.91" fill="#ff6f4e"/><rect x="452.68" y="352.42" width="7.08" height="2.91" fill="#ff7a59"/><rect x="459.36" y="352.42" width="7.08" height="2.91" fill="#ffa184"/><rect x="466.04" y="352.42" width="7.08" height="2.91" fill="#ff9072"/><rect x="472.72" y="352.42" width="7.08" height="2.91" fill="#ff9e81"/><rect x="479.40" y="352.42" width="7.08" height="2.91" fill="#ccb0fb"/><rect x="486.08" y="352.42" width="7.08" height="2.91" fill="#caadfa"/><rect x="492.76" y="352.42" width="7.08" height="2.91" fill="#ceb2fb"/><rect x="499.44" y="352.42" width="7.08" height="2.91" fill="#c4a6f9"/><rect x="506.12" y="352.42" width="7.08" height="2.91" fill="#c9aafa"/><rect x="512.80" y="352.42" width="7.08" height="2.91" fill="#c2a3f9"/><rect x="519.48" y="352.42" width="7.08" height="2.91" fill="#be9ef8"/><rect x="526.16" y="352.42" width="7.08" height="2.91" fill="#c5a6f9"/><rect x="532.84" y="352.42" width="7.08" height="2.91" fill="#c6a7fa"/><rect x="539.52" y="352.42" width="7.08" height="2.91" fill="#bf9ff9"/><rect x="446.00" y="354.93" width="7.08" height="2.91" fill="#ff4729"/><rect x="452.68" y="354.93" width="7.08" height="2.91" fill="#ff714f"/><rect x="459.36" y="354.93" width="7.08" height="2.91" fill="#ff6140"/><rect x="466.04" y="354.93" width="7.08" height="2.91" fill="#ff7250"/><rect x="472.72" y="354.93" width="7.08" height="2.91" fill="#ff7655"/><rect x="479.40" y="354.93" width="7.08" height="2.91" fill="#dac4fd"/><rect x="486.08" y="354.93" width="7.08" height="2.91" fill="#d5bcfc"/><rect x="492.76" y="354.93" width="7.08" height="2.91" fill="#d3bafc"/><rect x="499.44" y="354.93" width="7.08" height="2.91" fill="#ccb0fb"/><rect x="506.12" y="354.93" width="7.08" height="2.91" fill="#caacfa"/><rect x="512.80" y="354.93" width="7.08" height="2.91" fill="#ccb0fb"/><rect x="519.48" y="354.93" width="7.08" height="2.91" fill="#c8aafa"/><rect x="526.16" y="354.93" width="7.08" height="2.91" fill="#caadfa"/><rect x="532.84" y="354.93" width="7.08" height="2.91" fill="#c8aafa"/><rect x="539.52" y="354.93" width="7.08" height="2.91" fill="#caacfa"/><rect x="446.00" y="357.45" width="7.08" height="2.91" fill="#ff5131"/><rect x="452.68" y="357.45" width="7.08" height="2.91" fill="#ff9577"/><rect x="459.36" y="357.45" width="7.08" height="2.91" fill="#ff9071"/><rect x="466.04" y="357.45" width="7.08" height="2.91" fill="#ff9172"/><rect x="472.72" y="357.45" width="7.08" height="2.91" fill="#ff8666"/><rect x="479.40" y="357.45" width="7.08" height="2.91" fill="#cbaefb"/><rect x="486.08" y="357.45" width="7.08" height="2.91" fill="#cbadfa"/><rect x="492.76" y="357.45" width="7.08" height="2.91" fill="#caacfa"/><rect x="499.44" y="357.45" width="7.08" height="2.91" fill="#ccb0fb"/><rect x="506.12" y="357.45" width="7.08" height="2.91" fill="#cbadfa"/><rect x="512.80" y="357.45" width="7.08" height="2.91" fill="#c3a4f9"/><rect x="519.48" y="357.45" width="7.08" height="2.91" fill="#c5a6f9"/><rect x="526.16" y="357.45" width="7.08" height="2.91" fill="#c4a4f9"/><rect x="532.84" y="357.45" width="7.08" height="2.91" fill="#c5a7fa"/><rect x="539.52" y="357.45" width="7.08" height="2.91" fill="#c4a5f9"/><rect x="446.00" y="359.96" width="7.08" height="2.91" fill="#ff6241"/><rect x="452.68" y="359.96" width="7.08" height="2.91" fill="#ff805f"/><rect x="459.36" y="359.96" width="7.08" height="2.91" fill="#ff6e4c"/><rect x="466.04" y="359.96" width="7.08" height="2.91" fill="#ff8f70"/><rect x="472.72" y="359.96" width="7.08" height="2.91" fill="#ff8b6c"/><rect x="479.40" y="359.96" width="7.08" height="2.91" fill="#d5bdfc"/><rect x="486.08" y="359.96" width="7.08" height="2.91" fill="#c5a6fa"/><rect x="492.76" y="359.96" width="7.08" height="2.91" fill="#c6a8fa"/><rect x="499.44" y="359.96" width="7.08" height="2.91" fill="#c8a9fa"/><rect x="506.12" y="359.96" width="7.08" height="2.91" fill="#caacfa"/><rect x="512.80" y="359.96" width="7.08" height="2.91" fill="#cbadfa"/><rect x="519.48" y="359.96" width="7.08" height="2.91" fill="#c6a8fa"/><rect x="526.16" y="359.96" width="7.08" height="2.91" fill="#c8aafa"/><rect x="532.84" y="359.96" width="7.08" height="2.91" fill="#c5a7fa"/><rect x="539.52" y="359.96" width="7.08" height="2.91" fill="#c0a0f9"/><rect x="446.00" y="362.47" width="7.08" height="2.91" fill="#ff6443"/><rect x="452.68" y="362.47" width="7.08" height="2.91" fill="#ff9071"/><rect x="459.36" y="362.47" width="7.08" height="2.91" fill="#ffa68b"/><rect x="466.04" y="362.47" width="7.08" height="2.91" fill="#ff8b6b"/><rect x="472.72" y="362.47" width="7.08" height="2.91" fill="#ffad94"/><rect x="479.40" y="362.47" width="7.08" height="2.91" fill="#d1b6fb"/><rect x="486.08" y="362.47" width="7.08" height="2.91" fill="#cdb1fb"/><rect x="492.76" y="362.47" width="7.08" height="2.91" fill="#c6a8fa"/><rect x="499.44" y="362.47" width="7.08" height="2.91" fill="#c5a6f9"/><rect x="506.12" y="362.47" width="7.08" height="2.91" fill="#caacfa"/><rect x="512.80" y="362.47" width="7.08" height="2.91" fill="#c0a0f9"/><rect x="519.48" y="362.47" width="7.08" height="2.91" fill="#c4a5f9"/><rect x="526.16" y="362.47" width="7.08" height="2.91" fill="#c09ff9"/><rect x="532.84" y="362.47" width="7.08" height="2.91" fill="#c4a5f9"/><rect x="539.52" y="362.47" width="7.08" height="2.91" fill="#c3a3f9"/><rect x="446.00" y="364.99" width="7.08" height="2.91" fill="#ff6c4a"/><rect x="452.68" y="364.99" width="7.08" height="2.91" fill="#ff7f5f"/><rect x="459.36" y="364.99" width="7.08" height="2.91" fill="#ff9d80"/><rect x="466.04" y="364.99" width="7.08" height="2.91" fill="#ff8b6b"/><rect x="472.72" y="364.99" width="7.08" height="2.91" fill="#ff9173"/><rect x="479.40" y="364.99" width="7.08" height="2.91" fill="#d3b9fc"/><rect x="486.08" y="364.99" width="7.08" height="2.91" fill="#c8a9fa"/><rect x="492.76" y="364.99" width="7.08" height="2.91" fill="#d1b7fb"/><rect x="499.44" y="364.99" width="7.08" height="2.91" fill="#cbaefb"/><rect x="506.12" y="364.99" width="7.08" height="2.91" fill="#c7a9fa"/><rect x="512.80" y="364.99" width="7.08" height="2.91" fill="#c9abfa"/><rect x="519.48" y="364.99" width="7.08" height="2.91" fill="#caacfa"/><rect x="526.16" y="364.99" width="7.08" height="2.91" fill="#c6a7fa"/><rect x="532.84" y="364.99" width="7.08" height="2.91" fill="#c4a5f9"/><rect x="539.52" y="364.99" width="7.08" height="2.91" fill="#c6a8fa"/><rect x="446.00" y="367.50" width="7.08" height="2.91" fill="#ff6645"/><rect x="452.68" y="367.50" width="7.08" height="2.91" fill="#ff7150"/><rect x="459.36" y="367.50" width="7.08" height="2.91" fill="#ff8565"/><rect x="466.04" y="367.50" width="7.08" height="2.91" fill="#ff8868"/><rect x="472.72" y="367.50" width="7.08" height="2.91" fill="#ff8b6b"/><rect x="479.40" y="367.50" width="7.08" height="2.91" fill="#d0b4fb"/><rect x="486.08" y="367.50" width="7.08" height="2.91" fill="#ceb2fb"/><rect x="492.76" y="367.50" width="7.08" height="2.91" fill="#ceb2fb"/><rect x="499.44" y="367.50" width="7.08" height="2.91" fill="#caacfa"/><rect x="506.12" y="367.50" width="7.08" height="2.91" fill="#caacfa"/><rect x="512.80" y="367.50" width="7.08" height="2.91" fill="#cbadfa"/><rect x="519.48" y="367.50" width="7.08" height="2.91" fill="#c7a9fa"/><rect x="526.16" y="367.50" width="7.08" height="2.91" fill="#c5a7fa"/><rect x="532.84" y="367.50" width="7.08" height="2.91" fill="#caacfa"/><rect x="539.52" y="367.50" width="7.08" height="2.91" fill="#c6a7fa"/><rect x="446.00" y="370.02" width="7.08" height="2.91" fill="#ff5d3c"/><rect x="452.68" y="370.02" width="7.08" height="2.91" fill="#ff9274"/><rect x="459.36" y="370.02" width="7.08" height="2.91" fill="#ff9374"/><rect x="466.04" y="370.02" width="7.08" height="2.91" fill="#ff896a"/><rect x="472.72" y="370.02" width="7.08" height="2.91" fill="#ff9475"/><rect x="479.40" y="370.02" width="7.08" height="2.91" fill="#ccb0fb"/><rect x="486.08" y="370.02" width="7.08" height="2.91" fill="#c9aafa"/><rect x="492.76" y="370.02" width="7.08" height="2.91" fill="#c8aafa"/><rect x="499.44" y="370.02" width="7.08" height="2.91" fill="#ceb2fb"/><rect x="506.12" y="370.02" width="7.08" height="2.91" fill="#c6a8fa"/><rect x="512.80" y="370.02" width="7.08" height="2.91" fill="#c4a5f9"/><rect x="519.48" y="370.02" width="7.08" height="2.91" fill="#c9abfa"/><rect x="526.16" y="370.02" width="7.08" height="2.91" fill="#c4a5f9"/><rect x="532.84" y="370.02" width="7.08" height="2.91" fill="#c8aafa"/><rect x="539.52" y="370.02" width="7.08" height="2.91" fill="#c8a9fa"/><rect x="446.00" y="372.53" width="7.08" height="2.91" fill="#ff704e"/><rect x="452.68" y="372.53" width="7.08" height="2.91" fill="#ff7a59"/><rect x="459.36" y="372.53" width="7.08" height="2.91" fill="#ff7d5c"/><rect x="466.04" y="372.53" width="7.08" height="2.91" fill="#ff7a58"/><rect x="472.72" y="372.53" width="7.08" height="2.91" fill="#ff8a6a"/><rect x="479.40" y="372.53" width="7.08" height="2.91" fill="#d4bbfc"/><rect x="486.08" y="372.53" width="7.08" height="2.91" fill="#d0b6fb"/><rect x="492.76" y="372.53" width="7.08" height="2.91" fill="#c9aafa"/><rect x="499.44" y="372.53" width="7.08" height="2.91" fill="#d1b6fb"/><rect x="506.12" y="372.53" width="7.08" height="2.91" fill="#cbaefb"/><rect x="512.80" y="372.53" width="7.08" height="2.91" fill="#c6a7fa"/><rect x="519.48" y="372.53" width="7.08" height="2.91" fill="#c6a8fa"/><rect x="526.16" y="372.53" width="7.08" height="2.91" fill="#cbadfa"/><rect x="532.84" y="372.53" width="7.08" height="2.91" fill="#c9abfa"/><rect x="539.52" y="372.53" width="7.08" height="2.91" fill="#c3a4f9"/><rect x="446.00" y="375.04" width="7.08" height="2.91" fill="#ff5c3b"/><rect x="452.68" y="375.04" width="7.08" height="2.91" fill="#ff805f"/><rect x="459.36" y="375.04" width="7.08" height="2.91" fill="#ff8969"/><rect x="466.04" y="375.04" width="7.08" height="2.91" fill="#ff9476"/><rect x="472.72" y="375.04" width="7.08" height="2.91" fill="#ff7e5d"/><rect x="479.40" y="375.04" width="7.08" height="2.91" fill="#ceb1fb"/><rect x="486.08" y="375.04" width="7.08" height="2.91" fill="#cbaefb"/><rect x="492.76" y="375.04" width="7.08" height="2.91" fill="#caadfa"/><rect x="499.44" y="375.04" width="7.08" height="2.91" fill="#caacfa"/><rect x="506.12" y="375.04" width="7.08" height="2.91" fill="#cdb1fb"/><rect x="512.80" y="375.04" width="7.08" height="2.91" fill="#c8aafa"/><rect x="519.48" y="375.04" width="7.08" height="2.91" fill="#c6a8fa"/><rect x="526.16" y="375.04" width="7.08" height="2.91" fill="#c5a7fa"/><rect x="532.84" y="375.04" width="7.08" height="2.91" fill="#c6a8fa"/><rect x="539.52" y="375.04" width="7.08" height="2.91" fill="#c9abfa"/><rect x="446.00" y="377.56" width="7.08" height="2.91" fill="#ff5636"/><rect x="452.68" y="377.56" width="7.08" height="2.91" fill="#ff8161"/><rect x="459.36" y="377.56" width="7.08" height="2.91" fill="#ff8666"/><rect x="466.04" y="377.56" width="7.08" height="2.91" fill="#ff8060"/><rect x="472.72" y="377.56" width="7.08" height="2.91" fill="#ff9d80"/><rect x="479.40" y="377.56" width="7.08" height="2.91" fill="#d5bdfc"/><rect x="486.08" y="377.56" width="7.08" height="2.91" fill="#caacfa"/><rect x="492.76" y="377.56" width="7.08" height="2.91" fill="#caadfa"/><rect x="499.44" y="377.56" width="7.08" height="2.91" fill="#d0b6fb"/><rect x="506.12" y="377.56" width="7.08" height="2.91" fill="#cbaefb"/><rect x="512.80" y="377.56" width="7.08" height="2.91" fill="#c8a9fa"/><rect x="519.48" y="377.56" width="7.08" height="2.91" fill="#c6a8fa"/><rect x="526.16" y="377.56" width="7.08" height="2.91" fill="#c4a5f9"/><rect x="532.84" y="377.56" width="7.08" height="2.91" fill="#c8a9fa"/><rect x="539.52" y="377.56" width="7.08" height="2.91" fill="#caacfa"/><rect x="446.00" y="380.07" width="7.08" height="2.91" fill="#ff5131"/><rect x="452.68" y="380.07" width="7.08" height="2.91" fill="#ff9375"/><rect x="459.36" y="380.07" width="7.08" height="2.91" fill="#ff9476"/><rect x="466.04" y="380.07" width="7.08" height="2.91" fill="#ff8665"/><rect x="472.72" y="380.07" width="7.08" height="2.91" fill="#ff9172"/><rect x="479.40" y="380.07" width="7.08" height="2.91" fill="#d0b6fb"/><rect x="486.08" y="380.07" width="7.08" height="2.91" fill="#c8a9fa"/><rect x="492.76" y="380.07" width="7.08" height="2.91" fill="#c7a9fa"/><rect x="499.44" y="380.07" width="7.08" height="2.91" fill="#c4a5f9"/><rect x="506.12" y="380.07" width="7.08" height="2.91" fill="#c4a6f9"/><rect x="512.80" y="380.07" width="7.08" height="2.91" fill="#c3a4f9"/><rect x="519.48" y="380.07" width="7.08" height="2.91" fill="#c3a3f9"/><rect x="526.16" y="380.07" width="7.08" height="2.91" fill="#c6a8fa"/><rect x="532.84" y="380.07" width="7.08" height="2.91" fill="#c4a5f9"/><rect x="539.52" y="380.07" width="7.08" height="2.91" fill="#c1a1f9"/><rect x="446.00" y="382.59" width="7.08" height="2.91" fill="#ff4c2d"/><rect x="452.68" y="382.59" width="7.08" height="2.91" fill="#ff7857"/><rect x="459.36" y="382.59" width="7.08" height="2.91" fill="#ff5d3c"/><rect x="466.04" y="382.59" width="7.08" height="2.91" fill="#ff5e3d"/><rect x="472.72" y="382.59" width="7.08" height="2.91" fill="#ff8161"/><rect x="479.40" y="382.59" width="7.08" height="2.91" fill="#d0b5fb"/><rect x="486.08" y="382.59" width="7.08" height="2.91" fill="#cdb1fb"/><rect x="492.76" y="382.59" width="7.08" height="2.91" fill="#d4bbfc"/><rect x="499.44" y="382.59" width="7.08" height="2.91" fill="#cfb4fb"/><rect x="506.12" y="382.59" width="7.08" height="2.91" fill="#ccb0fb"/><rect x="512.80" y="382.59" width="7.08" height="2.91" fill="#ccaffb"/><rect x="519.48" y="382.59" width="7.08" height="2.91" fill="#cfb3fb"/><rect x="526.16" y="382.59" width="7.08" height="2.91" fill="#c9abfa"/><rect x="532.84" y="382.59" width="7.08" height="2.91" fill="#cbaefb"/><rect x="539.52" y="382.59" width="7.08" height="2.91" fill="#c9acfa"/><rect x="549.0" y="259.40" width="6.9" height="2.91" fill="#E31A1C"/><rect x="549.0" y="261.91" width="6.9" height="2.91" fill="#FDBF6F"/><rect x="549.0" y="264.43" width="6.9" height="2.91" fill="#A6CEE3"/><rect x="549.0" y="266.94" width="6.9" height="2.91" fill="#A6CEE3"/><rect x="549.0" y="269.46" width="6.9" height="2.91" fill="#A6CEE3"/><rect x="549.0" y="271.97" width="6.9" height="2.91" fill="#A6CEE3"/><rect x="549.0" y="274.48" width="6.9" height="2.91" fill="#A6CEE3"/><rect x="549.0" y="277.00" width="6.9" height="2.91" fill="#FDBF6F"/><rect x="549.0" y="279.51" width="6.9" height="2.91" fill="#A6CEE3"/><rect x="549.0" y="282.03" width="6.9" height="2.91" fill="#B2DF8A"/><rect x="549.0" y="284.54" width="6.9" height="2.91" fill="#E31A1C"/><rect x="549.0" y="287.05" width="6.9" height="2.91" fill="#A6CEE3"/><rect x="549.0" y="289.57" width="6.9" height="2.91" fill="#A6CEE3"/><rect x="549.0" y="292.08" width="6.9" height="2.91" fill="#E31A1C"/><rect x="549.0" y="294.60" width="6.9" height="2.91" fill="#A6CEE3"/><rect x="549.0" y="297.11" width="6.9" height="2.91" fill="#E31A1C"/><rect x="549.0" y="299.62" width="6.9" height="2.91" fill="#33A02C"/><rect x="549.0" y="302.14" width="6.9" height="2.91" fill="#A6CEE3"/><rect x="549.0" y="304.65" width="6.9" height="2.91" fill="#FDBF6F"/><rect x="549.0" y="307.17" width="6.9" height="2.91" fill="#E31A1C"/><rect x="549.0" y="309.68" width="6.9" height="2.91" fill="#E31A1C"/><rect x="549.0" y="312.19" width="6.9" height="2.91" fill="#FDBF6F"/><rect x="549.0" y="314.71" width="6.9" height="2.91" fill="#E31A1C"/><rect x="549.0" y="317.22" width="6.9" height="2.91" fill="#A6CEE3"/><rect x="549.0" y="319.74" width="6.9" height="2.91" fill="#B2DF8A"/><rect x="549.0" y="322.25" width="6.9" height="2.91" fill="#33A02C"/><rect x="549.0" y="324.76" width="6.9" height="2.91" fill="#FDBF6F"/><rect x="549.0" y="327.28" width="6.9" height="2.91" fill="#33A02C"/><rect x="549.0" y="329.79" width="6.9" height="2.91" fill="#A6CEE3"/><rect x="549.0" y="332.31" width="6.9" height="2.91" fill="#E31A1C"/><rect x="549.0" y="334.82" width="6.9" height="2.91" fill="#FDBF6F"/><rect x="549.0" y="337.33" width="6.9" height="2.91" fill="#FF7F00"/><rect x="549.0" y="339.85" width="6.9" height="2.91" fill="#33A02C"/><rect x="549.0" y="342.36" width="6.9" height="2.91" fill="#33A02C"/><rect x="549.0" y="344.88" width="6.9" height="2.91" fill="#33A02C"/><rect x="549.0" y="347.39" width="6.9" height="2.91" fill="#FDBF6F"/><rect x="549.0" y="349.90" width="6.9" height="2.91" fill="#FDBF6F"/><rect x="549.0" y="352.42" width="6.9" height="2.91" fill="#A6CEE3"/><rect x="549.0" y="354.93" width="6.9" height="2.91" fill="#A6CEE3"/><rect x="549.0" y="357.45" width="6.9" height="2.91" fill="#B2DF8A"/><rect x="549.0" y="359.96" width="6.9" height="2.91" fill="#FDBF6F"/><rect x="549.0" y="362.47" width="6.9" height="2.91" fill="#33A02C"/><rect x="549.0" y="364.99" width="6.9" height="2.91" fill="#33A02C"/><rect x="549.0" y="367.50" width="6.9" height="2.91" fill="#33A02C"/><rect x="549.0" y="370.02" width="6.9" height="2.91" fill="#33A02C"/><rect x="549.0" y="372.53" width="6.9" height="2.91" fill="#33A02C"/><rect x="549.0" y="375.04" width="6.9" height="2.91" fill="#33A02C"/><rect x="549.0" y="377.56" width="6.9" height="2.91" fill="#E31A1C"/><rect x="549.0" y="380.07" width="6.9" height="2.91" fill="#FF7F00"/><rect x="549.0" y="382.59" width="6.9" height="2.91" fill="#33A02C"/><rect x="558.5" y="259.40" width="6.9" height="2.91" fill="#FDBF6F"/><rect x="558.5" y="261.91" width="6.9" height="2.91" fill="#FDBF6F"/><rect x="558.5" y="264.43" width="6.9" height="2.91" fill="#FDBF6F"/><rect x="558.5" y="266.94" width="6.9" height="2.91" fill="#B2DF8A"/><rect x="558.5" y="269.46" width="6.9" height="2.91" fill="#A6CEE3"/><rect x="558.5" y="271.97" width="6.9" height="2.91" fill="#CAB2D6"/><rect x="558.5" y="274.48" width="6.9" height="2.91" fill="#FF7F00"/><rect x="558.5" y="277.00" width="6.9" height="2.91" fill="#FDBF6F"/><rect x="558.5" y="279.51" width="6.9" height="2.91" fill="#A6CEE3"/><rect x="558.5" y="282.03" width="6.9" height="2.91" fill="#1F78B4"/><rect x="558.5" y="284.54" width="6.9" height="2.91" fill="#CAB2D6"/><rect x="558.5" y="287.05" width="6.9" height="2.91" fill="#A6CEE3"/><rect x="558.5" y="289.57" width="6.9" height="2.91" fill="#FDBF6F"/><rect x="558.5" y="292.08" width="6.9" height="2.91" fill="#33A02C"/><rect x="558.5" y="294.60" width="6.9" height="2.91" fill="#CAB2D6"/><rect x="558.5" y="297.11" width="6.9" height="2.91" fill="#FDBF6F"/><rect x="558.5" y="299.62" width="6.9" height="2.91" fill="#FDBF6F"/><rect x="558.5" y="302.14" width="6.9" height="2.91" fill="#A6CEE3"/><rect x="558.5" y="304.65" width="6.9" height="2.91" fill="#FDBF6F"/><rect x="558.5" y="307.17" width="6.9" height="2.91" fill="#FDBF6F"/><rect x="558.5" y="309.68" width="6.9" height="2.91" fill="#FDBF6F"/><rect x="558.5" y="312.19" width="6.9" height="2.91" fill="#FDBF6F"/><rect x="558.5" y="314.71" width="6.9" height="2.91" fill="#FDBF6F"/><rect x="558.5" y="317.22" width="6.9" height="2.91" fill="#A6CEE3"/><rect x="558.5" y="319.74" width="6.9" height="2.91" fill="#FFFF99"/><rect x="558.5" y="322.25" width="6.9" height="2.91" fill="#FDBF6F"/><rect x="558.5" y="324.76" width="6.9" height="2.91" fill="#FDBF6F"/><rect x="558.5" y="327.28" width="6.9" height="2.91" fill="#FDBF6F"/><rect x="558.5" y="329.79" width="6.9" height="2.91" fill="#A6CEE3"/><rect x="558.5" y="332.31" width="6.9" height="2.91" fill="#FDBF6F"/><rect x="558.5" y="334.82" width="6.9" height="2.91" fill="#FDBF6F"/><rect x="558.5" y="337.33" width="6.9" height="2.91" fill="#FDBF6F"/><rect x="558.5" y="339.85" width="6.9" height="2.91" fill="#FDBF6F"/><rect x="558.5" y="342.36" width="6.9" height="2.91" fill="#FDBF6F"/><rect x="558.5" y="344.88" width="6.9" height="2.91" fill="#FDBF6F"/><rect x="558.5" y="347.39" width="6.9" height="2.91" fill="#FDBF6F"/><rect x="558.5" y="349.90" width="6.9" height="2.91" fill="#FDBF6F"/><rect x="558.5" y="352.42" width="6.9" height="2.91" fill="#FDBF6F"/><rect x="558.5" y="354.93" width="6.9" height="2.91" fill="#A6CEE3"/><rect x="558.5" y="357.45" width="6.9" height="2.91" fill="#1F78B4"/><rect x="558.5" y="359.96" width="6.9" height="2.91" fill="#FDBF6F"/><rect x="558.5" y="362.47" width="6.9" height="2.91" fill="#FDBF6F"/><rect x="558.5" y="364.99" width="6.9" height="2.91" fill="#FDBF6F"/><rect x="558.5" y="367.50" width="6.9" height="2.91" fill="#FDBF6F"/><rect x="558.5" y="370.02" width="6.9" height="2.91" fill="#FDBF6F"/><rect x="558.5" y="372.53" width="6.9" height="2.91" fill="#FDBF6F"/><rect x="558.5" y="375.04" width="6.9" height="2.91" fill="#FDBF6F"/><rect x="558.5" y="377.56" width="6.9" height="2.91" fill="#FDBF6F"/><rect x="558.5" y="380.07" width="6.9" height="2.91" fill="#FDBF6F"/><rect x="558.5" y="382.59" width="6.9" height="2.91" fill="#FDBF6F"/><rect x="568.0" y="259.40" width="6.9" height="2.91" fill="#CAB2D6"/><rect x="568.0" y="261.91" width="6.9" height="2.91" fill="#1F78B4"/><rect x="568.0" y="264.43" width="6.9" height="2.91" fill="#CAB2D6"/><rect x="568.0" y="266.94" width="6.9" height="2.91" fill="#CAB2D6"/><rect x="568.0" y="269.46" width="6.9" height="2.91" fill="#A6CEE3"/><rect x="568.0" y="271.97" width="6.9" height="2.91" fill="#FDBF6F"/><rect x="568.0" y="274.48" width="6.9" height="2.91" fill="#CAB2D6"/><rect x="568.0" y="277.00" width="6.9" height="2.91" fill="#33A02C"/><rect x="568.0" y="279.51" width="6.9" height="2.91" fill="#1F78B4"/><rect x="568.0" y="282.03" width="6.9" height="2.91" fill="#1F78B4"/><rect x="568.0" y="284.54" width="6.9" height="2.91" fill="#FDBF6F"/><rect x="568.0" y="287.05" width="6.9" height="2.91" fill="#A6CEE3"/><rect x="568.0" y="289.57" width="6.9" height="2.91" fill="#FDBF6F"/><rect x="568.0" y="292.08" width="6.9" height="2.91" fill="#CAB2D6"/><rect x="568.0" y="294.60" width="6.9" height="2.91" fill="#FDBF6F"/><rect x="568.0" y="297.11" width="6.9" height="2.91" fill="#FB9A99"/><rect x="568.0" y="299.62" width="6.9" height="2.91" fill="#6A3D9A"/><rect x="568.0" y="302.14" width="6.9" height="2.91" fill="#A6CEE3"/><rect x="568.0" y="304.65" width="6.9" height="2.91" fill="#33A02C"/><rect x="568.0" y="307.17" width="6.9" height="2.91" fill="#FF7F00"/><rect x="568.0" y="309.68" width="6.9" height="2.91" fill="#33A02C"/><rect x="568.0" y="312.19" width="6.9" height="2.91" fill="#FDBF6F"/><rect x="568.0" y="314.71" width="6.9" height="2.91" fill="#CAB2D6"/><rect x="568.0" y="317.22" width="6.9" height="2.91" fill="#A6CEE3"/><rect x="568.0" y="319.74" width="6.9" height="2.91" fill="#1F78B4"/><rect x="568.0" y="322.25" width="6.9" height="2.91" fill="#33A02C"/><rect x="568.0" y="324.76" width="6.9" height="2.91" fill="#6A3D9A"/><rect x="568.0" y="327.28" width="6.9" height="2.91" fill="#A6CEE3"/><rect x="568.0" y="329.79" width="6.9" height="2.91" fill="#A6CEE3"/><rect x="568.0" y="332.31" width="6.9" height="2.91" fill="#6A3D9A"/><rect x="568.0" y="334.82" width="6.9" height="2.91" fill="#33A02C"/><rect x="568.0" y="337.33" width="6.9" height="2.91" fill="#1F78B4"/><rect x="568.0" y="339.85" width="6.9" height="2.91" fill="#E31A1C"/><rect x="568.0" y="342.36" width="6.9" height="2.91" fill="#6A3D9A"/><rect x="568.0" y="344.88" width="6.9" height="2.91" fill="#A6CEE3"/><rect x="568.0" y="347.39" width="6.9" height="2.91" fill="#33A02C"/><rect x="568.0" y="349.90" width="6.9" height="2.91" fill="#33A02C"/><rect x="568.0" y="352.42" width="6.9" height="2.91" fill="#FDBF6F"/><rect x="568.0" y="354.93" width="6.9" height="2.91" fill="#A6CEE3"/><rect x="568.0" y="357.45" width="6.9" height="2.91" fill="#B2DF8A"/><rect x="568.0" y="359.96" width="6.9" height="2.91" fill="#1F78B4"/><rect x="568.0" y="362.47" width="6.9" height="2.91" fill="#FF7F00"/><rect x="568.0" y="364.99" width="6.9" height="2.91" fill="#6A3D9A"/><rect x="568.0" y="367.50" width="6.9" height="2.91" fill="#6A3D9A"/><rect x="568.0" y="370.02" width="6.9" height="2.91" fill="#A6CEE3"/><rect x="568.0" y="372.53" width="6.9" height="2.91" fill="#FF7F00"/><rect x="568.0" y="375.04" width="6.9" height="2.91" fill="#A6CEE3"/><rect x="568.0" y="377.56" width="6.9" height="2.91" fill="#FF7F00"/><rect x="568.0" y="380.07" width="6.9" height="2.91" fill="#CAB2D6"/><rect x="568.0" y="382.59" width="6.9" height="2.91" fill="#6A3D9A"/><rect x="446.00" y="386.80" width="7.08" height="2.86" fill="#ff4225"/><rect x="452.68" y="386.80" width="7.08" height="2.86" fill="#ff7654"/><rect x="459.36" y="386.80" width="7.08" height="2.86" fill="#ff8e6e"/><rect x="466.04" y="386.80" width="7.08" height="2.86" fill="#ff351b"/><rect x="472.72" y="386.80" width="7.08" height="2.86" fill="#ff8f70"/><rect x="479.40" y="386.80" width="7.08" height="2.86" fill="#efe3fe"/><rect x="486.08" y="386.80" width="7.08" height="2.86" fill="#e0cbfd"/><rect x="492.76" y="386.80" width="7.08" height="2.86" fill="#e0cbfd"/><rect x="499.44" y="386.80" width="7.08" height="2.86" fill="#e1cdfd"/><rect x="506.12" y="386.80" width="7.08" height="2.86" fill="#dfcafd"/><rect x="512.80" y="386.80" width="7.08" height="2.86" fill="#c5a6f9"/><rect x="519.48" y="386.80" width="7.08" height="2.86" fill="#c5a6fa"/><rect x="526.16" y="386.80" width="7.08" height="2.86" fill="#c09ff9"/><rect x="532.84" y="386.80" width="7.08" height="2.86" fill="#bd9cf8"/><rect x="539.52" y="386.80" width="7.08" height="2.86" fill="#c1a0f9"/><rect x="446.00" y="389.26" width="7.08" height="2.86" fill="#ff6544"/><rect x="452.68" y="389.26" width="7.08" height="2.86" fill="#ff9f83"/><rect x="459.36" y="389.26" width="7.08" height="2.86" fill="#ffbda7"/><rect x="466.04" y="389.26" width="7.08" height="2.86" fill="#ff6342"/><rect x="472.72" y="389.26" width="7.08" height="2.86" fill="#ff704f"/><rect x="479.40" y="389.26" width="7.08" height="2.86" fill="#ecdefe"/><rect x="486.08" y="389.26" width="7.08" height="2.86" fill="#dfcafd"/><rect x="492.76" y="389.26" width="7.08" height="2.86" fill="#e2cefd"/><rect x="499.44" y="389.26" width="7.08" height="2.86" fill="#e1cdfd"/><rect x="506.12" y="389.26" width="7.08" height="2.86" fill="#ddc7fd"/><rect x="512.80" y="389.26" width="7.08" height="2.86" fill="#be9cf8"/><rect x="519.48" y="389.26" width="7.08" height="2.86" fill="#bf9ef8"/><rect x="526.16" y="389.26" width="7.08" height="2.86" fill="#bb99f8"/><rect x="532.84" y="389.26" width="7.08" height="2.86" fill="#b996f7"/><rect x="539.52" y="389.26" width="7.08" height="2.86" fill="#b895f7"/><rect x="446.00" y="391.71" width="7.08" height="2.86" fill="#ff6544"/><rect x="452.68" y="391.71" width="7.08" height="2.86" fill="#ff8b6c"/><rect x="459.36" y="391.71" width="7.08" height="2.86" fill="#ff9779"/><rect x="466.04" y="391.71" width="7.08" height="2.86" fill="#ff5232"/><rect x="472.72" y="391.71" width="7.08" height="2.86" fill="#ff6847"/><rect x="479.40" y="391.71" width="7.08" height="2.86" fill="#ecddfe"/><rect x="486.08" y="391.71" width="7.08" height="2.86" fill="#e3cffe"/><rect x="492.76" y="391.71" width="7.08" height="2.86" fill="#e6d4fe"/><rect x="499.44" y="391.71" width="7.08" height="2.86" fill="#e0ccfd"/><rect x="506.12" y="391.71" width="7.08" height="2.86" fill="#ddc7fd"/><rect x="512.80" y="391.71" width="7.08" height="2.86" fill="#c2a2f9"/><rect x="519.48" y="391.71" width="7.08" height="2.86" fill="#c3a3f9"/><rect x="526.16" y="391.71" width="7.08" height="2.86" fill="#bc9af8"/><rect x="532.84" y="391.71" width="7.08" height="2.86" fill="#bc9af8"/><rect x="539.52" y="391.71" width="7.08" height="2.86" fill="#bb99f8"/><rect x="446.00" y="394.17" width="7.08" height="2.86" fill="#ff704f"/><rect x="452.68" y="394.17" width="7.08" height="2.86" fill="#ffa084"/><rect x="459.36" y="394.17" width="7.08" height="2.86" fill="#ffbaa4"/><rect x="466.04" y="394.17" width="7.08" height="2.86" fill="#ff6948"/><rect x="472.72" y="394.17" width="7.08" height="2.86" fill="#ffa78c"/><rect x="479.40" y="394.17" width="7.08" height="2.86" fill="#e6d4fe"/><rect x="486.08" y="394.17" width="7.08" height="2.86" fill="#dec8fd"/><rect x="492.76" y="394.17" width="7.08" height="2.86" fill="#dac4fd"/><rect x="499.44" y="394.17" width="7.08" height="2.86" fill="#e1cdfd"/><rect x="506.12" y="394.17" width="7.08" height="2.86" fill="#d4bbfc"/><rect x="512.80" y="394.17" width="7.08" height="2.86" fill="#bd9cf8"/><rect x="519.48" y="394.17" width="7.08" height="2.86" fill="#be9df8"/><rect x="526.16" y="394.17" width="7.08" height="2.86" fill="#bb99f8"/><rect x="532.84" y="394.17" width="7.08" height="2.86" fill="#ba98f8"/><rect x="539.52" y="394.17" width="7.08" height="2.86" fill="#b996f7"/><rect x="446.00" y="396.63" width="7.08" height="2.86" fill="#ff7352"/><rect x="452.68" y="396.63" width="7.08" height="2.86" fill="#ff8665"/><rect x="459.36" y="396.63" width="7.08" height="2.86" fill="#ffa489"/><rect x="466.04" y="396.63" width="7.08" height="2.86" fill="#ff5232"/><rect x="472.72" y="396.63" width="7.08" height="2.86" fill="#ff896a"/><rect x="479.40" y="396.63" width="7.08" height="2.86" fill="#ebddfe"/><rect x="486.08" y="396.63" width="7.08" height="2.86" fill="#dfcafd"/><rect x="492.76" y="396.63" width="7.08" height="2.86" fill="#e6d4fe"/><rect x="499.44" y="396.63" width="7.08" height="2.86" fill="#dec9fd"/><rect x="506.12" y="396.63" width="7.08" height="2.86" fill="#ddc7fd"/><rect x="512.80" y="396.63" width="7.08" height="2.86" fill="#c09ff9"/><rect x="519.48" y="396.63" width="7.08" height="2.86" fill="#c1a0f9"/><rect x="526.16" y="396.63" width="7.08" height="2.86" fill="#bc9af8"/><rect x="532.84" y="396.63" width="7.08" height="2.86" fill="#bc9af8"/><rect x="539.52" y="396.63" width="7.08" height="2.86" fill="#bd9cf8"/><rect x="446.00" y="399.09" width="7.08" height="2.86" fill="#ff8060"/><rect x="452.68" y="399.09" width="7.08" height="2.86" fill="#ffad94"/><rect x="459.36" y="399.09" width="7.08" height="2.86" fill="#ffa78c"/><rect x="466.04" y="399.09" width="7.08" height="2.86" fill="#ff7958"/><rect x="472.72" y="399.09" width="7.08" height="2.86" fill="#ffa084"/><rect x="479.40" y="399.09" width="7.08" height="2.86" fill="#e8d7fe"/><rect x="486.08" y="399.09" width="7.08" height="2.86" fill="#e1cefd"/><rect x="492.76" y="399.09" width="7.08" height="2.86" fill="#dfcafd"/><rect x="499.44" y="399.09" width="7.08" height="2.86" fill="#dec9fd"/><rect x="506.12" y="399.09" width="7.08" height="2.86" fill="#dec8fd"/><rect x="512.80" y="399.09" width="7.08" height="2.86" fill="#ba98f8"/><rect x="519.48" y="399.09" width="7.08" height="2.86" fill="#b794f7"/><rect x="526.16" y="399.09" width="7.08" height="2.86" fill="#b793f7"/><rect x="532.84" y="399.09" width="7.08" height="2.86" fill="#b794f7"/><rect x="539.52" y="399.09" width="7.08" height="2.86" fill="#ba98f8"/><rect x="446.00" y="401.54" width="7.08" height="2.86" fill="#ff704f"/><rect x="452.68" y="401.54" width="7.08" height="2.86" fill="#ff6241"/><rect x="459.36" y="401.54" width="7.08" height="2.86" fill="#ff7958"/><rect x="466.04" y="401.54" width="7.08" height="2.86" fill="#ff3118"/><rect x="472.72" y="401.54" width="7.08" height="2.86" fill="#ff7250"/><rect x="479.40" y="401.54" width="7.08" height="2.86" fill="#f5edff"/><rect x="486.08" y="401.54" width="7.08" height="2.86" fill="#e4d1fe"/><rect x="492.76" y="401.54" width="7.08" height="2.86" fill="#e2cefd"/><rect x="499.44" y="401.54" width="7.08" height="2.86" fill="#e4d1fe"/><rect x="506.12" y="401.54" width="7.08" height="2.86" fill="#dbc5fd"/><rect x="512.80" y="401.54" width="7.08" height="2.86" fill="#c4a6f9"/><rect x="519.48" y="401.54" width="7.08" height="2.86" fill="#c3a4f9"/><rect x="526.16" y="401.54" width="7.08" height="2.86" fill="#c09ff9"/><rect x="532.84" y="401.54" width="7.08" height="2.86" fill="#c0a0f9"/><rect x="539.52" y="401.54" width="7.08" height="2.86" fill="#bd9bf8"/><rect x="446.00" y="404.00" width="7.08" height="2.86" fill="#ff7452"/><rect x="452.68" y="404.00" width="7.08" height="2.86" fill="#ff7e5d"/><rect x="459.36" y="404.00" width="7.08" height="2.86" fill="#ffa589"/><rect x="466.04" y="404.00" width="7.08" height="2.86" fill="#ff4628"/><rect x="472.72" y="404.00" width="7.08" height="2.86" fill="#ff8767"/><rect x="479.40" y="404.00" width="7.08" height="2.86" fill="#ede0fe"/><rect x="486.08" y="404.00" width="7.08" height="2.86" fill="#e0ccfd"/><rect x="492.76" y="404.00" width="7.08" height="2.86" fill="#dbc5fd"/><rect x="499.44" y="404.00" width="7.08" height="2.86" fill="#dfcafd"/><rect x="506.12" y="404.00" width="7.08" height="2.86" fill="#dfcafd"/><rect x="512.80" y="404.00" width="7.08" height="2.86" fill="#c3a4f9"/><rect x="519.48" y="404.00" width="7.08" height="2.86" fill="#bf9ef8"/><rect x="526.16" y="404.00" width="7.08" height="2.86" fill="#b996f7"/><rect x="532.84" y="404.00" width="7.08" height="2.86" fill="#bc9af8"/><rect x="539.52" y="404.00" width="7.08" height="2.86" fill="#bd9cf8"/><rect x="446.00" y="406.46" width="7.08" height="2.86" fill="#ff8262"/><rect x="452.68" y="406.46" width="7.08" height="2.86" fill="#ff8f70"/><rect x="459.36" y="406.46" width="7.08" height="2.86" fill="#ff987a"/><rect x="466.04" y="406.46" width="7.08" height="2.86" fill="#ff5736"/><rect x="472.72" y="406.46" width="7.08" height="2.86" fill="#ff997b"/><rect x="479.40" y="406.46" width="7.08" height="2.86" fill="#eadafe"/><rect x="486.08" y="406.46" width="7.08" height="2.86" fill="#dec9fd"/><rect x="492.76" y="406.46" width="7.08" height="2.86" fill="#d9c3fd"/><rect x="499.44" y="406.46" width="7.08" height="2.86" fill="#e1cefd"/><rect x="506.12" y="406.46" width="7.08" height="2.86" fill="#dac4fd"/><rect x="512.80" y="406.46" width="7.08" height="2.86" fill="#bd9bf8"/><rect x="519.48" y="406.46" width="7.08" height="2.86" fill="#c1a1f9"/><rect x="526.16" y="406.46" width="7.08" height="2.86" fill="#bb99f8"/><rect x="532.84" y="406.46" width="7.08" height="2.86" fill="#bb99f8"/><rect x="539.52" y="406.46" width="7.08" height="2.86" fill="#bc9af8"/><rect x="446.00" y="408.91" width="7.08" height="2.86" fill="#ff7c5b"/><rect x="452.68" y="408.91" width="7.08" height="2.86" fill="#ff9273"/><rect x="459.36" y="408.91" width="7.08" height="2.86" fill="#ff8c6d"/><rect x="466.04" y="408.91" width="7.08" height="2.86" fill="#ff5e3d"/><rect x="472.72" y="408.91" width="7.08" height="2.86" fill="#ff8262"/><rect x="479.40" y="408.91" width="7.08" height="2.86" fill="#ede0fe"/><rect x="486.08" y="408.91" width="7.08" height="2.86" fill="#e5d3fe"/><rect x="492.76" y="408.91" width="7.08" height="2.86" fill="#e5d2fe"/><rect x="499.44" y="408.91" width="7.08" height="2.86" fill="#e4d1fe"/><rect x="506.12" y="408.91" width="7.08" height="2.86" fill="#ddc7fd"/><rect x="512.80" y="408.91" width="7.08" height="2.86" fill="#c2a3f9"/><rect x="519.48" y="408.91" width="7.08" height="2.86" fill="#c2a2f9"/><rect x="526.16" y="408.91" width="7.08" height="2.86" fill="#bc9af8"/><rect x="532.84" y="408.91" width="7.08" height="2.86" fill="#bf9ef8"/><rect x="539.52" y="408.91" width="7.08" height="2.86" fill="#bd9cf8"/><rect x="446.00" y="411.37" width="7.08" height="2.86" fill="#ff6a48"/><rect x="452.68" y="411.37" width="7.08" height="2.86" fill="#ff9d80"/><rect x="459.36" y="411.37" width="7.08" height="2.86" fill="#ff9d80"/><rect x="466.04" y="411.37" width="7.08" height="2.86" fill="#ff7655"/><rect x="472.72" y="411.37" width="7.08" height="2.86" fill="#ff9071"/><rect x="479.40" y="411.37" width="7.08" height="2.86" fill="#e7d5fe"/><rect x="486.08" y="411.37" width="7.08" height="2.86" fill="#dbc5fd"/><rect x="492.76" y="411.37" width="7.08" height="2.86" fill="#d8c0fc"/><rect x="499.44" y="411.37" width="7.08" height="2.86" fill="#e5d2fe"/><rect x="506.12" y="411.37" width="7.08" height="2.86" fill="#d9c3fd"/><rect x="512.80" y="411.37" width="7.08" height="2.86" fill="#be9df8"/><rect x="519.48" y="411.37" width="7.08" height="2.86" fill="#c09ff9"/><rect x="526.16" y="411.37" width="7.08" height="2.86" fill="#b996f7"/><rect x="532.84" y="411.37" width="7.08" height="2.86" fill="#ba98f8"/><rect x="539.52" y="411.37" width="7.08" height="2.86" fill="#b693f7"/><rect x="446.00" y="413.83" width="7.08" height="2.86" fill="#ff7655"/><rect x="452.68" y="413.83" width="7.08" height="2.86" fill="#ff8c6d"/><rect x="459.36" y="413.83" width="7.08" height="2.86" fill="#ff9a7d"/><rect x="466.04" y="413.83" width="7.08" height="2.86" fill="#ff6c4a"/><rect x="472.72" y="413.83" width="7.08" height="2.86" fill="#ff9d80"/><rect x="479.40" y="413.83" width="7.08" height="2.86" fill="#e8d8fe"/><rect x="486.08" y="413.83" width="7.08" height="2.86" fill="#e2cefd"/><rect x="492.76" y="413.83" width="7.08" height="2.86" fill="#e1cdfd"/><rect x="499.44" y="413.83" width="7.08" height="2.86" fill="#e1cefd"/><rect x="506.12" y="413.83" width="7.08" height="2.86" fill="#d5bdfc"/><rect x="512.80" y="413.83" width="7.08" height="2.86" fill="#ba97f7"/><rect x="519.48" y="413.83" width="7.08" height="2.86" fill="#be9df8"/><rect x="526.16" y="413.83" width="7.08" height="2.86" fill="#ba98f8"/><rect x="532.84" y="413.83" width="7.08" height="2.86" fill="#ba97f7"/><rect x="539.52" y="413.83" width="7.08" height="2.86" fill="#bc9af8"/><rect x="446.00" y="416.29" width="7.08" height="2.86" fill="#ff8363"/><rect x="452.68" y="416.29" width="7.08" height="2.86" fill="#ff9f82"/><rect x="459.36" y="416.29" width="7.08" height="2.86" fill="#ff9e81"/><rect x="466.04" y="416.29" width="7.08" height="2.86" fill="#ff5c3b"/><rect x="472.72" y="416.29" width="7.08" height="2.86" fill="#ff8b6c"/><rect x="479.40" y="416.29" width="7.08" height="2.86" fill="#f1e6ff"/><rect x="486.08" y="416.29" width="7.08" height="2.86" fill="#dfcafd"/><rect x="492.76" y="416.29" width="7.08" height="2.86" fill="#e0cbfd"/><rect x="499.44" y="416.29" width="7.08" height="2.86" fill="#dcc6fd"/><rect x="506.12" y="416.29" width="7.08" height="2.86" fill="#dac3fd"/><rect x="512.80" y="416.29" width="7.08" height="2.86" fill="#c09ff9"/><rect x="519.48" y="416.29" width="7.08" height="2.86" fill="#c09ff9"/><rect x="526.16" y="416.29" width="7.08" height="2.86" fill="#ba98f8"/><rect x="532.84" y="416.29" width="7.08" height="2.86" fill="#bb99f8"/><rect x="539.52" y="416.29" width="7.08" height="2.86" fill="#bb98f8"/><rect x="446.00" y="418.74" width="7.08" height="2.86" fill="#ffa98f"/><rect x="452.68" y="418.74" width="7.08" height="2.86" fill="#ff8969"/><rect x="459.36" y="418.74" width="7.08" height="2.86" fill="#ffa488"/><rect x="466.04" y="418.74" width="7.08" height="2.86" fill="#ff6e4d"/><rect x="472.72" y="418.74" width="7.08" height="2.86" fill="#ffac92"/><rect x="479.40" y="418.74" width="7.08" height="2.86" fill="#e4d1fe"/><rect x="486.08" y="418.74" width="7.08" height="2.86" fill="#e0ccfd"/><rect x="492.76" y="418.74" width="7.08" height="2.86" fill="#d3b9fc"/><rect x="499.44" y="418.74" width="7.08" height="2.86" fill="#dbc5fd"/><rect x="506.12" y="418.74" width="7.08" height="2.86" fill="#dac4fd"/><rect x="512.80" y="418.74" width="7.08" height="2.86" fill="#bb9af8"/><rect x="519.48" y="418.74" width="7.08" height="2.86" fill="#bd9bf8"/><rect x="526.16" y="418.74" width="7.08" height="2.86" fill="#b693f7"/><rect x="532.84" y="418.74" width="7.08" height="2.86" fill="#bc9af8"/><rect x="539.52" y="418.74" width="7.08" height="2.86" fill="#b491f6"/><rect x="446.00" y="421.20" width="7.08" height="2.86" fill="#ff7c5b"/><rect x="452.68" y="421.20" width="7.08" height="2.86" fill="#ff8f70"/><rect x="459.36" y="421.20" width="7.08" height="2.86" fill="#ffaa8f"/><rect x="466.04" y="421.20" width="7.08" height="2.86" fill="#ff5a3a"/><rect x="472.72" y="421.20" width="7.08" height="2.86" fill="#ff9b7d"/><rect x="479.40" y="421.20" width="7.08" height="2.86" fill="#e5d2fe"/><rect x="486.08" y="421.20" width="7.08" height="2.86" fill="#e1cdfd"/><rect x="492.76" y="421.20" width="7.08" height="2.86" fill="#e2cefd"/><rect x="499.44" y="421.20" width="7.08" height="2.86" fill="#e2cefd"/><rect x="506.12" y="421.20" width="7.08" height="2.86" fill="#d7c0fc"/><rect x="512.80" y="421.20" width="7.08" height="2.86" fill="#ba97f7"/><rect x="519.48" y="421.20" width="7.08" height="2.86" fill="#ba97f7"/><rect x="526.16" y="421.20" width="7.08" height="2.86" fill="#b794f7"/><rect x="532.84" y="421.20" width="7.08" height="2.86" fill="#b997f7"/><rect x="539.52" y="421.20" width="7.08" height="2.86" fill="#b996f7"/><rect x="446.00" y="423.66" width="7.08" height="2.86" fill="#ff7e5d"/><rect x="452.68" y="423.66" width="7.08" height="2.86" fill="#ff9f83"/><rect x="459.36" y="423.66" width="7.08" height="2.86" fill="#ffa88e"/><rect x="466.04" y="423.66" width="7.08" height="2.86" fill="#ff6a48"/><rect x="472.72" y="423.66" width="7.08" height="2.86" fill="#ff977a"/><rect x="479.40" y="423.66" width="7.08" height="2.86" fill="#eadafe"/><rect x="486.08" y="423.66" width="7.08" height="2.86" fill="#dec8fd"/><rect x="492.76" y="423.66" width="7.08" height="2.86" fill="#dec8fd"/><rect x="499.44" y="423.66" width="7.08" height="2.86" fill="#dac4fd"/><rect x="506.12" y="423.66" width="7.08" height="2.86" fill="#dac3fd"/><rect x="512.80" y="423.66" width="7.08" height="2.86" fill="#bc9af8"/><rect x="519.48" y="423.66" width="7.08" height="2.86" fill="#b794f7"/><rect x="526.16" y="423.66" width="7.08" height="2.86" fill="#b996f7"/><rect x="532.84" y="423.66" width="7.08" height="2.86" fill="#b794f7"/><rect x="539.52" y="423.66" width="7.08" height="2.86" fill="#ba97f7"/><rect x="446.00" y="426.11" width="7.08" height="2.86" fill="#ff7655"/><rect x="452.68" y="426.11" width="7.08" height="2.86" fill="#ff9374"/><rect x="459.36" y="426.11" width="7.08" height="2.86" fill="#ff9f83"/><rect x="466.04" y="426.11" width="7.08" height="2.86" fill="#ff6342"/><rect x="472.72" y="426.11" width="7.08" height="2.86" fill="#ff9f82"/><rect x="479.40" y="426.11" width="7.08" height="2.86" fill="#efe4ff"/><rect x="486.08" y="426.11" width="7.08" height="2.86" fill="#dac4fd"/><rect x="492.76" y="426.11" width="7.08" height="2.86" fill="#dec9fd"/><rect x="499.44" y="426.11" width="7.08" height="2.86" fill="#e1cdfd"/><rect x="506.12" y="426.11" width="7.08" height="2.86" fill="#ddc7fd"/><rect x="512.80" y="426.11" width="7.08" height="2.86" fill="#c09ff9"/><rect x="519.48" y="426.11" width="7.08" height="2.86" fill="#c0a0f9"/><rect x="526.16" y="426.11" width="7.08" height="2.86" fill="#bd9cf8"/><rect x="532.84" y="426.11" width="7.08" height="2.86" fill="#bb99f8"/><rect x="539.52" y="426.11" width="7.08" height="2.86" fill="#c1a0f9"/><rect x="446.00" y="428.57" width="7.08" height="2.86" fill="#ff7a58"/><rect x="452.68" y="428.57" width="7.08" height="2.86" fill="#ffa084"/><rect x="459.36" y="428.57" width="7.08" height="2.86" fill="#ffac92"/><rect x="466.04" y="428.57" width="7.08" height="2.86" fill="#ff6140"/><rect x="472.72" y="428.57" width="7.08" height="2.86" fill="#ff8160"/><rect x="479.40" y="428.57" width="7.08" height="2.86" fill="#e7d6fe"/><rect x="486.08" y="428.57" width="7.08" height="2.86" fill="#dbc5fd"/><rect x="492.76" y="428.57" width="7.08" height="2.86" fill="#e0ccfd"/><rect x="499.44" y="428.57" width="7.08" height="2.86" fill="#e0cbfd"/><rect x="506.12" y="428.57" width="7.08" height="2.86" fill="#e0ccfd"/><rect x="512.80" y="428.57" width="7.08" height="2.86" fill="#bf9ef8"/><rect x="519.48" y="428.57" width="7.08" height="2.86" fill="#bd9cf8"/><rect x="526.16" y="428.57" width="7.08" height="2.86" fill="#b895f7"/><rect x="532.84" y="428.57" width="7.08" height="2.86" fill="#b996f7"/><rect x="539.52" y="428.57" width="7.08" height="2.86" fill="#b895f7"/><rect x="446.00" y="431.03" width="7.08" height="2.86" fill="#ff7f5f"/><rect x="452.68" y="431.03" width="7.08" height="2.86" fill="#ffa185"/><rect x="459.36" y="431.03" width="7.08" height="2.86" fill="#ffab92"/><rect x="466.04" y="431.03" width="7.08" height="2.86" fill="#ff6e4d"/><rect x="472.72" y="431.03" width="7.08" height="2.86" fill="#ff8160"/><rect x="479.40" y="431.03" width="7.08" height="2.86" fill="#eadbfe"/><rect x="486.08" y="431.03" width="7.08" height="2.86" fill="#e0ccfd"/><rect x="492.76" y="431.03" width="7.08" height="2.86" fill="#dbc5fd"/><rect x="499.44" y="431.03" width="7.08" height="2.86" fill="#d9c3fd"/><rect x="506.12" y="431.03" width="7.08" height="2.86" fill="#d8c0fc"/><rect x="512.80" y="431.03" width="7.08" height="2.86" fill="#bd9bf8"/><rect x="519.48" y="431.03" width="7.08" height="2.86" fill="#bb9af8"/><rect x="526.16" y="431.03" width="7.08" height="2.86" fill="#b794f7"/><rect x="532.84" y="431.03" width="7.08" height="2.86" fill="#ba98f8"/><rect x="539.52" y="431.03" width="7.08" height="2.86" fill="#b996f7"/><rect x="446.00" y="433.49" width="7.08" height="2.86" fill="#ff8161"/><rect x="452.68" y="433.49" width="7.08" height="2.86" fill="#ffa387"/><rect x="459.36" y="433.49" width="7.08" height="2.86" fill="#ffa488"/><rect x="466.04" y="433.49" width="7.08" height="2.86" fill="#ff7453"/><rect x="472.72" y="433.49" width="7.08" height="2.86" fill="#ff9475"/><rect x="479.40" y="433.49" width="7.08" height="2.86" fill="#ebdcfe"/><rect x="486.08" y="433.49" width="7.08" height="2.86" fill="#dec9fd"/><rect x="492.76" y="433.49" width="7.08" height="2.86" fill="#dac4fd"/><rect x="499.44" y="433.49" width="7.08" height="2.86" fill="#dcc6fd"/><rect x="506.12" y="433.49" width="7.08" height="2.86" fill="#dac3fd"/><rect x="512.80" y="433.49" width="7.08" height="2.86" fill="#be9df8"/><rect x="519.48" y="433.49" width="7.08" height="2.86" fill="#bf9ef8"/><rect x="526.16" y="433.49" width="7.08" height="2.86" fill="#b895f7"/><rect x="532.84" y="433.49" width="7.08" height="2.86" fill="#b692f7"/><rect x="539.52" y="433.49" width="7.08" height="2.86" fill="#bc9af8"/><rect x="446.00" y="435.94" width="7.08" height="2.86" fill="#fff5f2"/><rect x="452.68" y="435.94" width="7.08" height="2.86" fill="#ff9e81"/><rect x="459.36" y="435.94" width="7.08" height="2.86" fill="#ff9e81"/><rect x="466.04" y="435.94" width="7.08" height="2.86" fill="#ff3e22"/><rect x="472.72" y="435.94" width="7.08" height="2.86" fill="#ff9e81"/><rect x="479.40" y="435.94" width="7.08" height="2.86" fill="#ebdcfe"/><rect x="486.08" y="435.94" width="7.08" height="2.86" fill="#ebdcfe"/><rect x="492.76" y="435.94" width="7.08" height="2.86" fill="#b28ef6"/><rect x="499.44" y="435.94" width="7.08" height="2.86" fill="#ebdcfe"/><rect x="506.12" y="435.94" width="7.08" height="2.86" fill="#ffd9cb"/><rect x="512.80" y="435.94" width="7.08" height="2.86" fill="#c3a4f9"/><rect x="519.48" y="435.94" width="7.08" height="2.86" fill="#a983f5"/><rect x="526.16" y="435.94" width="7.08" height="2.86" fill="#a983f5"/><rect x="532.84" y="435.94" width="7.08" height="2.86" fill="#a983f5"/><rect x="539.52" y="435.94" width="7.08" height="2.86" fill="#b28ef6"/><rect x="549.0" y="386.80" width="6.9" height="2.86" fill="#E31A1C"/><rect x="549.0" y="389.26" width="6.9" height="2.86" fill="#A6CEE3"/><rect x="549.0" y="391.71" width="6.9" height="2.86" fill="#A6CEE3"/><rect x="549.0" y="394.17" width="6.9" height="2.86" fill="#A6CEE3"/><rect x="549.0" y="396.63" width="6.9" height="2.86" fill="#A6CEE3"/><rect x="549.0" y="399.09" width="6.9" height="2.86" fill="#B2DF8A"/><rect x="549.0" y="401.54" width="6.9" height="2.86" fill="#E31A1C"/><rect x="549.0" y="404.00" width="6.9" height="2.86" fill="#FDBF6F"/><rect x="549.0" y="406.46" width="6.9" height="2.86" fill="#A6CEE3"/><rect x="549.0" y="408.91" width="6.9" height="2.86" fill="#A6CEE3"/><rect x="549.0" y="411.37" width="6.9" height="2.86" fill="#E31A1C"/><rect x="549.0" y="413.83" width="6.9" height="2.86" fill="#E31A1C"/><rect x="549.0" y="416.29" width="6.9" height="2.86" fill="#E31A1C"/><rect x="549.0" y="418.74" width="6.9" height="2.86" fill="#FDBF6F"/><rect x="549.0" y="421.20" width="6.9" height="2.86" fill="#33A02C"/><rect x="549.0" y="423.66" width="6.9" height="2.86" fill="#E31A1C"/><rect x="549.0" y="426.11" width="6.9" height="2.86" fill="#E31A1C"/><rect x="549.0" y="428.57" width="6.9" height="2.86" fill="#A6CEE3"/><rect x="549.0" y="431.03" width="6.9" height="2.86" fill="#A6CEE3"/><rect x="549.0" y="433.49" width="6.9" height="2.86" fill="#FDBF6F"/><rect x="549.0" y="435.94" width="6.9" height="2.86" fill="#FDBF6F"/><rect x="558.5" y="386.80" width="6.9" height="2.86" fill="#FF7F00"/><rect x="558.5" y="389.26" width="6.9" height="2.86" fill="#A6CEE3"/><rect x="558.5" y="391.71" width="6.9" height="2.86" fill="#CAB2D6"/><rect x="558.5" y="394.17" width="6.9" height="2.86" fill="#FDBF6F"/><rect x="558.5" y="396.63" width="6.9" height="2.86" fill="#FDBF6F"/><rect x="558.5" y="399.09" width="6.9" height="2.86" fill="#1F78B4"/><rect x="558.5" y="401.54" width="6.9" height="2.86" fill="#CAB2D6"/><rect x="558.5" y="404.00" width="6.9" height="2.86" fill="#FDBF6F"/><rect x="558.5" y="406.46" width="6.9" height="2.86" fill="#A6CEE3"/><rect x="558.5" y="408.91" width="6.9" height="2.86" fill="#CAB2D6"/><rect x="558.5" y="411.37" width="6.9" height="2.86" fill="#CAB2D6"/><rect x="558.5" y="413.83" width="6.9" height="2.86" fill="#FDBF6F"/><rect x="558.5" y="416.29" width="6.9" height="2.86" fill="#E31A1C"/><rect x="558.5" y="418.74" width="6.9" height="2.86" fill="#FDBF6F"/><rect x="558.5" y="421.20" width="6.9" height="2.86" fill="#FDBF6F"/><rect x="558.5" y="423.66" width="6.9" height="2.86" fill="#FDBF6F"/><rect x="558.5" y="426.11" width="6.9" height="2.86" fill="#B2DF8A"/><rect x="558.5" y="428.57" width="6.9" height="2.86" fill="#CAB2D6"/><rect x="558.5" y="431.03" width="6.9" height="2.86" fill="#A6CEE3"/><rect x="558.5" y="433.49" width="6.9" height="2.86" fill="#FDBF6F"/><rect x="558.5" y="435.94" width="6.9" height="2.86" fill="#FFFF99"/><rect x="568.0" y="386.80" width="6.9" height="2.86" fill="#CAB2D6"/><rect x="568.0" y="389.26" width="6.9" height="2.86" fill="#A6CEE3"/><rect x="568.0" y="391.71" width="6.9" height="2.86" fill="#FDBF6F"/><rect x="568.0" y="394.17" width="6.9" height="2.86" fill="#FDBF6F"/><rect x="568.0" y="396.63" width="6.9" height="2.86" fill="#FDBF6F"/><rect x="568.0" y="399.09" width="6.9" height="2.86" fill="#33A02C"/><rect x="568.0" y="401.54" width="6.9" height="2.86" fill="#A6CEE3"/><rect x="568.0" y="404.00" width="6.9" height="2.86" fill="#6A3D9A"/><rect x="568.0" y="406.46" width="6.9" height="2.86" fill="#A6CEE3"/><rect x="568.0" y="408.91" width="6.9" height="2.86" fill="#FDBF6F"/><rect x="568.0" y="411.37" width="6.9" height="2.86" fill="#FDBF6F"/><rect x="568.0" y="413.83" width="6.9" height="2.86" fill="#1F78B4"/><rect x="568.0" y="416.29" width="6.9" height="2.86" fill="#FF7F00"/><rect x="568.0" y="418.74" width="6.9" height="2.86" fill="#B2DF8A"/><rect x="568.0" y="421.20" width="6.9" height="2.86" fill="#6A3D9A"/><rect x="568.0" y="423.66" width="6.9" height="2.86" fill="#CAB2D6"/><rect x="568.0" y="426.11" width="6.9" height="2.86" fill="#FF7F00"/><rect x="568.0" y="428.57" width="6.9" height="2.86" fill="#FDBF6F"/><rect x="568.0" y="431.03" width="6.9" height="2.86" fill="#A6CEE3"/><rect x="568.0" y="433.49" width="6.9" height="2.86" fill="#1F78B4"/><rect x="568.0" y="435.94" width="6.9" height="2.86" fill="#1F78B4"/><rect x="446.00" y="440.00" width="7.08" height="2.98" fill="#ff5e3e"/><rect x="452.68" y="440.00" width="7.08" height="2.98" fill="#ff7c5b"/><rect x="459.36" y="440.00" width="7.08" height="2.98" fill="#ff8f70"/><rect x="466.04" y="440.00" width="7.08" height="2.98" fill="#ff7d5c"/><rect x="472.72" y="440.00" width="7.08" height="2.98" fill="#ff8a6b"/><rect x="479.40" y="440.00" width="7.08" height="2.98" fill="#fefeff"/><rect x="486.08" y="440.00" width="7.08" height="2.98" fill="#eee2fe"/><rect x="492.76" y="440.00" width="7.08" height="2.98" fill="#ecdefe"/><rect x="499.44" y="440.00" width="7.08" height="2.98" fill="#ebddfe"/><rect x="506.12" y="440.00" width="7.08" height="2.98" fill="#eddffe"/><rect x="512.80" y="440.00" width="7.08" height="2.98" fill="#a47ef5"/><rect x="519.48" y="440.00" width="7.08" height="2.98" fill="#a781f5"/><rect x="526.16" y="440.00" width="7.08" height="2.98" fill="#a17af4"/><rect x="532.84" y="440.00" width="7.08" height="2.98" fill="#a57ff5"/><rect x="539.52" y="440.00" width="7.08" height="2.98" fill="#a27bf4"/><rect x="446.00" y="442.58" width="7.08" height="2.98" fill="#ff5232"/><rect x="452.68" y="442.58" width="7.08" height="2.98" fill="#ff9274"/><rect x="459.36" y="442.58" width="7.08" height="2.98" fill="#ffa387"/><rect x="466.04" y="442.58" width="7.08" height="2.98" fill="#ff8261"/><rect x="472.72" y="442.58" width="7.08" height="2.98" fill="#ff8b6b"/><rect x="479.40" y="442.58" width="7.08" height="2.98" fill="#f8f2ff"/><rect x="486.08" y="442.58" width="7.08" height="2.98" fill="#f0e4ff"/><rect x="492.76" y="442.58" width="7.08" height="2.98" fill="#e5d3fe"/><rect x="499.44" y="442.58" width="7.08" height="2.98" fill="#e8d8fe"/><rect x="506.12" y="442.58" width="7.08" height="2.98" fill="#eadbfe"/><rect x="512.80" y="442.58" width="7.08" height="2.98" fill="#a079f4"/><rect x="519.48" y="442.58" width="7.08" height="2.98" fill="#a37cf4"/><rect x="526.16" y="442.58" width="7.08" height="2.98" fill="#a47ef5"/><rect x="532.84" y="442.58" width="7.08" height="2.98" fill="#9f78f4"/><rect x="539.52" y="442.58" width="7.08" height="2.98" fill="#a27cf4"/><rect x="446.00" y="445.15" width="7.08" height="2.98" fill="#ff7351"/><rect x="452.68" y="445.15" width="7.08" height="2.98" fill="#ff9475"/><rect x="459.36" y="445.15" width="7.08" height="2.98" fill="#ffaa8f"/><rect x="466.04" y="445.15" width="7.08" height="2.98" fill="#ff7150"/><rect x="472.72" y="445.15" width="7.08" height="2.98" fill="#ffa68a"/><rect x="479.40" y="445.15" width="7.08" height="2.98" fill="#fffefe"/><rect x="486.08" y="445.15" width="7.08" height="2.98" fill="#ecdefe"/><rect x="492.76" y="445.15" width="7.08" height="2.98" fill="#efe4ff"/><rect x="499.44" y="445.15" width="7.08" height="2.98" fill="#ebddfe"/><rect x="506.12" y="445.15" width="7.08" height="2.98" fill="#ebddfe"/><rect x="512.80" y="445.15" width="7.08" height="2.98" fill="#a47ef5"/><rect x="519.48" y="445.15" width="7.08" height="2.98" fill="#a57ff5"/><rect x="526.16" y="445.15" width="7.08" height="2.98" fill="#a680f5"/><rect x="532.84" y="445.15" width="7.08" height="2.98" fill="#a781f5"/><rect x="539.52" y="445.15" width="7.08" height="2.98" fill="#a27bf4"/><rect x="446.00" y="447.73" width="7.08" height="2.98" fill="#ff8363"/><rect x="452.68" y="447.73" width="7.08" height="2.98" fill="#ff9d80"/><rect x="459.36" y="447.73" width="7.08" height="2.98" fill="#ffa083"/><rect x="466.04" y="447.73" width="7.08" height="2.98" fill="#ff8565"/><rect x="472.72" y="447.73" width="7.08" height="2.98" fill="#ffa286"/><rect x="479.40" y="447.73" width="7.08" height="2.98" fill="#f9f4ff"/><rect x="486.08" y="447.73" width="7.08" height="2.98" fill="#eadbfe"/><rect x="492.76" y="447.73" width="7.08" height="2.98" fill="#e8d7fe"/><rect x="499.44" y="447.73" width="7.08" height="2.98" fill="#eadafe"/><rect x="506.12" y="447.73" width="7.08" height="2.98" fill="#e3d0fe"/><rect x="512.80" y="447.73" width="7.08" height="2.98" fill="#a37cf4"/><rect x="519.48" y="447.73" width="7.08" height="2.98" fill="#9d75f4"/><rect x="526.16" y="447.73" width="7.08" height="2.98" fill="#a079f4"/><rect x="532.84" y="447.73" width="7.08" height="2.98" fill="#9f78f4"/><rect x="539.52" y="447.73" width="7.08" height="2.98" fill="#a079f4"/><rect x="446.00" y="450.31" width="7.08" height="2.98" fill="#ff6f4d"/><rect x="452.68" y="450.31" width="7.08" height="2.98" fill="#ff9a7c"/><rect x="459.36" y="450.31" width="7.08" height="2.98" fill="#ffb29a"/><rect x="466.04" y="450.31" width="7.08" height="2.98" fill="#ff6948"/><rect x="472.72" y="450.31" width="7.08" height="2.98" fill="#ffa68b"/><rect x="479.40" y="450.31" width="7.08" height="2.98" fill="#f8f3ff"/><rect x="486.08" y="450.31" width="7.08" height="2.98" fill="#ebdcfe"/><rect x="492.76" y="450.31" width="7.08" height="2.98" fill="#e6d4fe"/><rect x="499.44" y="450.31" width="7.08" height="2.98" fill="#e2cefd"/><rect x="506.12" y="450.31" width="7.08" height="2.98" fill="#e8d8fe"/><rect x="512.80" y="450.31" width="7.08" height="2.98" fill="#a27bf4"/><rect x="519.48" y="450.31" width="7.08" height="2.98" fill="#9d76f4"/><rect x="526.16" y="450.31" width="7.08" height="2.98" fill="#a17af4"/><rect x="532.84" y="450.31" width="7.08" height="2.98" fill="#9e77f4"/><rect x="539.52" y="450.31" width="7.08" height="2.98" fill="#a17af4"/><rect x="446.00" y="452.88" width="7.08" height="2.98" fill="#ff492a"/><rect x="452.68" y="452.88" width="7.08" height="2.98" fill="#ff8766"/><rect x="459.36" y="452.88" width="7.08" height="2.98" fill="#ffa387"/><rect x="466.04" y="452.88" width="7.08" height="2.98" fill="#ff714f"/><rect x="472.72" y="452.88" width="7.08" height="2.98" fill="#ff9b7e"/><rect x="479.40" y="452.88" width="7.08" height="2.98" fill="#fdfcff"/><rect x="486.08" y="452.88" width="7.08" height="2.98" fill="#f1e6ff"/><rect x="492.76" y="452.88" width="7.08" height="2.98" fill="#eadbfe"/><rect x="499.44" y="452.88" width="7.08" height="2.98" fill="#e8d7fe"/><rect x="506.12" y="452.88" width="7.08" height="2.98" fill="#ede0fe"/><rect x="512.80" y="452.88" width="7.08" height="2.98" fill="#a27bf4"/><rect x="519.48" y="452.88" width="7.08" height="2.98" fill="#a27bf4"/><rect x="526.16" y="452.88" width="7.08" height="2.98" fill="#a27bf4"/><rect x="532.84" y="452.88" width="7.08" height="2.98" fill="#a680f5"/><rect x="539.52" y="452.88" width="7.08" height="2.98" fill="#a47ef5"/><rect x="446.00" y="455.46" width="7.08" height="2.98" fill="#ff6240"/><rect x="452.68" y="455.46" width="7.08" height="2.98" fill="#ff8a6a"/><rect x="459.36" y="455.46" width="7.08" height="2.98" fill="#ff9c7f"/><rect x="466.04" y="455.46" width="7.08" height="2.98" fill="#ff987b"/><rect x="472.72" y="455.46" width="7.08" height="2.98" fill="#ffaa90"/><rect x="479.40" y="455.46" width="7.08" height="2.98" fill="#f9f5ff"/><rect x="486.08" y="455.46" width="7.08" height="2.98" fill="#eddffe"/><rect x="492.76" y="455.46" width="7.08" height="2.98" fill="#e7d6fe"/><rect x="499.44" y="455.46" width="7.08" height="2.98" fill="#e4d0fe"/><rect x="506.12" y="455.46" width="7.08" height="2.98" fill="#e9d9fe"/><rect x="512.80" y="455.46" width="7.08" height="2.98" fill="#a079f4"/><rect x="519.48" y="455.46" width="7.08" height="2.98" fill="#9b73f4"/><rect x="526.16" y="455.46" width="7.08" height="2.98" fill="#9d76f4"/><rect x="532.84" y="455.46" width="7.08" height="2.98" fill="#9f78f4"/><rect x="539.52" y="455.46" width="7.08" height="2.98" fill="#9e77f4"/><rect x="446.00" y="458.04" width="7.08" height="2.98" fill="#ff4125"/><rect x="452.68" y="458.04" width="7.08" height="2.98" fill="#ff8464"/><rect x="459.36" y="458.04" width="7.08" height="2.98" fill="#ff9b7e"/><rect x="466.04" y="458.04" width="7.08" height="2.98" fill="#ff8a6a"/><rect x="472.72" y="458.04" width="7.08" height="2.98" fill="#ff8e6e"/><rect x="479.40" y="458.04" width="7.08" height="2.98" fill="#fffdfd"/><rect x="486.08" y="458.04" width="7.08" height="2.98" fill="#f4ecff"/><rect x="492.76" y="458.04" width="7.08" height="2.98" fill="#ebddfe"/><rect x="499.44" y="458.04" width="7.08" height="2.98" fill="#ebddfe"/><rect x="506.12" y="458.04" width="7.08" height="2.98" fill="#efe4ff"/><rect x="512.80" y="458.04" width="7.08" height="2.98" fill="#a883f5"/><rect x="519.48" y="458.04" width="7.08" height="2.98" fill="#a57ff5"/><rect x="526.16" y="458.04" width="7.08" height="2.98" fill="#a680f5"/><rect x="532.84" y="458.04" width="7.08" height="2.98" fill="#a37cf4"/><rect x="539.52" y="458.04" width="7.08" height="2.98" fill="#a680f5"/><rect x="446.00" y="460.62" width="7.08" height="2.98" fill="#ff5f3e"/><rect x="452.68" y="460.62" width="7.08" height="2.98" fill="#ff9779"/><rect x="459.36" y="460.62" width="7.08" height="2.98" fill="#ffaa90"/><rect x="466.04" y="460.62" width="7.08" height="2.98" fill="#ff9e81"/><rect x="472.72" y="460.62" width="7.08" height="2.98" fill="#ffa98e"/><rect x="479.40" y="460.62" width="7.08" height="2.98" fill="#fbf8ff"/><rect x="486.08" y="460.62" width="7.08" height="2.98" fill="#ecdffe"/><rect x="492.76" y="460.62" width="7.08" height="2.98" fill="#e8d7fe"/><rect x="499.44" y="460.62" width="7.08" height="2.98" fill="#eadbfe"/><rect x="506.12" y="460.62" width="7.08" height="2.98" fill="#ebddfe"/><rect x="512.80" y="460.62" width="7.08" height="2.98" fill="#a47df5"/><rect x="519.48" y="460.62" width="7.08" height="2.98" fill="#9f78f4"/><rect x="526.16" y="460.62" width="7.08" height="2.98" fill="#a27bf4"/><rect x="532.84" y="460.62" width="7.08" height="2.98" fill="#a17af4"/><rect x="539.52" y="460.62" width="7.08" height="2.98" fill="#9f78f4"/><rect x="446.00" y="463.19" width="7.08" height="2.98" fill="#ff6644"/><rect x="452.68" y="463.19" width="7.08" height="2.98" fill="#ffa58a"/><rect x="459.36" y="463.19" width="7.08" height="2.98" fill="#ff9274"/><rect x="466.04" y="463.19" width="7.08" height="2.98" fill="#ff8d6d"/><rect x="472.72" y="463.19" width="7.08" height="2.98" fill="#ffa88d"/><rect x="479.40" y="463.19" width="7.08" height="2.98" fill="#f8f3ff"/><rect x="486.08" y="463.19" width="7.08" height="2.98" fill="#f1e6ff"/><rect x="492.76" y="463.19" width="7.08" height="2.98" fill="#e5d3fe"/><rect x="499.44" y="463.19" width="7.08" height="2.98" fill="#e8d7fe"/><rect x="506.12" y="463.19" width="7.08" height="2.98" fill="#e6d4fe"/><rect x="512.80" y="463.19" width="7.08" height="2.98" fill="#a079f4"/><rect x="519.48" y="463.19" width="7.08" height="2.98" fill="#a079f4"/><rect x="526.16" y="463.19" width="7.08" height="2.98" fill="#a37cf4"/><rect x="532.84" y="463.19" width="7.08" height="2.98" fill="#9d75f4"/><rect x="539.52" y="463.19" width="7.08" height="2.98" fill="#a079f4"/><rect x="446.00" y="465.77" width="7.08" height="2.98" fill="#ff4a2c"/><rect x="452.68" y="465.77" width="7.08" height="2.98" fill="#ff8363"/><rect x="459.36" y="465.77" width="7.08" height="2.98" fill="#ff9b7e"/><rect x="466.04" y="465.77" width="7.08" height="2.98" fill="#ff9071"/><rect x="472.72" y="465.77" width="7.08" height="2.98" fill="#ff8d6e"/><rect x="479.40" y="465.77" width="7.08" height="2.98" fill="#fffcfa"/><rect x="486.08" y="465.77" width="7.08" height="2.98" fill="#efe4ff"/><rect x="492.76" y="465.77" width="7.08" height="2.98" fill="#e8d7fe"/><rect x="499.44" y="465.77" width="7.08" height="2.98" fill="#eee1fe"/><rect x="506.12" y="465.77" width="7.08" height="2.98" fill="#ede0fe"/><rect x="512.80" y="465.77" width="7.08" height="2.98" fill="#a984f5"/><rect x="519.48" y="465.77" width="7.08" height="2.98" fill="#a984f5"/><rect x="526.16" y="465.77" width="7.08" height="2.98" fill="#a781f5"/><rect x="532.84" y="465.77" width="7.08" height="2.98" fill="#a883f5"/><rect x="539.52" y="465.77" width="7.08" height="2.98" fill="#a37cf4"/><rect x="446.00" y="468.35" width="7.08" height="2.98" fill="#ff4527"/><rect x="452.68" y="468.35" width="7.08" height="2.98" fill="#ff7857"/><rect x="459.36" y="468.35" width="7.08" height="2.98" fill="#ff8969"/><rect x="466.04" y="468.35" width="7.08" height="2.98" fill="#ff7857"/><rect x="472.72" y="468.35" width="7.08" height="2.98" fill="#ff9273"/><rect x="479.40" y="468.35" width="7.08" height="2.98" fill="#fbf8ff"/><rect x="486.08" y="468.35" width="7.08" height="2.98" fill="#eadbfe"/><rect x="492.76" y="468.35" width="7.08" height="2.98" fill="#ecdefe"/><rect x="499.44" y="468.35" width="7.08" height="2.98" fill="#eddffe"/><rect x="506.12" y="468.35" width="7.08" height="2.98" fill="#e9dafe"/><rect x="512.80" y="468.35" width="7.08" height="2.98" fill="#a882f5"/><rect x="519.48" y="468.35" width="7.08" height="2.98" fill="#a680f5"/><rect x="526.16" y="468.35" width="7.08" height="2.98" fill="#a781f5"/><rect x="532.84" y="468.35" width="7.08" height="2.98" fill="#a47ef5"/><rect x="539.52" y="468.35" width="7.08" height="2.98" fill="#a27bf4"/><rect x="446.00" y="470.92" width="7.08" height="2.98" fill="#ff4225"/><rect x="452.68" y="470.92" width="7.08" height="2.98" fill="#ff8a6a"/><rect x="459.36" y="470.92" width="7.08" height="2.98" fill="#ff9d80"/><rect x="466.04" y="470.92" width="7.08" height="2.98" fill="#ff7b5a"/><rect x="472.72" y="470.92" width="7.08" height="2.98" fill="#ff9476"/><rect x="479.40" y="470.92" width="7.08" height="2.98" fill="#fcf9ff"/><rect x="486.08" y="470.92" width="7.08" height="2.98" fill="#eadafe"/><rect x="492.76" y="470.92" width="7.08" height="2.98" fill="#eee1fe"/><rect x="499.44" y="470.92" width="7.08" height="2.98" fill="#e8d7fe"/><rect x="506.12" y="470.92" width="7.08" height="2.98" fill="#ebdcfe"/><rect x="512.80" y="470.92" width="7.08" height="2.98" fill="#a47ef5"/><rect x="519.48" y="470.92" width="7.08" height="2.98" fill="#a680f5"/><rect x="526.16" y="470.92" width="7.08" height="2.98" fill="#a17bf4"/><rect x="532.84" y="470.92" width="7.08" height="2.98" fill="#a883f5"/><rect x="539.52" y="470.92" width="7.08" height="2.98" fill="#a781f5"/><rect x="549.0" y="440.00" width="6.9" height="2.98" fill="#A6CEE3"/><rect x="549.0" y="442.58" width="6.9" height="2.98" fill="#FB9A99"/><rect x="549.0" y="445.15" width="6.9" height="2.98" fill="#A6CEE3"/><rect x="549.0" y="447.73" width="6.9" height="2.98" fill="#E31A1C"/><rect x="549.0" y="450.31" width="6.9" height="2.98" fill="#E31A1C"/><rect x="549.0" y="452.88" width="6.9" height="2.98" fill="#E31A1C"/><rect x="549.0" y="455.46" width="6.9" height="2.98" fill="#E31A1C"/><rect x="549.0" y="458.04" width="6.9" height="2.98" fill="#FDBF6F"/><rect x="549.0" y="460.62" width="6.9" height="2.98" fill="#E31A1C"/><rect x="549.0" y="463.19" width="6.9" height="2.98" fill="#FDBF6F"/><rect x="549.0" y="465.77" width="6.9" height="2.98" fill="#FDBF6F"/><rect x="549.0" y="468.35" width="6.9" height="2.98" fill="#B2DF8A"/><rect x="549.0" y="470.92" width="6.9" height="2.98" fill="#E31A1C"/><rect x="558.5" y="440.00" width="6.9" height="2.98" fill="#FFFF99"/><rect x="558.5" y="442.58" width="6.9" height="2.98" fill="#FDBF6F"/><rect x="558.5" y="445.15" width="6.9" height="2.98" fill="#FDBF6F"/><rect x="558.5" y="447.73" width="6.9" height="2.98" fill="#FDBF6F"/><rect x="558.5" y="450.31" width="6.9" height="2.98" fill="#FDBF6F"/><rect x="558.5" y="452.88" width="6.9" height="2.98" fill="#FFFF99"/><rect x="558.5" y="455.46" width="6.9" height="2.98" fill="#FDBF6F"/><rect x="558.5" y="458.04" width="6.9" height="2.98" fill="#FFFF99"/><rect x="558.5" y="460.62" width="6.9" height="2.98" fill="#FDBF6F"/><rect x="558.5" y="463.19" width="6.9" height="2.98" fill="#FFFF99"/><rect x="558.5" y="465.77" width="6.9" height="2.98" fill="#FB9A99"/><rect x="558.5" y="468.35" width="6.9" height="2.98" fill="#B2DF8A"/><rect x="558.5" y="470.92" width="6.9" height="2.98" fill="#A6CEE3"/><rect x="568.0" y="440.00" width="6.9" height="2.98" fill="#CAB2D6"/><rect x="568.0" y="442.58" width="6.9" height="2.98" fill="#6A3D9A"/><rect x="568.0" y="445.15" width="6.9" height="2.98" fill="#FDBF6F"/><rect x="568.0" y="447.73" width="6.9" height="2.98" fill="#6A3D9A"/><rect x="568.0" y="450.31" width="6.9" height="2.98" fill="#FFFF99"/><rect x="568.0" y="452.88" width="6.9" height="2.98" fill="#1F78B4"/><rect x="568.0" y="455.46" width="6.9" height="2.98" fill="#A6CEE3"/><rect x="568.0" y="458.04" width="6.9" height="2.98" fill="#B2DF8A"/><rect x="568.0" y="460.62" width="6.9" height="2.98" fill="#6A3D9A"/><rect x="568.0" y="463.19" width="6.9" height="2.98" fill="#1F78B4"/><rect x="568.0" y="465.77" width="6.9" height="2.98" fill="#1F78B4"/><rect x="568.0" y="468.35" width="6.9" height="2.98" fill="#33A02C"/><rect x="568.0" y="470.92" width="6.9" height="2.98" fill="#A6CEE3"/></g><rect x="445.5" y="182.20" width="101.20" height="1.20" fill="#fff"/><rect x="548.5" y="182.20" width="28" height="1.20" fill="#fff"/><rect x="445.5" y="198.60" width="101.20" height="1.40" fill="#fff"/><rect x="548.5" y="198.60" width="28" height="1.40" fill="#fff"/><rect x="445.5" y="212.40" width="101.20" height="1.40" fill="#fff"/><rect x="548.5" y="212.40" width="28" height="1.40" fill="#fff"/><rect x="445.5" y="225.80" width="101.20" height="1.40" fill="#fff"/><rect x="548.5" y="225.80" width="28" height="1.40" fill="#fff"/><rect x="445.5" y="257.60" width="101.20" height="1.80" fill="#fff"/><rect x="548.5" y="257.60" width="28" height="1.80" fill="#fff"/><rect x="445.5" y="385.10" width="101.20" height="1.70" fill="#fff"/><rect x="548.5" y="385.10" width="28" height="1.70" fill="#fff"/><rect x="445.5" y="438.40" width="101.20" height="1.60" fill="#fff"/><rect x="548.5" y="438.40" width="28" height="1.60" fill="#fff"/><text x="548.6" y="177.3" font-size="7.0" text-anchor="start" font-weight="bold" fill="#000" font-style="normal" textLength="8" lengthAdjust="spacingAndGlyphs">MF</text><text x="557.3" y="177.3" font-size="7.0" text-anchor="start" font-weight="bold" fill="#000" font-style="normal" textLength="9" lengthAdjust="spacingAndGlyphs">CC</text><text x="567.5" y="177.3" font-size="7.0" text-anchor="start" font-weight="bold" fill="#000" font-style="normal" textLength="8" lengthAdjust="spacingAndGlyphs">BP</text><text x="426.3" y="183.79999999999998" font-size="11" text-anchor="middle" font-weight="normal" fill="#000" font-style="normal" >1</text><text x="426.3" y="195.1" font-size="11" text-anchor="middle" font-weight="normal" fill="#000" font-style="normal" >2</text><text x="426.3" y="210.6" font-size="11" text-anchor="middle" font-weight="normal" fill="#000" font-style="normal" >3</text><text x="426.3" y="223.29999999999998" font-size="11" text-anchor="middle" font-weight="normal" fill="#000" font-style="normal" >4</text><text x="426.3" y="242.2" font-size="11" text-anchor="middle" font-weight="normal" fill="#000" font-style="normal" >5</text><text x="426.3" y="324.20000000000005" font-size="11" text-anchor="middle" font-weight="normal" fill="#000" font-style="normal" >6</text><text x="426.3" y="415.70000000000005" font-size="11" text-anchor="middle" font-weight="normal" fill="#000" font-style="normal" >7</text><text x="426.3" y="458.70000000000005" font-size="11" text-anchor="middle" font-weight="normal" fill="#000" font-style="normal" >8</text><text transform="translate(415.7,307.8) rotate(-90)" font-size="8.1" text-anchor="middle" fill="#111">clusters</text><line x1="431.7" y1="180.2" x2="444.5" y2="180.2" stroke="#111" stroke-width="0.9"/><line x1="431.7" y1="180.2" x2="431.7" y2="264.3" stroke="#111" stroke-width="0.9"/><line x1="431.7" y1="264.3" x2="435.3" y2="264.3" stroke="#111" stroke-width="0.9"/><line x1="436.8" y1="193.5" x2="436.8" y2="220.5" stroke="#111" stroke-width="0.9"/><line x1="435.3" y1="207" x2="436.8" y2="207" stroke="#111" stroke-width="0.9"/><line x1="435.3" y1="207" x2="435.3" y2="326" stroke="#111" stroke-width="0.9"/><line x1="435.3" y1="326" x2="437.4" y2="326" stroke="#111" stroke-width="0.9"/><line x1="437.4" y1="242" x2="437.4" y2="463.3" stroke="#111" stroke-width="0.9"/><line x1="437.4" y1="242" x2="442.2" y2="242" stroke="#111" stroke-width="0.9"/><line x1="437.4" y1="463.3" x2="442.0" y2="463.3" stroke="#111" stroke-width="0.9"/><line x1="436.8" y1="193.5" x2="440.2" y2="193.5" stroke="#111" stroke-width="0.9"/><line x1="436.8" y1="205" x2="441.5" y2="205" stroke="#111" stroke-width="0.9"/><line x1="436.8" y1="220.5" x2="441.5" y2="220.5" stroke="#111" stroke-width="0.9"/><line x1="439.3" y1="300" x2="439.3" y2="423.3" stroke="#111" stroke-width="0.9"/><line x1="437.4" y1="360" x2="439.3" y2="360" stroke="#111" stroke-width="0.9"/><line x1="439.3" y1="300" x2="442.6" y2="300" stroke="#111" stroke-width="0.9"/><line x1="439.3" y1="423.3" x2="442.0" y2="423.3" stroke="#111" stroke-width="0.9"/><path d="M446.0,192.3H445.2V194.8H446.0M445.2,193.5H444.6V197.3H446.0M446.0,187.2H445.7V189.7H446.0M446.0,184.7H445.2V188.5H445.7M445.2,186.6H440.2V195.4H444.6M446.0,201.2H445.7V203.7H446.0M445.7,202.5H444.8V206.2H446.0M444.8,204.3H444.4V208.7H446.0M444.4,206.5H441.5V211.2H446.0M446.0,219.8H445.1V222.2H446.0M446.0,215.0H445.2V217.4H446.0M445.1,221.0H444.6V224.6H446.0M445.2,216.2H441.5V222.8H444.6M446.0,246.2H445.7V248.7H446.0M446.0,243.7H445.1V247.5H445.7M446.0,253.8H445.2V256.3H446.0M446.0,233.5H445.7V236.1H446.0M445.7,234.8H444.9V238.6H446.0M445.1,245.6H444.7V251.3H446.0M444.9,236.7H444.1V241.1H446.0M444.7,248.4H444.4V255.1H445.2M444.1,238.9H443.8V251.7H444.4M446.0,231.0H443.2V245.3H443.8M446.0,228.5H442.2V238.2H443.2M446.0,373.8H445.5V376.3H446.0M446.0,283.3H445.2V285.8H446.0M446.0,278.3H445.7V280.8H446.0M446.0,300.9H445.3V303.4H446.0M446.0,333.6H445.2V336.1H446.0M446.0,316.0H445.6V318.5H446.0M446.0,265.7H445.2V268.2H446.0M445.3,302.1H444.7V305.9H446.0M446.0,295.9H445.6V298.4H446.0M446.0,328.5H445.7V331.0H446.0M444.7,304.0H444.4V308.4H446.0M445.5,375.0H444.7V378.8H446.0M446.0,321.0H445.1V323.5H446.0M446.0,310.9H445.5V313.5H446.0M445.2,284.5H444.6V288.3H446.0M446.0,371.3H444.3V376.9H444.7M445.6,297.1H443.7V306.2H444.4M446.0,353.7H445.3V356.2H446.0M446.0,346.1H445.6V348.6H446.0M445.1,322.2H444.5V326.0H446.0M446.0,343.6H444.9V347.4H445.6M445.2,266.9H444.6V270.7H446.0M444.3,374.1H443.6V381.3H446.0M443.7,301.7H443.3V312.2H445.5M446.0,275.7H444.9V279.5H445.7M445.6,317.2H444.0V324.1H444.5M446.0,260.7H445.4V263.2H446.0M445.3,354.9H444.4V358.7H446.0M446.0,351.2H443.7V356.8H444.4M443.6,377.7H442.8V383.8H446.0M446.0,273.2H444.2V277.6H444.9M444.2,275.4H443.4V286.4H444.6M446.0,368.8H442.6V380.8H442.8M444.0,320.7H443.4V329.8H445.7M446.0,341.1H444.4V345.5H444.9M446.0,366.2H442.6V374.8H442.6M444.6,268.8H442.8V280.9H443.4M445.4,261.9H442.6V274.9H442.8M446.0,338.6H443.6V343.3H444.4M446.0,363.7H442.6V370.5H442.6M446.0,293.3H443.0V306.9H443.3M446.0,361.2H442.6V367.1H442.6M442.6,268.4H442.6V290.8H446.0M442.6,279.6H442.6V300.1H443.0M442.6,289.9H442.6V325.2H443.4M443.7,354.0H442.6V364.2H442.6M442.6,307.6H442.6V334.8H445.2M443.6,340.9H442.6V359.1H442.6M442.6,321.2H442.6V350.0H442.6M446.0,422.4H445.2V424.9H446.0M446.0,392.9H445.6V395.4H446.0M446.0,407.7H445.7V410.1H446.0M445.7,408.9H445.5V412.6H446.0M446.0,427.3H445.5V429.8H446.0M445.6,394.2H444.7V397.9H446.0M445.5,410.8H444.9V415.1H446.0M446.0,432.3H445.5V434.7H446.0M446.0,388.0H445.2V390.5H446.0M446.0,420.0H444.7V423.7H445.2M445.2,389.3H444.2V396.0H444.7M445.5,428.6H444.8V433.5H445.5M444.8,431.0H444.2V437.2H446.0M446.0,417.5H444.0V421.8H444.7M444.9,412.9H443.8V419.7H444.0M446.0,405.2H443.5V416.3H443.8M443.5,410.8H443.1V434.1H444.2M444.2,392.6H443.8V400.3H446.0M443.8,396.5H443.4V402.8H446.0M443.4,399.6H442.0V422.4H443.1M446.0,441.3H445.2V443.9H446.0M446.0,464.5H445.5V467.1H446.0M446.0,451.6H445.5V454.2H446.0M446.0,449.0H444.7V452.9H445.5M446.0,461.9H444.7V465.8H445.5M446.0,446.4H444.0V451.0H444.7M446.0,456.8H445.5V459.3H446.0M445.2,442.6H443.6V448.7H444.0M446.0,469.6H445.2V472.2H446.0M443.6,445.6H442.9V458.0H445.5M444.7,463.8H444.1V470.9H445.2M442.9,451.8H442.0V467.4H444.1" fill="none" stroke="#000" stroke-width="0.75"/><text x="578.2" y="188.3" font-size="6.0" text-anchor="start" font-weight="bold" fill="#000" font-style="normal" >Group</text><rect x="578.2" y="191.29999999999998" width="5" height="4.7" fill="#1073c3"/><text x="585.2" y="195.7" font-size="5.9" text-anchor="start" font-weight="normal" fill="#111" font-style="normal" >lp01</text><rect x="578.2" y="197.4" width="5" height="4.7" fill="#8c8c8c"/><text x="585.2" y="201.8" font-size="5.9" text-anchor="start" font-weight="normal" fill="#111" font-style="normal" >plasma</text><rect x="578.2" y="203.4" width="5" height="4.7" fill="#9a4fab"/><text x="585.2" y="207.8" font-size="5.9" text-anchor="start" font-weight="normal" fill="#111" font-style="normal" >sang</text><text x="578.6" y="220" font-size="5.95" text-anchor="start" font-weight="bold" fill="#000" font-style="normal" >Scaled Abundance</text><defs><linearGradient id="sab" x1="0" y1="0" x2="0" y2="1"><stop offset="0.000" stop-color="#ff0000"/><stop offset="0.050" stop-color="#ff3e22"/><stop offset="0.100" stop-color="#ff5b3a"/><stop offset="0.150" stop-color="#ff7352"/><stop offset="0.200" stop-color="#ff8969"/><stop offset="0.250" stop-color="#ff9e81"/><stop offset="0.300" stop-color="#ffb299"/><stop offset="0.350" stop-color="#ffc6b2"/><stop offset="0.400" stop-color="#ffd9cb"/><stop offset="0.450" stop-color="#ffece5"/><stop offset="0.500" stop-color="#ffffff"/><stop offset="0.550" stop-color="#f2e7ff"/><stop offset="0.600" stop-color="#e3d0ff"/><stop offset="0.650" stop-color="#d4b9ff"/><stop offset="0.700" stop-color="#c4a2ff"/><stop offset="0.750" stop-color="#b38bff"/><stop offset="0.800" stop-color="#a074ff"/><stop offset="0.850" stop-color="#8a5dff"/><stop offset="0.900" stop-color="#7145ff"/><stop offset="0.950" stop-color="#502bff"/><stop offset="1.000" stop-color="#0000ff"/></linearGradient></defs><rect x="578.6" y="222.2" width="6.3" height="32.4" fill="url(#sab)"/><line x1="578.6" y1="224.1" x2="579.8" y2="224.1" stroke="#fff" stroke-width="0.6"/><line x1="583.7" y1="224.1" x2="584.9" y2="224.1" stroke="#fff" stroke-width="0.6"/><text x="596.4" y="226.1" font-size="5.9" text-anchor="end" font-weight="normal" fill="#111" font-style="normal" >2</text><line x1="578.6" y1="231.5" x2="579.8" y2="231.5" stroke="#fff" stroke-width="0.6"/><line x1="583.7" y1="231.5" x2="584.9" y2="231.5" stroke="#fff" stroke-width="0.6"/><text x="596.4" y="233.5" font-size="5.9" text-anchor="end" font-weight="normal" fill="#111" font-style="normal" >1</text><line x1="578.6" y1="238.8" x2="579.8" y2="238.8" stroke="#fff" stroke-width="0.6"/><line x1="583.7" y1="238.8" x2="584.9" y2="238.8" stroke="#fff" stroke-width="0.6"/><text x="596.4" y="240.8" font-size="5.9" text-anchor="end" font-weight="normal" fill="#111" font-style="normal" >0</text><line x1="578.6" y1="246.2" x2="579.8" y2="246.2" stroke="#fff" stroke-width="0.6"/><line x1="583.7" y1="246.2" x2="584.9" y2="246.2" stroke="#fff" stroke-width="0.6"/><text x="596.4" y="248.2" font-size="5.9" text-anchor="end" font-weight="normal" fill="#111" font-style="normal" >&#8722;1</text><line x1="578.6" y1="253.1" x2="579.8" y2="253.1" stroke="#fff" stroke-width="0.6"/><line x1="583.7" y1="253.1" x2="584.9" y2="253.1" stroke="#fff" stroke-width="0.6"/><text x="596.4" y="255.1" font-size="5.9" text-anchor="end" font-weight="normal" fill="#111" font-style="normal" >&#8722;2</text><text x="578.6" y="264.20000000000005" font-size="6.0" text-anchor="start" font-weight="bold" fill="#000" font-style="normal" >Molecular Function (MF)</text><rect x="579.2" y="267.60" width="5.1" height="5.0" fill="#A6CEE3"/><text x="586" y="272.15" font-size="5.85" text-anchor="start" font-weight="normal" fill="#111" font-style="normal" >none</text><rect x="579.2" y="273.60" width="5.1" height="5.0" fill="#1F78B4"/><text x="586" y="278.15" font-size="5.85" text-anchor="start" font-weight="normal" fill="#111" font-style="normal" >bone, tooth or skin structural activity</text><rect x="579.2" y="279.60" width="5.1" height="5.0" fill="#B2DF8A"/><text x="586" y="284.15" font-size="5.85" text-anchor="start" font-weight="normal" fill="#111" font-style="normal" >cytoskeletal activity</text><rect x="579.2" y="285.60" width="5.1" height="5.0" fill="#33A02C"/><text x="586" y="290.15" font-size="5.85" text-anchor="start" font-weight="normal" fill="#111" font-style="normal" >enzyme regulator activity</text><rect x="579.2" y="291.60" width="5.1" height="5.0" fill="#FB9A99"/><text x="586" y="296.15" font-size="5.85" text-anchor="start" font-weight="normal" fill="#111" font-style="normal" >nucleic acid binding activity</text><rect x="579.2" y="297.60" width="5.1" height="5.0" fill="#E31A1C"/><text x="586" y="302.15" font-size="5.85" text-anchor="start" font-weight="normal" fill="#111" font-style="normal" >other molecular function</text><rect x="579.2" y="303.60" width="5.1" height="5.0" fill="#FDBF6F"/><text x="586" y="308.15" font-size="5.85" text-anchor="start" font-weight="normal" fill="#111" font-style="normal" >signal transduction or receptor binding</text><rect x="579.2" y="309.60" width="5.1" height="5.0" fill="#FF7F00"/><text x="586" y="314.15" font-size="5.85" text-anchor="start" font-weight="normal" fill="#111" font-style="normal" >transporter activity</text><text x="578.6" y="325.1" font-size="6.0" text-anchor="start" font-weight="bold" fill="#000" font-style="normal" >Cellular Component (CC)</text><rect x="579.2" y="328.60" width="5.1" height="5.0" fill="#A6CEE3"/><text x="586" y="333.15" font-size="5.85" text-anchor="start" font-weight="normal" fill="#111" font-style="normal" >none</text><rect x="579.2" y="334.60" width="5.1" height="5.0" fill="#1F78B4"/><text x="586" y="339.15" font-size="5.85" text-anchor="start" font-weight="normal" fill="#111" font-style="normal" >cytoskeleton</text><rect x="579.2" y="340.60" width="5.1" height="5.0" fill="#B2DF8A"/><text x="586" y="345.15" font-size="5.85" text-anchor="start" font-weight="normal" fill="#111" font-style="normal" >cytosol</text><rect x="579.2" y="346.60" width="5.1" height="5.0" fill="#33A02C"/><text x="586" y="351.15" font-size="5.85" text-anchor="start" font-weight="normal" fill="#111" font-style="normal" >ER/Golgi</text><rect x="579.2" y="352.60" width="5.1" height="5.0" fill="#FB9A99"/><text x="586" y="357.15" font-size="5.85" text-anchor="start" font-weight="normal" fill="#111" font-style="normal" >extracellular matrix</text><rect x="579.2" y="358.60" width="5.1" height="5.0" fill="#E31A1C"/><text x="586" y="363.15" font-size="5.85" text-anchor="start" font-weight="normal" fill="#111" font-style="normal" >mitochondrion</text><rect x="579.2" y="364.60" width="5.1" height="5.0" fill="#FDBF6F"/><text x="586" y="369.15" font-size="5.85" text-anchor="start" font-weight="normal" fill="#111" font-style="normal" >non&#8722;structural extracellular</text><rect x="579.2" y="370.60" width="5.1" height="5.0" fill="#FF7F00"/><text x="586" y="375.15" font-size="5.85" text-anchor="start" font-weight="normal" fill="#111" font-style="normal" >nucleus</text><rect x="579.2" y="376.60" width="5.1" height="5.0" fill="#CAB2D6"/><text x="586" y="381.15" font-size="5.85" text-anchor="start" font-weight="normal" fill="#111" font-style="normal" >other cell component</text><rect x="579.2" y="382.60" width="5.1" height="5.0" fill="#6A3D9A"/><text x="586" y="387.15" font-size="5.85" text-anchor="start" font-weight="normal" fill="#111" font-style="normal" >other membranes</text><rect x="579.2" y="388.60" width="5.1" height="5.0" fill="#FFFF99"/><text x="586" y="393.15" font-size="5.85" text-anchor="start" font-weight="normal" fill="#111" font-style="normal" >plasma membrane</text><text x="578.6" y="404.0" font-size="6.0" text-anchor="start" font-weight="bold" fill="#000" font-style="normal" >Biological Process (BP)</text><rect x="579.2" y="406.80" width="5.1" height="5.0" fill="#A6CEE3"/><text x="586" y="411.35" font-size="5.85" text-anchor="start" font-weight="normal" fill="#111" font-style="normal" >none</text><rect x="579.2" y="412.80" width="5.1" height="5.0" fill="#1F78B4"/><text x="586" y="417.35" font-size="5.85" text-anchor="start" font-weight="normal" fill="#111" font-style="normal" >cell adhesion</text><rect x="579.2" y="418.80" width="5.1" height="5.0" fill="#B2DF8A"/><text x="586" y="423.35" font-size="5.85" text-anchor="start" font-weight="normal" fill="#111" font-style="normal" >cell cycle OR cell proliferation</text><rect x="579.2" y="424.80" width="5.1" height="5.0" fill="#33A02C"/><text x="586" y="429.35" font-size="5.85" text-anchor="start" font-weight="normal" fill="#111" font-style="normal" >cell organization and biogenesis</text><rect x="579.2" y="430.80" width="5.1" height="5.0" fill="#FB9A99"/><text x="586" y="435.35" font-size="5.85" text-anchor="start" font-weight="normal" fill="#111" font-style="normal" >cell&#8722;cell signaling</text><rect x="579.2" y="436.80" width="5.1" height="5.0" fill="#E31A1C"/><text x="586" y="441.35" font-size="5.85" text-anchor="start" font-weight="normal" fill="#111" font-style="normal" >developmental processes</text><rect x="579.2" y="442.80" width="5.1" height="5.0" fill="#FDBF6F"/><text x="586" y="447.35" font-size="5.85" text-anchor="start" font-weight="normal" fill="#111" font-style="normal" >other biological processes</text><rect x="579.2" y="448.80" width="5.1" height="5.0" fill="#FF7F00"/><text x="586" y="453.35" font-size="5.85" text-anchor="start" font-weight="normal" fill="#111" font-style="normal" >other metabolic processes</text><rect x="579.2" y="454.80" width="5.1" height="5.0" fill="#CAB2D6"/><text x="586" y="459.35" font-size="5.85" text-anchor="start" font-weight="normal" fill="#111" font-style="normal" >protein metabolism</text><rect x="579.2" y="460.80" width="5.1" height="5.0" fill="#6A3D9A"/><text x="586" y="465.35" font-size="5.85" text-anchor="start" font-weight="normal" fill="#111" font-style="normal" >stress response</text><rect x="579.2" y="466.80" width="5.1" height="5.0" fill="#FFFF99"/><text x="586" y="471.35" font-size="5.85" text-anchor="start" font-weight="normal" fill="#111" font-style="normal" >transport</text>
</svg></body></html>
